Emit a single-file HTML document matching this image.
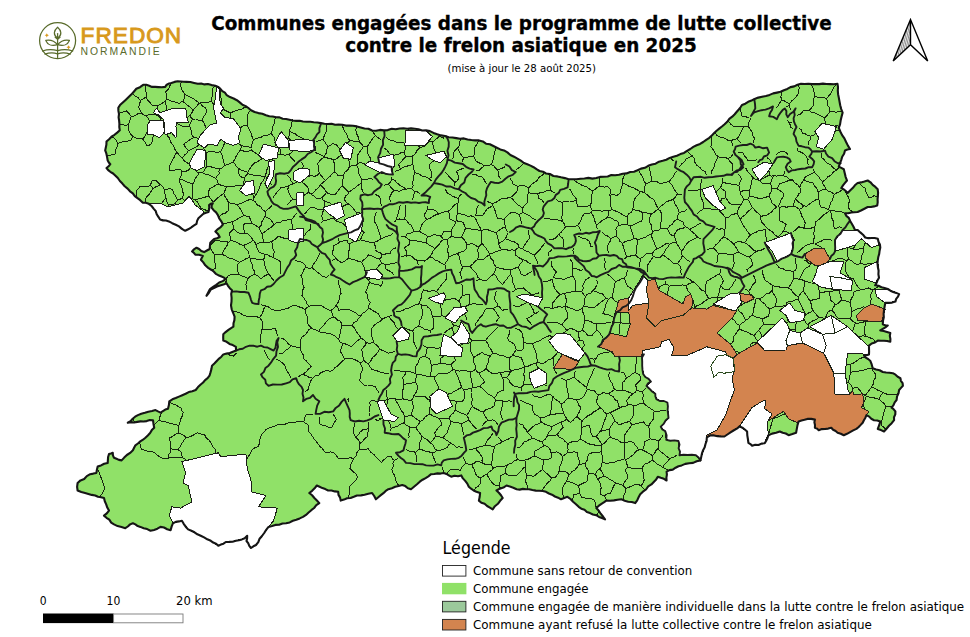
<!DOCTYPE html>
<html lang="fr"><head><meta charset="utf-8"><title>Communes engagées dans le programme de lutte collective contre le frelon asiatique en 2025</title>
<style>html,body{margin:0;padding:0;background:#fff}body{width:970px;height:637px;position:relative;overflow:hidden}</style>
</head><body>
<svg width="970" height="637" viewBox="0 0 970 637" style="position:absolute;left:0;top:0">
<rect width="970" height="637" fill="#fff"/>
<g stroke-linejoin="round" stroke-linecap="round">
<path d="M118.3 107.7 L120.0 105.1 L136.3 88.8 L143.2 84.8 L155.1 86.9 L165.2 86.9 L168.3 83.8 L177.7 81.3 L186.5 81.9 L197.8 83.8 L207.9 84.0 L215.4 85.7 L220.4 88.8 L226.7 95.1 L240.0 102.6 L251.0 110.2 L266.0 115.2 L286.1 119.0 L303.0 121.5 L328.0 124.0 L353.0 125.8 L376.0 130.8 L403.5 128.3 L426.0 130.3 L448.7 137.3 L479.0 140.4 L504.0 150.4 L524.0 163.0 L546.0 173.5 L568.6 179.3 L596.3 178.0 L634.0 171.8 L659.0 161.7 L684.0 152.9 L709.3 137.8 L721.9 126.5 L737.0 111.5 L742.0 105.0 L754.6 98.9 L777.0 92.6 L801.0 83.8 L837.5 83.8 L838.8 97.6 L842.6 112.7 L838.8 127.8 L850.0 149.0 L845.0 150.4 L838.8 166.7 L843.8 169.2 L847.0 180.5 L841.3 188.0 L847.6 193.0 L857.6 183.0 L867.7 180.5 L877.7 189.3 L877.2 205.6 L867.7 207.0 L857.6 212.0 L845.0 213.2 L850.0 220.7 L855.0 230.0 L857.7 230.0 L865.2 237.5 L877.8 238.8 L880.3 247.6 L877.8 260.2 L879.0 277.7 L875.2 285.3 L887.8 289.0 L899.1 294.1 L895.4 301.6 L885.3 302.9 L884.0 310.4 L882.8 324.2 L887.8 325.5 L880.3 330.5 L890.3 333.0 L890.3 341.8 L877.8 340.6 L869.0 345.6 L869.0 354.4 L864.0 355.6 L870.2 360.7 L872.7 368.2 L882.8 372.0 L892.8 373.2 L900.4 378.2 L902.9 385.8 L899.1 390.0 L896.6 400.0 L891.6 407.6 L895.4 411.4 L894.1 420.2 L884.0 431.5 L877.8 428.9 L880.3 421.4 L874.0 420.2 L866.5 415.1 L862.7 422.7 L856.4 428.9 L843.8 435.2 L837.6 432.7 L831.3 427.7 L818.7 430.2 L814.9 427.7 L814.9 419.6 L807.4 418.9 L798.6 421.4 L796.1 432.7 L788.6 435.2 L779.8 431.5 L768.5 435.2 L764.7 443.3 L752.1 445.8 L748.4 442.8 L747.1 431.5 L739.6 426.4 L724.4 436.5 L710.6 435.2 L706.8 437.7 L705.5 444.0 L701.3 456.6 L700.5 460.4 L681.7 465.4 L666.6 471.7 L666.6 480.5 L657.8 476.7 L654.0 481.7 L640.2 494.3 L635.2 503.1 L621.4 499.3 L606.3 500.6 L596.3 508.1 L605.0 519.4 L590.0 513.1 L578.7 506.8 L567.4 496.8 L561.0 499.3 L546.0 491.8 L529.1 489.2 L516.6 489.2 L506.5 485.5 L496.5 490.5 L502.7 498.0 L492.7 509.3 L478.9 500.6 L480.1 493.0 L476.4 491.8 L468.8 486.7 L461.3 475.4 L451.2 476.7 L443.7 472.9 L431.1 474.2 L419.8 481.7 L411.0 489.2 L402.2 485.0 L388.4 489.2 L375.9 499.3 L372.1 493.0 L357.0 495.5 L340.7 500.6 L338.2 491.8 L328.1 490.5 L316.8 485.5 L309.3 493.0 L319.3 503.1 L303.0 516.9 L286.1 523.2 L268.5 526.9 L262.0 536.0 L256.0 545.0 L251.0 548.0 L246.5 541.0 L247.2 535.7 L244.7 538.2 L235.9 540.8 L225.8 542.0 L218.3 545.8 L210.8 540.8 L200.7 535.7 L188.1 529.4 L181.9 520.7 L173.0 523.2 L170.6 530.2 L160.5 526.9 L150.5 530.7 L140.4 526.9 L132.9 523.2 L125.3 528.2 L114.0 524.4 L104.0 515.6 L109.0 510.6 L104.0 498.0 L95.2 495.5 L85.1 493.0 L77.6 490.5 L77.6 483.0 L90.2 474.2 L96.4 472.9 L97.7 466.6 L107.7 462.9 L109.0 454.1 L112.8 452.8 L114.0 457.8 L121.6 460.4 L132.9 450.3 L135.4 445.3 L145.4 437.7 L154.2 427.7 L153.0 420.2 L140.4 421.4 L127.8 422.7 L137.9 415.1 L155.5 410.1 L160.5 412.6 L168.0 408.8 L169.3 401.3 L185.6 393.8 L195.7 390.0 L200.7 384.5 L209.5 375.7 L212.0 365.7 L217.0 360.7 L223.3 354.4 L236.0 350.6 L235.9 346.8 L223.3 340.6 L223.3 334.3 L233.4 326.7 L234.6 316.7 L231.0 305.4 L232.0 290.3 L226.5 283.2 L210.8 289.5 L206.5 295.8 L210.0 289.0 L225.8 279.0 L218.3 275.2 L211.6 270.0 L205.3 265.3 L200.9 259.7 L202.8 255.9 L195.3 254.6 L192.1 251.5 L196.5 247.7 L204.1 252.1 L209.7 249.0 L210.3 242.7 L214.1 239.0 L219.7 237.0 L215.4 231.4 L222.9 224.5 L217.9 215.1 L211.6 207.6 L212.8 203.2 L209.1 205.1 L208.5 212.0 L203.4 213.8 L198.4 218.2 L196.5 223.9 L185.2 230.8 L179.0 226.4 L168.9 221.4 L160.1 219.5 L153.8 208.8 L148.8 203.8 L142.6 202.6 L130.0 191.3 L117.8 178.0 L110.3 171.8 L106.5 168.0 L110.3 164.2 L107.7 160.5 L105.2 150.4 L106.5 141.6 L119.8 130.3 L119.0 114.0Z" fill="#90e168" stroke="none"/>
<path d="M836.8 83.8 L834.4 86.6 L832.5 89.6 L831.1 93.1 L828.8 95.8 L826.6 98.7 M132.0 93.1 L134.6 95.9 L138.1 97.6 L140.5 100.6 M145.5 85.2 L145.7 89.2 L146.1 93.1 L146.3 97.1 M118.9 113.3 L122.6 112.1 L126.4 110.9 L129.0 113.5 L131.3 116.3 M119.5 124.6 L122.4 124.6 L125.2 125.4 L128.1 124.8 M892.0 407.0 L888.9 406.5 L885.8 406.0 M898.2 393.6 L896.0 394.5 L893.6 395.0 L890.1 394.6 L886.7 394.1 L883.5 392.7 M99.6 496.8 L100.3 496.0 L102.2 493.7 L103.6 491.1 L104.7 488.3 L103.4 484.5 L102.4 480.6 L100.8 477.0 L99.5 473.2 L97.7 469.6 L97.2 469.2 M166.7 98.7 L166.3 95.2 L165.8 91.7 L168.5 89.1 L169.9 85.6 L172.2 82.8 M166.7 98.7 L165.3 101.4 M166.7 98.7 L169.7 100.2 L172.8 101.7 L176.2 102.1 L179.2 103.7 L180.7 102.1 L182.9 101.4 M165.3 101.4 L162.8 102.9 L160.5 104.6 L157.6 105.3 M165.3 101.4 L165.9 104.7 L166.6 107.9 L167.0 111.2 L167.0 114.6 M181.5 81.6 L180.6 84.2 L180.9 87.0 L181.9 89.5 L183.3 91.9 L184.8 94.1 M184.8 94.1 L187.7 95.9 L190.8 97.3 L193.8 98.9 L196.5 101.1 L199.3 103.0 M184.8 94.1 L184.4 97.9 L182.9 101.4 M182.9 101.4 L185.6 103.5 L188.1 105.7 L190.8 107.8 L193.2 110.2 M199.3 103.0 L197.3 105.4 L195.1 107.7 L193.2 110.2 M193.2 110.2 L191.9 112.8 L190.4 115.3 M810.1 83.8 L811.4 84.9 L813.1 88.4 L814.0 92.2 L814.7 96.0 M798.4 84.7 L799.1 87.5 L798.9 90.3 L799.0 93.1 L796.8 95.8 L794.7 98.6 L791.7 100.7 L789.7 103.6 M886.0 429.3 L883.6 427.2 L881.2 425.2 L881.7 421.3 L882.7 417.4 L883.6 413.6 L884.8 409.8 L885.8 406.0 M288.6 138.1 L291.6 140.7 L293.3 144.3 L296.3 146.8 M288.6 138.1 L286.2 140.3 L283.8 142.5 L280.9 144.0 L278.9 146.7 M288.6 138.1 L289.4 134.3 L289.4 130.4 M296.3 146.8 L294.0 149.7 L291.6 152.6 L288.6 154.8 M296.3 146.8 L298.1 143.7 L300.9 141.5 L303.2 138.9 M288.6 154.8 L284.7 155.1 L280.9 154.1 M288.6 154.8 L290.7 157.0 L292.9 159.2 L294.9 161.5 M136.3 196.9 L136.7 193.5 L136.9 190.1 L138.5 188.7 L139.7 186.9 L143.3 186.6 L146.9 186.5 L150.4 185.8 M146.3 97.1 L147.8 100.3 L150.4 102.8 L152.3 105.7 L155.0 105.6 L157.6 105.3 M146.3 97.1 L143.3 98.6 L140.5 100.6 M140.5 100.6 L139.7 103.8 L138.6 106.9 L140.1 110.1 L141.8 113.3 M200.2 102.6 L202.0 105.6 L205.0 107.5 L207.0 110.4 L205.8 113.9 L203.4 116.9 L202.4 120.5 M200.2 102.6 L204.0 102.8 L207.8 102.2 L211.6 101.7 M211.6 101.7 L213.5 104.1 L215.6 106.3 L218.2 108.0 L220.3 110.2 M211.6 101.7 L211.7 98.4 L212.3 95.1 L212.6 91.8 L212.3 88.4 L215.2 85.7 M192.5 119.1 L195.9 119.0 L199.1 120.3 L202.4 120.5 M192.5 119.1 L191.0 117.5 L190.4 115.3 M192.5 119.1 L190.7 122.3 L189.4 125.8 M190.4 115.3 L187.6 117.1 L184.5 118.4 L181.7 120.4 L178.6 121.6 M106.5 155.7 L107.0 156.1 L109.6 155.3 L112.3 154.6 L115.0 154.0 L115.3 150.3 L117.2 147.0 L117.8 143.3 M110.6 138.1 L112.8 137.1 M842.5 112.1 L839.4 111.4 L836.2 112.1 L833.1 111.9 L830.0 111.8 M289.4 130.4 L291.9 132.5 L295.0 133.6 L297.5 135.8 L300.5 137.1 L303.2 138.9 M289.4 130.4 L291.0 127.1 L291.6 123.5 L292.4 119.9 M301.8 162.7 L302.9 164.6 L303.9 166.5 L301.3 168.7 L299.4 171.4 L300.8 173.7 L301.1 176.3 M303.2 138.9 L307.1 139.5 L310.5 141.2 M280.9 154.1 L277.7 154.9 L274.4 155.1 L272.1 157.5 L269.2 159.1 M280.9 154.1 L280.6 150.2 L278.9 146.7 M278.9 146.7 L276.9 146.1 L275.2 145.0 L275.1 141.3 L274.6 137.7 L272.8 135.5 L271.2 133.3 M269.2 159.1 L269.1 162.7 L268.2 166.2 L267.0 169.5 L266.1 173.0 L265.5 176.5 M269.2 159.1 L266.1 158.1 L262.8 158.3 M275.7 117.0 L274.5 120.2 L274.1 123.6 L272.8 126.7 L272.3 130.1 L271.2 133.3 M271.2 133.3 L267.8 135.0 L263.9 135.3 L260.7 137.7 L256.9 138.1 L253.4 139.5 M220.7 473.7 L221.9 477.5 L222.2 481.6 L222.6 485.5 L223.7 489.4 L224.1 493.4 L224.3 497.4 L225.3 501.3 L224.2 504.7 L223.5 508.1 L223.2 511.7 L222.4 515.1 L222.3 518.5 L222.3 521.9 L222.3 525.4 L222.6 528.8 L222.6 532.2 L222.8 535.6 L223.4 539.1 L225.1 542.3 M220.7 473.7 L223.9 472.8 L227.3 473.6 L230.5 473.1 L233.7 472.4 L236.7 471.5 L239.0 469.3 L241.8 468.0 L244.0 465.3 L245.6 462.3 L246.9 459.1 L248.5 456.0 L250.6 453.3 L251.8 450.0 L254.8 447.8 L258.3 446.7 L259.3 443.7 L259.3 440.4 L260.8 437.5 L261.3 434.3 L263.8 432.7 L265.3 430.3 L267.5 428.4 L270.9 427.4 L274.2 426.5 L277.4 425.0 L280.8 424.1 L284.5 424.4 L287.8 423.0 L291.1 422.0 L294.3 422.6 L297.4 421.6 L300.6 421.8 L303.8 421.9 M220.7 473.7 L218.2 470.6 L215.2 468.0 L212.0 465.6 L209.5 462.5 M233.0 311.7 L235.1 311.3 L237.8 312.3 L240.5 313.3 L242.8 315.0 L246.1 316.0 L249.6 316.2 L253.0 316.6 L256.5 316.7 L259.8 317.7 M157.6 105.3 L157.6 108.4 L156.1 111.3 L155.6 114.3 M230.4 113.0 L233.6 111.5 L236.7 110.1 L240.3 109.8 L243.4 108.0 L246.8 107.3 M230.4 113.0 L227.8 111.6 L225.0 110.4 L222.5 108.8 M230.4 113.0 L230.7 116.5 L229.9 120.0 L232.1 122.8 L233.8 126.0 L236.1 128.8 M222.5 108.8 L221.5 104.9 L222.0 100.8 L220.8 97.0 L220.1 93.1 L221.3 89.7 M222.5 108.8 L220.3 110.2 M220.3 110.2 L220.0 114.0 L221.4 117.6 L220.7 121.5 L221.6 125.1 L221.7 128.9 M250.9 110.1 L248.9 112.1 L247.9 114.7 L247.6 118.1 L247.4 121.6 L247.0 125.0 M112.8 137.1 L115.8 139.8 L117.8 143.3 M117.8 143.3 L121.0 142.4 L124.2 141.4 L127.5 141.1 L130.7 140.3 L131.7 138.4 L133.0 136.6 M178.6 121.6 L176.0 119.3 L173.0 117.8 L170.2 115.9 L167.0 114.6 M178.6 121.6 L177.8 123.7 M142.5 139.1 L145.2 142.0 L147.0 145.6 L149.3 145.1 L151.3 143.8 L152.7 141.0 L152.6 137.7 L154.2 134.9 M142.5 139.1 L144.9 136.5 L146.5 133.4 L148.5 130.5 M142.5 139.1 L139.3 138.5 L136.0 138.1 L133.0 136.6 M826.6 98.7 L823.7 97.6 L820.6 97.5 L817.6 97.1 L814.7 96.0 M826.6 98.7 L827.5 102.0 L827.6 105.4 L829.8 108.4 L830.0 111.8 M411.8 400.0 L412.4 402.9 L413.3 405.7 L413.1 408.7 L412.0 411.8 L411.2 415.1 M411.8 400.0 L413.0 398.1 L413.7 395.9 M411.8 400.0 L408.7 400.2 L405.7 399.3 L402.7 398.9 M413.7 395.9 L417.5 396.2 L421.3 396.3 L425.1 396.6 L427.1 398.8 L429.8 400.1 M413.7 395.9 L415.4 393.7 L416.7 391.2 L417.6 388.6 L417.3 385.6 L415.9 382.9 M648.8 165.8 L649.6 169.6 L650.7 173.3 L651.2 177.1 L652.0 180.9 M145.0 203.1 L145.2 200.0 L146.2 197.1 L148.9 194.7 L150.8 191.7 L153.1 189.0 M178.4 226.1 L181.6 226.2 L180.8 223.5 L180.8 220.7 L180.4 217.9 L182.0 214.8 L182.5 211.4 L183.7 208.2 L185.3 205.1 L186.6 201.9 M173.9 223.9 L174.2 221.5 L174.1 219.0 L172.8 216.2 L170.9 213.9 L169.7 211.0 L167.8 208.6 L168.4 204.8 M348.6 498.1 L349.2 494.2 L349.7 490.3 L349.8 486.4 L352.0 484.2 L354.0 481.8 L356.3 479.7 L357.8 476.9 L355.7 473.6 L352.6 471.2 L349.9 468.4 L350.7 464.8 L352.1 461.4 L353.9 458.2 M254.2 197.0 L256.5 193.9 L258.2 190.5 L259.7 187.1 L261.0 183.5 L263.3 180.4 L264.8 176.9 M254.2 197.0 L252.6 194.4 L252.3 191.3 L250.7 188.8 L247.2 186.8 L243.4 185.6 M254.2 197.0 L252.9 200.1 M271.6 205.9 L269.7 208.0 L267.4 209.7 L265.2 211.5 M273.4 197.2 L275.2 194.6 L277.1 192.0 L279.4 189.8 L281.1 187.1 L284.8 187.1 L288.4 185.9 M316.3 141.9 L319.5 140.5 L322.8 139.4 M264.8 176.9 L261.4 176.1 L258.0 175.5 L254.5 175.2 L251.1 174.7 L247.8 173.5 M244.1 177.8 L244.0 181.7 L243.4 185.6 M244.1 177.8 L246.0 175.7 L247.8 173.5 M244.1 177.8 L241.7 177.2 L239.6 175.9 L238.5 172.2 L238.2 168.3 M243.4 185.6 L240.1 185.5 L236.7 185.2 L233.4 186.5 L230.0 186.1 L226.7 186.2 M262.8 158.3 L260.0 159.8 L257.6 161.9 L254.5 162.8 L251.8 165.7 L249.8 169.0 L247.7 172.3 M262.8 158.3 L259.7 156.6 L257.1 154.1 L254.1 152.2 L251.4 149.9 M288.4 185.9 L290.8 184.8 L293.3 184.0 M288.4 185.9 L287.9 189.3 L288.7 192.6 L290.5 196.0 L292.8 199.1 M293.3 184.0 L291.3 181.4 L290.1 178.1 L287.7 175.8 M293.3 184.0 L295.8 182.7 L297.8 180.5 L300.4 179.4 M265.5 176.5 L267.6 179.1 L269.6 181.9 L271.5 184.7 M252.9 200.1 L255.6 202.1 L257.4 205.1 L260.7 206.5 L262.4 209.6 L265.2 211.5 M252.9 200.1 L249.8 199.8 L246.7 200.3 L243.8 202.4 L240.3 203.4 L237.2 205.0 M315.1 152.4 L318.2 153.8 L321.3 155.1 L324.2 156.8 M342.0 125.0 L343.3 128.2 L344.7 131.4 L346.7 134.3 L347.9 137.6 L349.7 140.6 M326.0 123.8 L326.6 127.5 L326.5 131.2 L325.1 133.9 L324.0 136.6 L322.8 139.4 M253.4 139.5 L251.7 135.9 L250.8 132.0 L248.8 128.6 L247.0 125.0 M253.4 139.5 L252.7 142.3 L251.8 145.1 L251.3 148.0 M202.4 120.5 L204.1 123.2 L205.3 126.2 L206.4 129.2 M206.0 152.6 L204.5 149.8 L203.3 146.9 L202.4 143.8 M206.0 152.6 L209.6 151.7 L213.2 151.7 L216.9 152.4 L220.5 151.7 M206.0 152.6 L206.1 156.1 L206.4 159.6 L206.2 163.1 L206.6 166.6 M305.1 309.7 L306.9 307.7 L309.2 306.2 M305.1 309.7 L302.1 307.8 L298.8 306.8 L295.7 305.3 L291.8 306.1 L288.3 308.2 L284.4 309.1 L280.6 310.2 L276.6 310.8 L273.6 310.0 L270.8 308.8 L268.3 306.9 L265.4 305.9 M305.1 309.7 L305.8 313.2 L307.1 316.6 L307.4 320.1 L307.8 323.7 L309.3 326.0 L311.3 328.0 M309.2 306.2 L307.1 303.9 L305.8 300.9 L304.1 298.3 L301.9 296.0 L302.7 293.1 L302.7 290.0 L304.1 287.3 L302.9 284.5 L302.7 281.4 L302.3 278.4 L300.9 275.6 L302.7 272.8 L303.8 269.7 L305.8 267.1 M309.2 306.2 L313.1 305.3 L317.1 305.8 L321.1 305.4 L324.1 307.5 L327.3 309.2 L330.7 310.5 M209.5 462.5 L205.6 462.9 L201.9 464.1 L198.0 464.8 L194.1 464.7 L190.9 463.3 L188.1 461.4 L185.4 459.3 L182.4 457.7 M209.5 462.5 L211.7 460.9 L213.5 458.7 L215.8 457.2 L215.8 453.2 L215.5 449.3 L212.8 446.7 L211.3 443.3 L209.1 440.3 L206.2 437.9 L204.5 434.6 L201.1 434.1 L197.8 432.8 L194.9 434.1 L192.1 435.8 L189.2 436.9 L186.0 437.6 M133.4 418.5 L134.4 422.0 M154.2 134.9 L151.2 132.9 L148.5 130.5 M154.2 134.9 L157.1 132.7 L159.1 129.7 M148.5 130.5 L149.7 127.4 L151.7 124.8 L149.6 121.9 L148.3 118.5 L145.9 115.8 M133.0 136.6 L130.8 134.4 L129.2 131.7 L128.3 128.3 L128.1 124.8 M226.7 186.2 L225.3 189.8 L223.8 193.3 M226.7 186.2 L223.8 186.0 L221.0 185.2 L218.4 183.9 M223.8 193.3 L224.9 196.5 L226.9 199.3 L228.5 202.3 M223.8 193.3 L221.1 195.4 L218.3 197.4 L215.9 199.8 L213.3 201.9 M177.8 123.7 L174.9 124.9 L172.3 126.7 L170.0 128.9 L169.1 132.4 L167.1 135.3 M177.8 123.7 L180.4 125.2 L183.0 126.7 L186.3 126.8 L189.4 125.8 M189.4 125.8 L190.6 128.7 L191.8 131.5 L192.0 134.8 L193.6 137.5 M814.7 96.0 L813.5 99.0 L813.6 102.3 L813.2 105.4 L811.4 108.2 L809.0 110.6 M830.0 111.8 L828.1 113.8 L826.6 116.3 L824.3 118.0 M781.7 100.1 L780.9 97.1 L781.2 94.0 L781.4 91.0 M781.7 100.1 L779.9 102.8 L778.2 105.7 L776.0 108.1 M781.7 100.1 L784.5 101.0 L787.0 102.5 L789.7 103.6 M749.2 118.1 L745.8 116.7 L742.1 116.3 L741.4 113.3 L740.4 110.4 L740.1 107.4 M750.6 118.8 L748.9 122.3 L748.3 126.2 M878.8 399.1 L881.2 401.3 L883.8 403.3 L885.8 406.0 M878.8 399.1 L880.7 395.5 L883.5 392.7 M878.8 399.1 L875.6 398.3 L872.4 397.4 L869.2 397.0 L865.9 396.9 M883.5 392.7 L880.5 391.3 L877.4 390.0 L874.6 388.1 L871.4 387.2 M707.1 399.0 L710.4 398.1 L713.8 397.8 L717.2 397.4 L720.6 397.1 M707.1 399.0 L705.7 396.9 L703.8 395.3 L700.8 395.9 L697.9 396.8 L695.0 397.5 L692.2 398.8 M707.1 399.0 L706.2 401.7 L706.3 404.5 M883.6 315.0 L882.1 317.3 L880.2 319.2 L878.8 321.6 L875.5 322.0 L872.3 321.4 L869.0 321.9 L865.7 321.3 M883.8 313.3 L880.7 312.4 L877.7 311.4 L874.4 311.2 L871.4 310.2 M861.2 424.2 L859.5 422.0 L858.6 419.2 L857.3 416.8 M474.1 490.2 L475.7 487.7 L478.3 486.1 L480.1 483.7 L480.3 480.7 L481.1 477.9 M596.3 515.7 L597.6 513.8 L598.8 511.9 L598.1 510.5 M596.9 507.6 L595.2 505.2 L595.0 502.2 L593.6 499.6 L590.6 498.7 L587.5 498.3 L584.4 497.9 L581.3 498.0 L580.9 495.5 L579.6 493.4 M168.4 204.8 L171.6 205.0 L174.6 203.8 L176.2 202.0 L177.7 200.2 M168.4 204.8 L166.8 201.5 L166.1 198.0 M178.7 425.5 L175.5 424.5 L172.2 423.9 L168.9 423.0 L165.7 422.0 L162.3 421.6 L159.2 420.2 M178.7 425.5 L179.9 422.2 L180.8 418.9 L182.4 415.7 L183.1 412.3 L181.8 410.5 L181.5 408.3 L178.6 406.7 L175.8 405.0 L172.6 404.0 L170.0 402.0 L169.2 402.0 M178.7 425.5 L178.4 429.3 L178.9 433.0 M159.2 420.2 L159.5 417.4 L160.8 414.9 L161.3 412.2 M159.2 420.2 L156.5 422.6 L153.7 424.9 M226.9 353.3 L229.9 355.3 L233.4 356.2 L236.1 353.4 M168.3 458.2 L165.8 458.4 L163.2 458.5 L160.2 457.2 L157.6 455.5 L155.3 453.1 L151.9 451.6 L148.1 451.4 L144.6 450.2 L141.1 448.9 L140.7 445.5 L139.3 442.4 M168.3 458.2 L171.8 457.5 L175.3 457.9 L178.9 457.7 L182.4 457.7 M168.3 458.2 L168.6 455.0 L170.4 452.1 L170.7 448.8 M170.7 448.8 L174.2 449.5 L177.8 449.4 M170.7 448.8 L170.4 445.2 L170.3 441.6 L169.2 438.2 L172.5 436.5 L175.4 434.2 L178.9 433.0 M301.1 176.3 L300.4 179.4 M301.1 176.3 L304.6 176.5 L308.1 176.5 L311.5 175.7 L315.0 176.3 L317.5 175.0 L319.6 173.1 M300.4 179.4 L302.4 182.3 L305.2 184.5 L307.6 187.0 L308.7 189.6 L308.7 192.4 M207.3 211.0 L208.8 208.8 M207.3 211.0 L204.6 209.5 L201.7 208.6 L199.4 205.8 L197.9 202.5 L195.2 200.0 M244.6 233.2 L243.9 229.5 L243.1 225.9 L245.1 223.1 L248.3 223.4 L251.5 223.3 M244.6 233.2 L241.7 233.3 L238.8 233.1 L236.0 231.2 L233.9 228.7 M244.6 233.2 L246.6 233.3 L248.5 234.2 L251.0 237.1 L253.1 240.3 M233.9 228.7 L233.0 225.2 L232.3 221.7 M233.9 228.7 L231.2 231.1 L229.0 234.0 L230.4 237.1 L231.0 240.5 M322.8 139.4 L324.7 141.7 L326.3 144.2 L328.1 146.5 M328.1 146.5 L330.5 145.2 L332.7 143.7 L336.5 144.7 L338.2 147.0 L339.8 149.5 L341.0 152.1 M328.1 146.5 L326.7 149.9 L326.0 153.6 L324.2 156.8 M236.2 142.3 L234.7 139.4 L233.3 136.5 L232.0 133.5 M236.2 142.3 L239.0 143.8 L241.6 145.7 M236.2 142.3 L232.6 141.6 L228.9 141.8 L225.3 141.0 M241.6 145.7 L244.9 146.3 L248.2 146.6 L251.3 148.0 M241.6 145.7 L241.0 147.9 L240.4 150.1 M247.7 172.3 L244.4 171.3 L241.2 170.1 L238.2 168.3 M251.4 149.9 L248.4 151.2 L245.2 151.8 L242.9 150.7 L240.4 150.1 M240.4 150.1 L238.2 152.9 L236.2 155.9 L235.0 159.3 L232.7 162.1 M228.4 134.1 L232.0 133.5 M228.4 134.1 L226.2 132.3 L224.0 130.6 L221.7 128.9 M228.4 134.1 L226.9 137.6 L225.3 141.0 M232.0 133.5 L234.0 131.1 L236.1 128.8 M236.1 128.8 L239.8 127.9 L243.3 126.0 L247.0 125.0 M221.7 128.9 L217.9 129.2 L214.0 128.9 L210.2 129.3 L206.4 129.2 M206.4 129.2 L205.0 132.2 L203.9 135.2 L202.7 138.3 M202.7 138.3 L199.6 138.3 L196.6 138.0 L193.6 137.5 M202.7 138.3 L203.0 141.1 L202.4 143.8 M202.4 143.8 L198.6 145.0 L195.6 147.5 L191.9 149.0 L188.4 150.6 M225.3 141.0 L223.9 144.7 L222.3 148.2 L220.5 151.7 M305.8 267.1 L308.7 268.1 L311.8 268.0 M305.8 267.1 L304.9 264.7 L302.9 263.0 L300.4 261.8 L297.6 261.5 L295.3 260.0 M311.8 268.0 L314.8 269.8 L317.4 272.1 L320.1 274.3 L322.8 276.5 L326.6 277.4 L328.4 275.8 M311.8 268.0 L313.1 265.0 L314.9 262.2 L316.9 259.5 L318.4 256.6 L319.5 253.5 M243.8 215.4 L246.3 216.2 L248.9 216.1 L250.6 219.6 L251.5 223.3 M243.8 215.4 L241.0 217.1 L238.1 218.7 L235.3 220.4 L232.3 221.7 M243.8 215.4 L242.3 212.7 L240.8 210.0 L239.3 207.3 L237.2 205.0 M251.5 223.3 L254.2 224.5 L256.6 226.1 L259.2 227.5 M300.5 347.8 L301.0 344.5 L300.3 341.2 L301.2 337.9 L304.0 335.7 L306.6 333.3 L308.4 330.1 L311.3 328.0 M300.5 347.8 L297.2 347.8 L294.2 346.3 L291.0 345.9 M300.5 347.8 L301.1 351.5 L303.2 354.7 L303.6 358.4 L306.3 361.0 L308.8 363.7 L311.2 366.6 L308.5 369.2 L305.9 371.9 L303.0 374.3 M291.0 345.9 L288.8 348.4 L286.0 349.9 L283.8 352.4 L280.9 353.9 L279.2 354.0 M291.0 345.9 L288.2 343.7 L286.0 341.0 L283.3 338.7 L281.4 338.5 M311.3 328.0 L313.6 329.5 L316.3 330.1 L318.6 331.5 M186.0 437.6 L183.9 440.5 L181.9 443.5 L180.2 446.7 L177.8 449.4 M186.0 437.6 L184.0 435.5 L181.4 434.4 L178.9 433.0 M177.8 449.4 L179.9 451.0 L181.8 452.7 L181.7 455.3 L182.4 457.7 M225.5 283.6 L226.2 280.7 L226.9 277.7 L228.1 275.8 L230.1 274.9 L232.9 274.2 L235.7 274.7 L238.5 274.5 M131.3 116.3 L135.0 115.9 L138.1 113.7 L141.8 113.3 M131.3 116.3 L130.2 119.1 L129.7 122.2 L128.1 124.8 M141.8 113.3 L143.6 115.0 L145.9 115.8 M188.4 150.6 L186.7 153.2 L184.3 155.3 L182.4 157.9 M188.4 150.6 L185.6 147.7 L183.8 144.1 L187.0 141.8 L190.2 139.4 L193.6 137.5 M159.1 129.7 L161.7 131.6 L164.5 133.3 L167.1 135.3 M159.1 129.7 L160.4 126.0 L160.6 122.1 L161.0 118.3 M167.1 135.3 L169.6 138.4 L170.8 142.2 L173.2 145.3 L174.7 149.0 L177.0 152.1 M202.6 172.9 L199.1 173.0 M202.6 172.9 L205.9 174.2 L209.3 175.2 L212.5 176.7 L215.7 178.3 M202.6 172.9 L204.7 169.8 L206.6 166.6 M206.6 166.6 L209.9 166.7 L213.1 167.3 L216.3 168.3 L219.5 169.0 M199.1 173.0 L196.1 171.3 L193.7 168.8 L190.9 166.8 M199.1 173.0 L197.4 175.8 L195.3 178.4 L194.2 181.6 L192.5 184.4 M182.0 171.7 L180.1 169.1 L176.5 169.7 L172.9 170.4 L169.3 170.5 L169.0 166.7 L170.5 163.7 L172.1 160.8 L173.8 158.0 L175.0 154.8 L177.0 152.1 M182.0 171.7 L184.8 171.4 L187.5 170.8 L189.4 169.0 L190.9 166.8 M182.0 171.7 L181.1 175.4 L179.7 178.9 M190.9 166.8 L189.2 164.1 L186.6 162.4 L184.0 160.6 L182.4 157.9 M789.3 123.0 L787.3 120.0 M789.3 123.0 L792.0 122.2 M789.3 123.0 L790.2 124.8 L790.2 126.9 L792.9 128.3 M790.9 109.4 L789.6 107.1 L789.6 104.5 M797.0 115.4 L800.1 114.5 M800.1 114.5 L802.0 112.6 L803.6 110.5 L806.3 110.3 L809.0 110.6 M789.6 104.5 L787.0 106.6 M599.3 177.5 L599.9 180.4 L599.6 183.3 L599.4 186.2 M524.5 163.3 L521.7 165.0 L519.4 167.4 L516.6 169.2 M624.3 173.4 L624.0 176.6 L622.5 179.6 L622.5 182.9 M638.5 170.0 L640.2 173.4 L642.5 176.5 L643.7 180.2 L645.6 183.5 M609.9 195.1 L613.5 194.8 L617.1 195.5 L619.9 193.1 L620.8 189.7 L621.9 186.4 L622.5 182.9 M609.9 195.1 L610.4 192.1 L610.1 189.0 L607.6 186.6 L604.8 187.1 L602.1 186.6 L599.4 186.2 M609.9 195.1 L610.3 198.7 L610.2 202.4 L610.6 206.0 L611.7 209.5 M622.5 182.9 L626.0 184.6 L629.5 186.5 L633.3 187.7 L636.7 189.6 L640.2 191.5 M727.4 121.0 L729.4 122.2 L730.8 124.2 L733.8 126.8 L737.3 126.9 L740.7 126.3 L744.2 126.5 M687.0 151.1 L689.5 153.7 L692.4 155.9 M671.2 157.4 L672.0 159.4 L673.5 160.9 M692.2 398.8 L691.3 395.3 L689.8 392.1 M691.9 399.2 L692.7 402.7 L693.6 406.1 L694.0 409.7 L694.7 413.2 M691.9 399.2 L688.6 400.7 L685.4 402.4 L681.6 402.8 L678.3 404.2 L675.1 405.9 M632.8 209.1 L636.1 210.4 L639.6 211.0 L642.7 212.7 M632.8 209.1 L633.4 205.9 L633.5 202.6 L634.5 199.4 L636.1 196.6 L638.7 194.4 L640.2 191.5 M632.8 209.1 L631.3 212.1 L628.5 214.1 L627.1 217.2 M640.2 191.5 L643.9 192.3 M642.7 212.7 L645.6 212.6 L648.4 213.3 L651.2 214.0 M642.7 212.7 L643.0 215.6 L642.6 218.4 L641.7 221.2 L638.7 222.2 L635.7 223.5 L633.0 225.2 L629.9 226.0 M833.5 398.1 L830.2 397.5 L827.1 396.0 L824.4 397.5 L821.6 398.3 L818.7 399.3 M833.5 398.1 L835.3 395.1 L836.4 391.9 L837.2 388.5 L840.1 386.1 L843.4 384.2 M833.5 398.1 L835.9 401.2 L837.3 404.8 M873.8 238.4 L874.1 239.2 L871.3 241.3 L867.8 242.0 L864.8 243.6 L863.8 246.2 L863.3 249.0 M862.6 234.9 L861.3 235.4 L859.1 237.8 L858.3 241.1 L856.0 243.5 L854.8 246.5 L852.9 249.1 M877.5 196.5 L873.6 195.8 L871.6 197.4 L869.1 197.9 M865.9 396.9 L864.9 400.3 L862.8 403.2 M862.8 403.2 L863.2 405.7 L864.3 407.9 L863.0 410.1 L862.5 412.6 L860.1 415.0 L857.3 416.8 M862.8 403.2 L859.8 401.6 L856.6 400.5 L853.8 398.6 M857.3 416.8 L854.5 417.6 L851.7 417.9 L849.7 415.2 L848.0 412.3 L845.0 410.4 L843.9 407.0 L841.4 404.7 M398.8 486.0 L397.1 482.9 L395.4 479.7 L394.8 476.1 L393.1 472.9 L391.9 469.6 L393.3 466.8 L392.9 463.4 L394.4 460.6 M415.9 382.9 L412.8 382.7 L409.7 383.6 L406.7 383.9 L403.6 384.3 M415.9 382.9 L415.6 380.0 L416.2 377.1 L416.7 374.2 M415.5 373.3 L412.4 372.5 L409.3 371.6 L406.0 371.6 M415.5 373.3 L415.2 369.9 L415.6 366.5 L417.7 363.6 L418.8 360.2 L420.7 357.2 M416.7 374.2 L420.2 374.3 L423.4 375.6 L426.8 376.2 L430.3 376.3 M430.3 442.9 L433.0 445.0 L434.4 448.3 L437.1 450.4 M430.3 442.9 L432.2 441.0 L433.8 438.7 L435.3 436.5 M430.3 442.9 L427.7 440.1 L424.4 438.3 L421.6 435.8 M435.3 436.5 L439.2 436.8 L443.0 437.8 M435.3 436.5 L434.9 432.8 L436.6 429.8 L438.9 427.3 L441.4 425.0 L441.0 421.7 L439.5 418.8 M443.0 437.8 L445.3 434.7 L447.9 432.0 L448.1 428.3 L450.0 425.0 L450.5 421.4 M443.0 437.8 L445.7 439.7 L448.5 441.5 L451.2 443.4 M419.0 449.3 L422.3 449.9 L425.5 451.1 L428.9 451.7 L432.0 453.1 M419.0 449.3 L419.4 445.9 L419.6 442.4 L421.5 439.3 L421.6 435.8 M419.0 449.3 L417.3 450.9 L415.5 452.4 M432.0 453.1 L434.8 452.2 L437.1 450.4 M432.0 453.1 L433.1 456.2 L434.3 459.3 L435.7 462.3 M437.1 450.4 L440.6 450.2 L444.0 449.0 L446.8 447.7 L448.6 445.0 L451.2 443.4 M542.5 491.3 L543.3 488.1 L545.5 485.7 L547.3 483.0 L549.9 481.0 L551.6 478.2 M572.9 501.7 L573.0 498.2 L573.4 494.8 L576.5 494.2 L579.6 493.4 M564.2 498.0 L562.6 494.4 L562.7 491.4 L562.6 488.4 L563.6 485.5 L565.2 483.4 L566.6 481.3 M606.8 500.6 L605.7 498.0 L603.7 496.0 M623.4 499.9 L623.6 495.9 L625.3 492.2 L625.7 488.3 M691.4 379.9 L690.1 382.9 L688.8 385.9 L689.5 389.0 L689.8 392.1 M691.4 379.9 L692.9 377.7 L694.9 375.8 L696.0 373.3 M691.4 379.9 L689.0 377.6 L685.8 376.7 L683.3 374.6 M696.0 373.3 L699.1 373.5 L702.1 374.4 L705.3 374.1 L708.3 374.9 M696.0 373.3 L696.6 370.4 L697.5 367.5 L698.5 364.7 L698.1 361.5 L697.3 358.4 M839.8 129.7 L836.6 130.8 L833.9 132.7 L831.1 134.3 L828.0 135.6 L825.8 136.1 L823.6 135.5 M839.1 126.7 L838.5 126.0 L835.2 125.9 L832.0 127.2 L828.7 127.0 L825.4 127.3 M160.3 184.5 L157.9 182.4 L155.7 180.1 L153.6 180.1 L151.8 181.2 L151.0 183.5 L150.4 185.8 M160.3 184.5 L158.0 186.1 L155.2 187.1 L153.1 189.0 M160.3 184.5 L162.8 186.9 L164.5 189.8 M153.1 189.0 L152.1 187.1 L150.4 185.8 M177.7 200.2 L179.8 199.4 L181.9 198.4 M177.7 200.2 L176.1 196.8 L174.0 193.7 L172.8 190.1 L169.9 188.0 L167.4 189.4 L164.5 189.8 M181.9 198.4 L184.3 200.1 L186.6 201.9 M181.9 198.4 L183.1 196.1 L183.2 193.4 L182.4 189.7 L181.5 186.1 L179.9 182.7 L179.7 178.9 M186.6 201.9 L189.1 199.8 L192.2 198.6 M218.4 183.9 L215.3 185.6 L212.3 187.4 L209.3 189.2 L208.6 192.5 L208.5 195.9 M218.4 183.9 L217.5 180.9 L215.7 178.3 M213.3 201.9 L210.8 199.0 L208.5 195.9 M208.5 195.9 L205.2 197.1 L201.9 198.1 L198.5 198.8 L195.2 200.0 M215.7 178.3 L217.1 175.9 L219.2 174.1 L219.0 171.5 L219.5 169.0 M228.5 202.3 L228.3 205.0 L228.7 207.8 L228.4 210.5 L225.5 213.0 L221.7 214.3 L218.9 216.9 M228.5 202.3 L231.3 203.7 L234.4 203.8 L237.2 205.0 M238.2 168.3 L236.3 166.3 L234.9 163.8 L232.7 162.1 M232.7 162.1 L230.3 163.7 L227.5 164.2 L225.0 165.4 M291.3 220.0 L293.2 217.7 L295.1 215.2 L297.0 212.9 M291.3 220.0 L291.8 222.8 L292.3 225.6 L292.4 228.5 L291.8 232.0 L290.9 235.4 L289.8 238.7 M291.3 220.0 L288.4 219.6 L285.6 220.5 L282.8 220.6 L280.1 222.5 L276.6 222.7 L273.9 224.6 M263.5 259.8 L260.2 259.5 L257.0 259.3 L253.8 258.2 L250.5 258.4 M263.5 259.8 L264.5 257.1 L264.3 254.2 M263.5 259.8 L264.7 263.3 L265.2 267.0 L266.8 270.4 L268.2 273.8 M264.3 254.2 L261.4 253.4 L258.8 252.0 L257.9 249.5 L256.7 247.0 L256.0 244.4 M264.3 254.2 L267.3 254.8 L270.0 256.3 L272.9 257.3 M272.9 257.3 L273.5 254.6 L274.3 252.0 L273.0 248.6 L272.4 245.0 L271.7 241.5 M272.9 257.3 L275.6 258.7 L278.3 260.1 L280.6 262.1 L280.5 265.7 L280.0 269.2 L280.3 272.8 L280.9 273.8 M273.9 224.6 L272.1 221.7 L270.1 218.9 L267.6 217.7 L265.1 216.5 M273.9 224.6 L271.3 227.4 L268.1 229.3 L265.2 231.6 L262.1 233.7 M265.1 216.5 L265.1 214.0 L265.2 211.5 M265.1 216.5 L263.4 219.1 L261.8 221.8 L261.3 225.1 L259.2 227.5 M259.2 227.5 L260.4 230.7 L262.1 233.7 M238.5 274.5 L237.8 271.1 L237.1 267.8 L237.7 264.8 L239.3 262.3 M238.5 274.5 L241.7 275.9 L244.9 277.1 L248.2 278.3 M239.3 262.3 L236.0 260.3 L232.5 258.9 L228.7 257.9 L225.5 255.8 L221.9 254.4 M239.3 262.3 L242.6 260.9 L245.7 258.8 L249.1 257.5 M333.2 316.8 L335.6 318.1 L337.5 320.1 L340.0 321.1 L341.3 322.9 L341.7 325.1 M333.2 316.8 L330.8 318.1 L328.4 319.3 L325.9 322.3 L323.7 325.6 L320.7 328.1 L318.6 331.5 M333.2 316.8 L332.4 313.5 L330.7 310.5 M341.7 325.1 L341.1 328.7 L340.5 332.3 L339.7 335.8 L338.5 339.3 M341.7 325.1 L345.2 325.1 L348.7 325.1 L352.2 325.4 M352.2 325.4 L353.8 322.7 L356.8 321.3 L358.3 318.5 L360.4 316.3 M352.2 325.4 L354.8 328.5 L356.7 332.0 L359.0 335.3 L361.5 338.4 M338.5 339.3 L335.9 336.7 L332.7 334.9 L329.6 333.1 L325.9 333.0 L322.2 332.7 L318.6 331.5 M338.5 339.3 L339.7 341.7 L342.0 343.2 M591.3 212.6 L587.8 213.9 L584.0 213.8 L582.3 216.7 L581.0 219.8 L579.4 222.8 L577.6 225.6 M591.3 212.6 L592.2 210.8 M591.3 212.6 L593.1 215.7 L594.5 218.9 L595.2 222.4 L596.6 225.6 M592.2 210.8 L591.1 208.4 L590.6 205.8 M592.2 210.8 L595.6 210.4 L599.0 210.9 L602.3 211.1 L605.7 210.8 L609.1 210.8 M590.6 205.8 L587.4 206.1 L584.4 207.0 L581.1 206.1 L578.0 207.1 L577.0 203.8 L576.9 200.3 M590.6 205.8 L591.3 202.1 L591.0 198.2 L592.0 194.6 L592.3 190.8 M372.7 130.1 L373.0 132.3 L375.4 135.2 M356.6 126.6 L355.9 129.4 L356.1 132.7 L357.7 135.7 L358.9 138.7 L359.2 142.0 M387.5 399.9 L387.0 403.7 L385.7 407.2 L384.0 410.6 L385.3 414.1 L387.3 417.2 M387.5 399.9 L384.0 400.1 L380.8 401.5 M210.8 269.4 L213.1 269.3 L215.1 268.3 L215.4 264.9 L214.7 261.6 L214.2 258.3 L214.4 254.9 M182.4 157.9 L179.3 155.4 L177.0 152.1 M824.3 118.0 L821.4 116.1 L818.3 114.8 L815.3 113.1 L811.9 112.4 L809.0 110.6 M824.3 118.0 L825.1 121.1 L825.6 124.1 L825.4 127.3 M599.4 186.2 L596.8 187.4 L594.9 189.7 L592.3 190.8 M645.6 183.5 L649.0 182.8 L652.0 180.9 M645.6 183.5 L645.0 186.4 L644.4 189.4 L643.9 192.3 M652.0 180.9 L654.7 181.6 L657.5 182.0 L660.0 183.4 L663.0 183.1 L665.9 182.1 L668.9 181.7 M689.8 392.1 L686.1 391.7 L682.7 390.4 L679.1 389.7 M744.2 126.5 L746.3 126.5 L748.3 126.2 M744.2 126.5 L742.2 129.5 L740.8 132.9 L739.1 136.1 L736.8 138.9 M651.2 214.0 L653.7 212.7 L655.8 210.7 L658.3 209.4 M651.2 214.0 L649.9 217.6 L649.2 221.3 L651.1 224.6 L651.3 228.5 L653.2 231.8 M658.3 209.4 L660.3 210.9 L661.3 213.2 L661.6 217.1 L661.1 220.9 L660.6 224.7 L660.6 228.6 M660.6 228.6 L658.4 230.3 L655.4 230.2 L653.2 231.8 M660.6 228.6 L664.1 228.0 L667.6 228.7 M653.2 231.8 L651.3 234.4 M869.1 197.9 L867.2 194.7 L865.7 191.4 L864.9 187.8 L862.3 186.6 L860.6 184.3 L858.2 182.9 M837.3 404.8 L837.3 407.8 L836.0 410.4 L833.6 412.8 L830.8 414.7 L828.0 416.6 M837.3 404.8 L839.4 405.1 L841.4 404.7 M803.5 290.8 L804.0 287.6 L804.3 284.3 L804.5 281.0 M803.5 290.8 L801.2 292.5 L799.8 294.8 L798.3 297.1 M803.5 290.8 L805.1 293.6 L807.1 296.0 L808.6 298.8 L810.5 301.3 M798.3 297.1 L795.5 295.2 L793.2 292.8 L791.4 289.8 L788.5 288.0 M798.3 297.1 L798.7 299.8 M841.4 404.7 L844.3 402.7 L847.4 401.3 L850.7 400.2 L853.8 398.6 M353.9 458.2 L356.1 455.6 L357.1 452.2 L359.3 449.6 M353.9 458.2 L350.1 457.9 L346.3 458.4 L342.5 458.1 L338.7 458.9 L336.4 455.7 L333.8 452.8 L330.7 451.8 L327.5 452.7 L324.4 451.7 L322.4 448.6 L319.6 446.2 L317.7 443.2 L315.3 440.4 L313.1 437.5 L311.2 434.4 L308.6 431.9 L308.8 428.1 L307.8 424.5 L305.6 423.4 L303.8 421.9 M368.6 428.4 L368.1 431.2 L367.6 434.0 L367.4 436.9 L364.6 438.5 L362.9 441.3 L360.2 443.0 M368.6 428.4 L365.7 429.8 L362.5 429.9 L360.1 432.2 L358.2 434.9 L355.5 436.9 M368.6 428.4 L368.2 425.2 L369.0 422.1 M355.5 436.9 L353.9 433.5 L353.2 429.8 L354.2 426.7 L354.3 423.4 M355.5 436.9 L358.1 439.7 L360.2 443.0 M446.4 474.3 L448.4 471.6 L450.7 469.1 L453.9 469.3 L457.1 469.6 L460.2 470.3 L461.6 467.7 L463.5 465.5 L465.7 463.5 M443.9 473.0 L443.1 470.5 L442.5 467.9 M420.7 357.2 L422.9 356.9 L425.0 356.2 M406.0 371.6 L402.0 371.7 L398.2 370.2 L394.2 370.1 M406.0 371.6 L404.9 374.9 L402.7 377.6 L403.6 380.9 L403.6 384.3 M409.5 426.9 L409.6 430.3 L408.9 433.7 L409.1 437.1 L407.7 438.0 M409.5 426.9 L412.7 427.3 L416.0 427.7 M409.5 426.9 L406.5 425.2 L404.1 422.8 M416.0 427.7 L417.6 430.6 L419.8 433.1 L421.6 435.8 M416.0 427.7 L418.2 424.7 L420.2 421.6 M451.2 443.4 L453.8 445.0 L456.0 447.1 L459.5 446.9 L462.9 447.7 M415.5 452.4 L412.6 451.2 L409.4 451.1 L406.5 449.8 M415.5 452.4 L416.0 455.3 L416.6 458.2 L416.6 461.1 M397.6 458.4 L394.4 460.6 M394.4 460.6 L392.4 458.8 L391.3 456.3 L387.9 456.3 L385.8 458.4 L383.3 460.1 L381.4 462.5 L378.9 459.7 L376.0 457.1 L373.6 454.2 L370.5 451.9 L368.3 448.8 L365.3 449.3 L362.3 449.7 L359.3 449.6 M544.6 243.6 L542.0 246.5 L539.9 249.7 L537.1 252.3 L534.4 255.0 M577.6 225.6 L579.6 227.8 L580.5 230.7 M577.6 225.6 L574.6 226.3 L571.6 226.6 L568.5 226.3 L565.5 227.1 M558.9 234.1 L561.4 232.0 L563.4 229.6 L565.5 227.1 M558.9 234.1 L560.1 236.5 L562.6 238.0 L563.6 240.6 L563.3 243.4 L563.3 246.2 M558.9 234.1 L557.3 236.0 L555.7 237.9 L552.5 239.5 L548.9 240.0 M565.5 227.1 L564.4 224.0 L562.4 221.3 M562.4 221.3 L558.9 220.2 L555.4 219.6 L551.8 219.3 L548.3 218.7 L544.7 218.3 M562.4 221.3 L561.7 217.5 L562.5 213.7 L562.0 209.9 L562.6 206.1 L561.9 202.3 M576.9 200.3 L573.2 201.1 L569.4 201.0 L565.6 201.5 L561.9 202.3 M576.9 200.3 L575.4 197.3 L572.8 195.1 L571.7 191.8 L569.8 189.1 M592.3 190.8 L589.1 188.8 L586.1 186.5 L582.3 185.5 L579.1 183.4 L575.8 181.6 L572.9 179.1 M503.9 219.7 L500.9 218.6 L497.7 218.6 L496.3 215.4 L495.5 212.0 L494.4 208.7 L492.7 205.7 M503.9 219.7 L506.1 216.7 L508.9 214.2 L511.9 212.0 L515.5 212.9 L518.8 214.5 M503.9 219.7 L504.9 223.2 L505.1 226.8 M505.2 238.8 L506.8 236.2 L507.5 233.3 M505.2 238.8 L503.3 241.0 L500.7 242.2 L498.4 243.9 M505.2 238.8 L508.3 239.7 L511.3 241.0 L514.4 241.9 L517.2 243.5 L518.7 245.3 L518.9 247.6 M498.4 243.9 L498.3 240.2 L497.5 236.6 L496.1 233.1 M498.4 243.9 L499.7 247.1 L501.7 249.9 M495.9 147.1 L495.0 150.6 L494.1 154.1 L493.7 157.7 L492.6 161.1 L491.4 164.5 M500.6 488.4 L499.0 486.0 M527.6 489.2 L527.3 486.2 L526.3 483.3 L525.3 480.5 L526.4 478.0 L526.7 475.2 M644.7 490.2 L643.0 487.9 L641.2 485.7 M708.3 374.9 L710.4 378.0 L712.4 381.1 L714.9 381.8 L717.4 381.2 M708.3 374.9 L711.4 374.4 L714.4 373.8 L717.2 372.4 M707.5 356.1 L709.8 353.2 L712.7 351.1 L715.8 349.2 L718.7 347.0 L721.0 344.2 L724.1 342.2 M707.5 356.1 L710.1 358.3 L713.2 359.5 L716.5 360.4 L719.0 362.8 L722.0 364.2 M707.5 356.1 L705.3 354.8 L702.8 354.3 M825.4 127.3 L825.2 130.1 L823.8 132.7 L823.6 135.5 M166.1 198.0 L163.7 200.3 L162.0 203.1 L159.9 205.6 L158.4 208.6 L155.8 208.2 L153.1 208.1 M166.1 198.0 L165.6 195.3 L164.6 192.6 L164.5 189.8 M243.5 245.4 L240.2 244.5 L237.4 242.6 L234.3 241.2 L231.0 240.5 M243.5 245.4 L245.5 248.5 L248.2 251.0 L249.0 254.2 L249.1 257.5 M243.5 245.4 L246.8 244.0 L250.2 242.5 L253.1 240.3 M179.7 178.9 L183.0 179.9 L186.0 181.9 L189.5 182.6 L192.5 184.4 M325.8 180.5 L323.0 182.4 L320.6 184.7 M325.8 180.5 L323.5 178.3 L321.3 175.9 L319.6 173.1 M325.8 180.5 L327.8 178.2 L330.2 176.2 L332.0 173.7 L334.5 171.9 M320.6 184.7 L318.7 187.5 L316.0 189.6 L314.0 192.3 L311.2 194.3 M320.6 184.7 L322.6 187.2 L324.9 189.6 L326.5 192.4 M319.6 173.1 L318.4 170.1 L318.7 166.8 L317.7 163.7 L319.5 161.1 L321.7 158.8 L324.3 157.0 M308.7 192.4 L305.5 194.2 L302.6 196.5 L299.1 197.8 L296.0 199.7 M308.7 192.4 L311.2 194.3 M296.7 203.7 L296.0 201.8 L296.0 199.7 M296.0 199.7 L292.8 199.1 M292.8 199.1 L290.6 201.0 L288.8 203.1 L287.0 205.3 M232.3 221.7 L229.0 222.3 L225.8 223.6 L222.4 223.6 M324.3 157.0 L327.5 158.0 L330.9 158.7 L333.9 160.2 M334.5 171.9 L334.1 168.0 L334.1 164.1 L333.9 160.2 M334.5 171.9 L336.6 173.5 L337.9 175.7 L340.4 176.0 L343.0 175.9 M289.8 238.7 L286.8 238.2 L283.7 238.1 L280.9 237.1 L277.9 236.4 L276.2 238.6 L274.0 240.1 L271.7 241.5 M289.8 238.7 L293.0 239.8 L296.3 240.5 M271.7 241.5 L269.0 242.3 L266.2 242.5 L263.4 242.1 M310.2 224.3 L310.6 226.9 L310.3 229.4 L307.6 231.5 L305.4 234.0 L303.7 236.9 M321.0 222.9 L323.1 220.7 M253.1 240.3 L254.8 242.2 L256.0 244.4 M256.0 244.4 L259.6 242.9 L263.4 242.1 M262.1 233.7 L262.4 236.5 L263.1 239.3 L263.4 242.1 M250.5 258.4 L251.0 261.6 L252.3 264.7 L252.6 268.0 L254.3 270.9 L254.4 274.2 M330.7 310.5 L333.7 308.4 L336.0 305.6 M336.0 305.6 L337.9 307.6 L338.8 310.2 L342.5 309.6 L346.3 310.0 L350.0 309.9 L352.8 311.2 L355.5 312.6 L357.7 314.8 L360.4 316.3 M336.0 305.6 L337.9 302.8 L339.2 299.8 L339.3 296.3 L341.1 293.5 L340.5 289.8 L339.3 286.2 L338.1 282.6 L338.6 281.0 M342.0 343.2 L345.2 343.9 L348.3 345.1 L351.1 346.7 L353.5 344.3 L356.0 342.1 L358.5 340.0 L361.5 338.4 M342.0 343.2 L342.0 346.2 L341.0 349.1 L340.7 352.1 L342.1 354.4 L343.3 356.9 L344.9 359.1 M361.5 338.4 L364.3 340.2 L366.3 342.9 M360.4 316.3 L362.6 313.2 L365.9 311.3 L368.3 308.4 M269.7 359.5 L267.3 357.0 L266.1 353.8 L264.1 351.1 L264.2 349.9 M290.9 377.8 L289.4 374.5 L287.3 371.5 L285.7 368.3 L284.6 364.8 L282.1 362.8 L279.7 360.7 L276.6 359.5 M259.8 317.7 L261.4 314.9 L262.9 311.9 L263.9 308.8 L265.4 305.9 M259.8 317.7 L261.3 320.0 L262.9 322.2 L262.9 326.1 L261.9 329.9 M265.4 305.9 L263.1 305.7 L261.3 304.2 M312.6 378.1 L310.8 380.7 L309.8 383.6 L308.9 386.6 L308.0 389.6 L305.8 391.4 M312.6 378.1 L315.1 375.9 L318.5 375.3 L320.7 372.7 L323.8 371.5 L326.8 370.5 L330.1 371.2 L333.1 370.2 L335.0 367.5 L337.8 365.8 L340.2 363.5 L342.3 361.1 L344.9 359.1 M312.6 378.1 L309.2 377.4 L306.1 375.7 L303.0 374.3 M333.3 414.2 L334.8 416.9 L336.5 419.5 L334.6 422.1 L333.0 424.9 L331.8 427.9 L328.7 427.4 L325.8 426.0 L322.8 425.2 L319.9 423.9 L319.5 420.7 L319.1 417.4 M347.7 399.1 L348.7 398.9 L349.0 402.0 M261.9 329.9 L265.3 329.3 L268.8 329.8 L272.1 328.9 L275.5 328.5 L276.4 332.0 L277.7 335.4 M261.9 329.9 L261.1 333.1 L260.6 336.3 L260.8 339.6 L260.3 342.8 M611.7 209.5 L609.1 210.8 M611.7 209.5 L614.9 210.8 L618.1 212.1 L621.1 213.8 L624.0 215.6 L627.1 217.2 M609.1 210.8 L608.6 214.0 L607.8 217.1 M607.8 217.1 L605.0 219.2 L601.8 220.8 L599.1 223.1 L596.6 225.6 M607.8 217.1 L611.3 218.2 L614.5 220.1 L617.8 221.5 L619.0 225.3 M597.1 228.8 L596.6 225.6 M602.8 232.6 L605.3 235.0 L608.6 236.5 L611.1 238.9 M611.1 238.9 L613.4 237.2 L616.1 236.3 M611.1 238.9 L609.9 241.7 L608.3 244.4 L607.3 247.3 L607.5 250.0 L608.7 252.5 M616.1 236.3 L616.4 232.8 L615.9 229.4 L617.0 227.0 L619.0 225.3 M616.1 236.3 L618.6 238.2 L619.8 241.3 L622.4 243.2 M627.1 217.2 L627.6 220.8 L627.1 224.5 M619.0 225.3 L621.7 224.8 L624.4 224.3 L627.1 224.5 M604.6 258.3 L605.1 262.0 L604.6 265.7 L605.2 269.4 M501.7 249.9 L498.6 250.6 L495.7 251.8 L492.8 253.2 L489.6 253.5 M501.7 249.9 L505.1 249.5 L508.5 250.2 L511.9 249.9 L515.3 250.3 M522.4 248.6 L524.3 245.9 L525.8 243.0 L527.8 240.5 L530.1 238.1 L528.8 234.6 L528.7 230.9 M522.4 248.6 L525.1 250.7 L528.5 251.7 L531.2 253.7 L534.4 255.0 M522.4 248.6 L518.9 247.6 M523.1 259.5 L525.9 260.6 L528.1 262.6 L530.8 264.0 M523.1 259.5 L520.1 258.6 L517.7 256.6 L515.1 255.0 L515.3 252.7 L515.3 250.3 M523.1 259.5 L521.7 262.3 L519.7 264.7 L518.1 267.4 M375.8 419.2 L377.0 420.5 L379.2 420.1 L381.0 418.8 M378.7 418.0 L381.1 418.5 M369.3 415.9 L369.0 412.4 L369.3 409.0 L370.2 405.6 L369.7 402.1 L372.5 400.2 L374.7 400.5 L376.4 401.9 M161.0 118.3 L164.0 116.4 L167.0 114.6 M161.0 118.3 L158.3 116.2 L155.6 114.3 M145.9 115.8 L149.0 114.6 L152.4 114.9 L155.6 114.3 M799.0 128.2 L801.8 130.2 L802.2 133.6 M838.9 166.7 L837.9 168.7 L836.2 170.3 M748.3 126.2 L750.0 129.2 L752.0 132.0 L752.6 135.6 L754.6 138.4 L753.9 140.4 L753.3 142.4 M642.0 468.8 L643.1 472.5 L643.1 476.3 L644.2 480.0 L643.0 483.0 L641.2 485.7 M642.0 468.8 L643.2 466.2 L645.0 464.0 L647.6 463.1 L650.0 461.7 L652.3 460.2 M642.0 468.8 L638.4 468.5 L634.9 468.3 L631.3 468.1 L627.8 467.0 M607.6 274.5 L610.6 276.3 L612.9 278.9 L615.2 281.4 M802.7 318.2 L799.5 319.9 L796.5 321.8 M802.7 318.2 L804.8 320.1 L805.9 322.8 L807.9 324.8 M802.7 318.2 L803.8 316.0 L805.9 314.7 M796.5 321.8 L795.9 324.4 L795.6 327.1 L796.0 329.8 M796.5 321.8 L793.8 321.6 L791.0 322.2 L788.3 321.8 M810.2 331.5 L807.2 332.9 L804.2 334.7 L801.3 336.3 L798.1 336.6 L794.8 336.7 M810.2 331.5 L808.9 328.2 L807.9 324.8 M810.2 331.5 L812.1 332.2 L813.8 333.4 L814.9 336.5 L816.3 339.5 L817.3 342.7 M807.9 324.8 L810.2 322.3 L813.1 320.7 L816.4 319.5 L818.7 317.1 M817.3 342.7 L820.5 343.0 L823.8 342.2 L827.0 343.2 L830.3 342.8 L833.5 342.6 M817.3 342.7 L815.5 344.1 L814.4 346.1 M714.8 132.9 L716.7 135.1 L719.2 136.7 L722.1 137.8 L725.2 138.2 L727.8 140.1 L730.9 140.5 M713.2 134.3 L711.3 137.2 L711.4 140.4 L711.5 143.6 L710.8 146.7 L712.8 149.1 L714.4 151.7 L715.7 154.5 L718.1 156.6 M679.6 166.7 L681.6 164.0 L684.4 161.9 L686.1 159.0 L689.3 157.5 L692.4 155.9 M676.8 171.5 L674.4 173.7 L673.3 177.0 L671.0 179.3 L668.9 181.7 M658.3 208.8 L656.5 205.7 L655.1 202.4 L653.6 199.2 L650.0 197.4 L647.1 194.6 L643.9 192.3 M658.3 208.8 L660.6 206.3 L663.5 204.3 L665.9 201.9 L668.5 201.0 L671.1 200.2 L673.6 199.1 M668.9 181.7 L671.6 184.4 L673.3 187.7 L675.3 190.9 L677.4 193.9 M674.0 235.5 L671.5 235.0 L669.6 233.4 L668.6 231.0 L667.6 228.7 M674.0 235.5 L675.3 232.8 L677.0 230.3 L679.7 228.9 L682.8 228.5 L685.3 226.7 M674.0 235.5 L675.3 238.7 L676.2 242.0 M667.6 228.7 L669.5 226.0 L672.4 224.2 L674.1 221.3 L676.9 219.4 M685.3 226.7 L683.9 224.7 L683.2 222.3 L680.3 220.3 L676.9 219.4 M685.3 226.7 L687.7 227.9 L689.7 229.7 M676.9 219.4 L677.5 215.9 L679.1 212.7 M799.2 279.3 L796.5 278.3 L793.6 278.3 M799.2 279.3 L802.0 279.7 L804.5 281.0 M799.2 279.3 L800.6 276.5 L802.1 273.6 L803.5 270.8 L805.6 268.2 L808.8 266.7 L810.9 264.1 M804.5 281.0 L807.8 282.0 L811.1 283.0 L814.6 283.1 L817.8 284.6 M846.2 215.0 L843.7 212.8 L840.7 211.2 L837.3 211.6 L833.8 210.7 L830.4 211.0 M853.4 212.4 L850.5 210.3 L848.3 207.5 L848.4 204.0 L849.8 200.8 L848.5 197.5 L846.8 194.3 L845.2 191.1 M747.5 434.9 L750.0 433.9 L752.8 431.3 L755.4 428.5 L758.0 425.8 M739.5 426.5 L739.6 426.0 L738.7 422.9 L738.5 419.6 L737.3 416.6 M724.9 436.1 L724.9 435.3 L722.5 433.8 L719.9 432.6 L718.0 430.4 L719.6 427.4 L720.3 424.1 L722.2 421.2 L721.3 418.2 L721.4 415.1 M865.3 395.7 L867.2 392.7 L869.4 390.1 L871.4 387.2 M865.3 395.7 L862.2 393.4 L859.8 390.3 L857.2 387.4 L854.8 387.6 L852.6 388.4 M871.4 387.2 L873.0 384.6 L873.0 381.3 L874.9 378.8 L875.9 375.9 M850.5 319.2 L852.7 321.4 L855.4 323.0 M850.5 319.2 L846.6 318.3 L842.6 318.7 L838.6 318.3 M850.5 319.2 L851.4 315.5 L851.6 311.7 M855.4 323.0 L854.4 326.1 L853.2 329.2 L851.9 332.2 M855.4 323.0 L858.9 323.0 L862.4 322.4 L865.7 321.3 M865.7 321.3 L865.8 324.4 L864.1 327.2 L864.3 330.3 L864.6 333.7 L866.2 336.7 M832.5 428.6 L832.0 425.4 L830.4 422.5 L829.4 419.5 L828.0 416.6 M737.3 416.6 L737.5 413.2 L739.3 410.1 L739.8 406.7 M737.3 416.6 L733.3 416.1 L729.3 416.3 L725.3 416.0 L721.4 415.1 M796.0 329.8 L793.2 329.2 L790.4 329.7 L788.3 332.0 L786.1 334.3 M796.0 329.8 L795.1 333.2 L794.8 336.7 M788.3 321.8 L786.1 323.6 L783.3 324.3 L780.8 325.6 M788.3 321.8 L787.4 318.6 L786.9 315.4 L787.2 312.0 L785.9 308.9 L785.9 305.6 M837.9 377.9 L835.7 377.7 L833.5 377.8 L832.4 375.1 L830.4 373.0 L829.2 370.3 L825.2 370.1 L821.3 371.0 M837.9 377.9 L840.2 374.9 L842.1 371.6 L842.9 368.0 L842.7 364.3 M837.9 377.9 L839.8 380.0 L841.9 381.8 L843.4 384.2 M843.4 384.2 L846.1 383.6 L848.2 381.8 M827.0 359.8 L830.1 359.7 L833.2 359.5 L836.2 358.8 L839.2 358.4 M827.0 359.8 L823.6 360.5 L820.5 361.8 L817.3 362.9 M827.0 359.8 L824.4 358.0 L822.1 355.6 L819.2 354.1 L817.8 351.3 L815.9 348.8 L814.4 346.1 M806.9 418.9 L803.7 418.5 L800.6 419.0 L797.5 419.6 L795.5 418.6 L793.5 417.5 L792.7 414.8 L791.8 412.1 M806.9 418.9 L805.9 416.3 L803.5 414.5 L802.7 411.8 L800.0 410.8 L797.0 411.1 L794.2 410.4 M810.7 419.2 L813.0 417.1 L815.0 414.6 M815.0 414.6 L815.5 410.7 L816.5 406.9 L817.7 403.1 L818.7 399.3 M815.0 414.6 L817.7 415.6 L820.1 417.3 L822.9 418.0 L825.4 417.3 L828.0 416.6 M818.5 399.1 L815.0 399.0 L811.7 400.0 L808.2 400.1 L805.9 398.3 L803.0 397.6 L800.9 395.6 M818.5 399.1 L819.0 395.4 L819.6 391.7 L820.1 388.1 L819.8 384.3 L817.3 382.9 L814.8 381.4 M878.6 286.3 L876.1 288.1 L873.5 289.5 M878.0 263.7 L877.8 263.6 L874.3 264.2 L870.8 263.4 L867.3 264.0 L863.8 264.1 L860.3 263.5 M839.1 329.8 L836.4 332.2 L833.8 334.9 L834.3 338.8 L833.5 342.6 M839.1 329.8 L836.9 327.0 L835.9 323.6 M839.1 329.8 L842.4 329.8 L845.4 331.3 L848.6 332.0 L851.9 332.2 M835.9 323.6 L833.1 322.3 L830.1 321.5 L827.4 319.9 L824.6 318.6 M835.9 323.6 L837.1 320.9 L838.6 318.3 M833.5 342.6 L835.2 345.9 L836.7 349.2 L839.5 351.2 L842.6 352.9 M824.6 318.6 L821.8 317.3 L818.7 317.1 M824.6 318.6 L826.6 315.7 L827.5 312.2 L829.7 310.9 L832.3 310.8 M838.6 318.3 L836.1 316.2 L834.5 313.2 L832.3 310.8 M798.7 299.8 L799.8 303.0 L801.6 305.8 L802.6 309.0 L804.6 311.7 L805.9 314.7 M798.7 299.8 L795.5 299.8 L792.6 301.3 L789.5 301.5 L786.5 302.5 L785.9 305.6 M810.5 301.3 L811.2 304.3 L811.5 307.5 L812.9 310.4 M810.5 301.3 L813.3 299.6 L816.5 299.2 L819.5 298.1 L819.7 295.5 L819.3 293.0 M805.9 314.7 L808.2 313.1 L810.8 312.2 L812.9 310.4 M852.9 249.1 L856.4 249.5 L859.8 248.8 L863.3 249.0 M852.9 249.1 L849.8 247.8 L846.6 246.5 M863.3 249.0 L863.2 252.8 L861.4 256.2 L861.1 259.9 L860.3 263.5 M853.8 398.6 L852.9 395.3 L852.9 391.8 L852.6 388.4 M420.2 421.6 L417.2 419.4 L414.2 417.3 L411.2 415.1 M420.2 421.6 L423.0 420.1 L424.8 417.3 L427.3 415.5 L430.0 413.8 M411.2 415.1 L407.9 416.0 L404.5 416.0 M360.2 443.0 L359.1 446.2 L359.3 449.6 M398.3 329.4 L400.5 328.0 M398.3 329.4 L396.6 331.5 L396.1 334.1 L396.2 336.4 L396.5 338.7 M398.3 329.4 L395.6 326.4 L394.1 322.6 L391.1 319.8 L389.2 316.3 M388.3 373.8 L385.0 373.2 L381.7 372.7 L378.6 371.4 L375.5 370.3 L372.2 369.6 L370.0 367.0 L368.6 363.8 M427.5 347.5 L430.8 347.4 L434.0 347.8 L437.2 348.5 L440.6 347.7 L443.8 346.4 M427.5 347.5 L425.4 346.8 L423.5 345.7 M427.5 347.5 L426.6 350.4 L426.3 353.4 L425.0 356.2 M550.9 452.2 L550.1 449.5 L548.5 447.2 L546.6 446.1 L544.5 445.5 M550.9 452.2 L553.9 452.3 L556.8 451.9 L560.1 453.7 L562.7 456.5 M550.9 452.2 L551.6 455.3 L551.0 458.4 L548.4 459.2 L545.7 459.4 L543.1 460.1 M557.1 434.6 L559.5 437.3 L562.9 438.8 L565.2 441.6 L568.2 443.6 M557.1 434.6 L553.9 435.6 L550.5 435.5 L547.2 436.2 M557.1 434.6 L559.0 432.1 L560.9 429.6 L563.1 427.3 L561.9 424.7 L561.7 421.8 M550.6 414.6 L553.9 414.8 L557.0 413.3 L560.4 413.8 L563.6 413.1 M550.6 414.6 L547.2 416.0 L543.9 417.5 L540.2 417.9 M550.6 414.6 L550.8 410.9 L551.9 407.3 L551.7 403.6 L552.1 399.9 L552.8 396.3 M552.1 426.6 L548.4 425.4 L544.7 424.1 L541.3 422.2 M552.1 426.6 L555.2 424.8 L558.4 423.3 L561.7 421.8 M552.1 426.6 L551.0 430.1 L548.4 432.8 L547.2 436.2 M430.3 376.3 L430.9 372.8 L431.4 369.2 L431.7 365.6 M430.3 376.3 L434.1 377.1 M430.0 413.8 L432.9 416.0 L436.4 417.0 L439.5 418.8 M430.0 413.8 L429.5 410.4 L430.1 406.9 L430.3 403.5 L429.8 400.1 M439.5 418.8 L442.7 418.7 L445.8 418.7 L449.0 418.3 M465.7 463.5 L468.9 464.2 L472.1 464.1 M465.7 463.5 L464.9 460.3 L463.2 457.3 M472.1 464.1 L472.8 467.3 L474.5 470.0 L475.2 473.2 L476.9 475.9 L478.8 477.3 L481.1 477.9 M472.1 464.1 L474.6 463.1 L476.4 461.2 L479.4 461.9 L482.3 463.1 M548.3 174.1 L549.1 175.1 L549.1 178.8 L549.4 182.5 L550.0 186.2 L550.6 189.9 M544.3 172.7 L542.1 175.6 L538.8 177.4 L537.0 180.7 L533.8 182.6 L531.1 185.0 L528.8 187.8 M550.6 189.9 L547.2 190.4 L544.1 192.0 L540.8 192.6 L537.5 193.6 M550.6 189.9 L552.4 191.7 L554.7 192.8 M556.6 199.7 L559.0 201.6 L561.9 202.3 M505.1 226.8 L501.8 228.4 L498.8 230.5 L496.1 233.1 M505.1 226.8 L506.2 229.3 L507.2 231.8 M496.1 233.1 L493.4 231.7 L490.5 230.8 L487.7 229.7 L484.4 229.7 L481.2 230.5 M482.1 243.4 L484.1 245.9 L486.1 248.3 L487.8 251.0 L489.6 253.5 M482.1 243.4 L480.4 245.3 L478.5 247.0 M482.1 243.4 L481.2 240.3 L481.6 237.0 L481.4 233.8 L481.1 230.6 M478.5 247.0 L477.7 250.0 L478.2 253.1 L478.4 256.2 L477.8 259.2 M478.5 247.0 L475.0 245.2 L471.5 243.3 L469.3 244.2 L467.0 244.7 M510.3 178.8 L512.0 181.1 L512.5 183.9 L515.3 185.1 L517.9 186.8 M504.5 167.0 L501.1 168.7 L497.6 169.9 M510.4 197.7 L513.2 195.5 L515.7 193.0 L517.8 190.1 L517.9 186.8 M510.4 197.7 L513.1 199.5 L515.0 202.3 L517.4 204.5 L520.1 206.3 L522.8 208.1 M510.4 197.7 L507.5 198.0 L504.6 198.8 L501.7 198.7 L498.8 200.4 L496.1 202.4 L492.8 203.3 M528.8 187.8 L525.5 186.1 L521.8 185.6 L519.7 185.8 L517.9 186.8 M528.8 187.8 L528.3 190.3 L528.3 192.9 M528.3 192.9 L527.6 196.2 L527.8 199.6 L527.4 202.9 L524.7 205.2 L522.8 208.1 M528.3 192.9 L531.4 193.1 L534.4 193.8 L537.5 193.6 M431.9 181.1 L429.2 178.8 M429.2 178.8 L431.0 177.5 L431.9 175.5 L431.4 171.7 L429.6 168.3 L429.3 164.5 L431.6 162.5 L433.9 160.5 L436.2 158.5 M429.2 178.8 L425.8 177.0 L422.0 176.0 L418.8 173.7 L415.1 172.7 M481.1 230.6 L477.2 229.8 L473.2 229.9 L469.5 228.2 L465.5 228.1 M516.2 349.7 L515.6 346.9 L514.3 344.3 L511.4 342.1 L508.2 340.5 L507.8 337.1 L509.3 333.8 L509.1 330.4 M516.2 349.7 L518.7 350.4 L521.2 350.9 L523.4 348.9 L523.0 345.8 L523.9 342.7 M516.2 349.7 L514.1 352.8 L512.2 355.9 M523.9 342.7 L523.7 339.2 L522.3 335.9 L521.9 332.4 L519.2 329.9 L515.9 328.4 M523.9 342.7 L526.8 343.1 L529.7 343.3 L532.6 343.5 M518.9 247.6 L516.8 248.5 L515.3 250.3 M518.1 267.4 L514.2 268.3 L510.6 270.0 M518.1 267.4 L519.4 269.8 L520.5 272.2 L521.2 274.8 L523.2 275.1 L525.2 275.5 L528.1 273.5 L531.2 271.8 M502.4 268.8 L505.1 269.3 L507.9 269.2 L510.6 270.0 M502.4 268.8 L499.3 268.2 L496.3 267.1 M510.6 270.0 L510.2 272.1 L510.7 274.2 M505.2 473.1 L505.7 469.3 L506.8 465.6 M505.2 473.1 L503.4 474.8 L501.0 475.3 L500.9 479.0 L500.0 482.5 L499.0 486.0 M505.2 473.1 L507.6 474.7 L510.2 475.8 L513.3 475.3 L516.4 475.3 L518.8 473.1 L521.1 470.9 L523.1 468.4 L525.6 466.4 M506.8 465.6 L503.5 466.5 L500.1 466.7 L496.7 466.8 L493.5 468.0 M506.8 465.6 L509.2 463.6 L512.3 463.0 L514.5 460.8 L517.4 459.7 M677.2 438.1 L677.7 434.4 L680.8 432.0 L684.3 430.0 M710.6 315.4 L706.9 315.2 L703.3 313.9 L699.4 314.5 L695.8 313.4 M710.6 315.4 L711.2 319.2 L711.4 323.0 M710.6 315.4 L712.4 312.6 L712.5 309.1 L714.4 306.4 M711.4 323.0 L709.3 324.8 L707.1 326.5 L705.0 328.3 M711.4 323.0 L714.4 324.3 M705.0 328.3 L701.1 328.7 L697.2 329.0 L693.3 328.3 M705.0 328.3 L705.0 331.8 L706.1 335.3 L705.8 338.9 M679.1 389.7 L676.2 392.0 L674.0 395.1 L670.7 397.0 L668.3 399.9 M679.1 389.7 L679.9 386.8 M722.0 364.2 L720.9 367.2 L718.9 369.7 L717.2 372.4 M722.0 364.2 L724.9 362.9 L728.0 362.3 L731.0 361.3 M717.2 372.4 L717.9 374.9 L719.3 377.0 M717.4 381.2 L718.9 379.3 L719.3 377.0 M717.4 381.2 L717.9 384.4 L719.2 387.5 L719.0 390.8 L719.5 394.0 L720.6 397.1 M719.3 377.0 L722.5 377.6 L725.3 379.3 L728.3 380.3 M719.2 410.9 L721.5 407.6 L724.5 404.9 L727.6 402.4 M719.2 410.9 L720.0 413.1 L721.4 415.1 M719.2 410.9 L715.9 410.8 L712.6 410.4 L710.8 408.2 L708.7 406.1 L706.3 404.5 M221.9 254.4 L218.1 254.2 L214.4 254.9 M221.9 254.4 L223.5 251.3 L225.2 248.3 L227.1 245.4 L228.5 242.3 M214.4 254.9 L212.9 252.3 L211.4 249.7 L209.9 247.0 M192.2 198.6 L195.2 200.0 M192.2 198.6 L192.3 195.1 L192.8 191.5 L192.9 188.0 L192.5 184.4 M304.6 213.7 L306.6 211.8 L308.3 209.5 L310.5 207.8 L314.0 207.6 L317.3 209.2 L320.8 209.0 L324.2 209.2 M349.7 140.6 L347.3 143.3 L344.9 146.0 L342.8 148.9 L341.0 152.1 M349.7 140.6 L352.9 141.0 L356.0 141.5 L359.2 142.0 M359.2 142.0 L361.6 143.8 L363.3 146.3 M220.5 151.7 L221.9 155.0 L222.8 158.5 L223.7 162.0 L225.0 165.4 M219.5 169.0 L222.5 167.6 L225.0 165.4 M381.5 263.3 L378.8 265.7 L376.8 268.6 L375.0 271.7 L372.7 274.3 L370.5 277.1 L368.8 280.2 M381.5 263.3 L385.1 264.2 M381.5 263.3 L380.8 261.1 L379.6 259.1 M385.1 264.2 L385.3 266.8 L386.0 269.3 L389.5 271.0 L392.9 273.0 L393.2 274.7 M385.1 264.2 L388.9 264.2 L392.6 263.6 L396.3 262.5 M382.0 254.5 L384.7 254.1 L387.4 253.8 L390.1 253.4 L391.2 250.9 L393.0 248.7 L395.9 247.9 M382.0 254.5 L381.4 257.1 L379.6 259.1 M382.0 254.5 L379.9 252.6 L377.1 251.7 L375.0 249.8 L375.2 246.1 L374.1 242.6 M379.6 259.1 L375.8 257.8 L372.2 256.2 L368.4 254.8 L366.7 257.7 L363.8 259.6 L361.8 262.2 M268.2 273.8 L265.8 275.4 L263.1 276.7 L261.0 278.7 L258.0 276.0 L254.4 274.2 M268.2 273.8 L270.2 275.8 L271.7 278.2 L273.6 280.3 M246.7 289.9 L246.7 287.2 L245.9 284.7 L246.9 281.5 L248.2 278.3 M254.4 274.2 L251.0 275.8 L248.2 278.3 M344.9 359.1 L348.3 358.5 L351.7 358.6 L354.6 359.6 L357.4 360.9 L359.8 362.8 M368.3 308.4 L371.2 309.2 L373.6 311.1 L376.2 312.4 L378.7 314.2 L379.9 317.2 L382.2 319.2 M368.3 308.4 L369.0 305.4 L370.2 302.6 L368.1 299.2 L367.5 295.1 L365.5 291.7 L367.2 288.6 L368.4 285.3 L369.5 282.0 M366.3 342.9 L365.2 345.4 L363.3 347.4 L361.7 349.6 L362.7 353.1 L362.8 356.7 L363.8 360.2 M366.3 342.9 L370.0 343.1 L373.6 342.8 M379.5 349.2 L382.5 350.4 L385.5 351.8 L388.4 353.2 L391.6 352.2 L394.8 351.6 M379.5 349.2 L378.0 346.6 L376.0 344.6 L373.6 342.8 M379.5 349.2 L377.7 352.4 L375.3 355.2 L372.4 357.6 L370.8 360.9 L368.6 363.8 M373.6 342.8 L372.8 339.2 L371.5 335.6 L371.2 331.9 L371.3 329.4 L372.6 327.2 L374.7 324.8 L377.1 322.9 L380.0 321.4 L382.2 319.2 M298.6 376.8 L300.6 375.3 L303.0 374.3 M303.8 421.9 L304.6 418.1 L306.3 414.7 L309.6 414.4 L312.8 414.1 M363.8 360.2 L362.1 361.9 L359.8 362.8 M363.8 360.2 L365.9 362.4 L368.6 363.8 M359.8 362.8 L361.8 366.1 L362.5 369.8 L360.9 373.2 L360.8 377.1 L359.5 380.6 L361.6 382.9 L363.9 385.1 L367.9 385.0 L371.7 385.6 L375.5 386.7 L377.0 389.8 L378.9 392.7 M627.1 224.5 L629.9 226.0 M629.9 226.0 L630.9 229.1 L632.0 232.1 L633.2 235.1 L633.8 238.3 M622.4 243.2 L625.1 241.6 L628.1 240.7 L631.2 240.0 L633.8 238.3 M622.4 243.2 L623.3 246.7 L624.5 250.1 L625.3 253.7 L627.0 256.9 M534.4 255.0 L535.1 257.8 L536.8 260.3 L537.4 263.2 M372.8 164.1 L370.7 161.4 L370.2 157.9 L368.2 155.2 L367.7 152.2 L367.1 149.2 L367.4 146.2 M372.8 164.1 L369.0 163.7 L365.2 164.1 L361.5 162.7 L357.7 163.2 M372.8 164.1 L374.3 165.5 L375.4 167.3 L378.4 165.9 M386.5 137.8 L389.7 140.0 L393.5 140.7 L396.8 142.5 L399.8 142.5 L402.8 142.7 L405.7 143.3 M380.8 139.4 L377.8 137.6 L375.4 135.2 M394.7 398.5 L396.4 401.4 L398.0 404.3 L399.8 407.1 L401.1 410.3 L403.2 412.9 L404.5 416.0 M394.7 398.5 L397.3 399.3 L400.0 399.3 L402.7 398.9 M394.7 398.5 L391.3 398.5 L387.9 399.2 M402.7 398.9 L402.7 395.2 L402.5 391.6 L403.4 388.0 L403.6 384.3 M387.9 399.2 L386.8 396.5 L386.8 393.7 L386.5 390.9 M645.5 388.8 L642.6 391.3 M636.5 390.2 L636.6 387.6 L635.4 385.3 L637.9 382.7 L640.4 380.0 L640.1 377.4 L639.9 374.8 M636.5 390.2 L635.0 392.4 L632.9 394.0 M636.5 390.2 L639.5 391.1 L642.6 391.3 M632.9 394.0 L629.5 392.4 L625.9 391.0 L622.2 390.1 M632.9 394.0 L630.3 395.9 L628.3 398.3 L626.6 400.9 L628.2 404.5 M626.4 377.7 L625.0 380.4 L622.8 382.4 L622.0 386.2 L622.2 390.1 M626.4 377.7 L629.4 376.4 L631.8 374.0 L634.9 372.7 M626.4 377.7 L625.3 375.3 L624.1 373.0 L621.8 372.3 M622.2 390.1 L618.3 390.4 L614.5 389.6 M642.6 391.3 L643.2 395.1 L642.8 399.1 L643.5 402.9 M624.2 442.9 L627.3 442.3 L630.3 441.2 L633.9 442.9 L635.4 445.3 L637.3 447.4 L638.6 449.9 M624.2 442.9 L624.7 439.7 L624.1 436.6 L625.5 433.3 L627.8 430.6 L629.8 427.7 L631.8 424.8 M601.8 445.7 L598.7 445.7 L595.7 445.3 L592.6 444.5 L589.6 444.1 L586.5 442.6 L583.6 440.6 L580.5 439.2 M601.8 445.7 L602.0 448.7 L601.4 451.6 M602.1 444.9 L600.4 442.0 L598.6 439.1 L596.1 436.7 M602.1 444.9 L605.1 442.6 L607.4 439.5 L610.3 437.0 M596.1 436.7 L592.7 436.5 L590.9 433.1 L590.3 429.2 L589.1 425.6 L586.3 425.8 L583.8 426.8 L581.2 427.8 M596.1 436.7 L598.1 433.8 L600.5 431.1 M624.1 443.1 L620.5 442.0 L617.5 439.5 L613.6 438.8 L610.3 437.0 M624.1 443.1 L624.6 447.1 L624.4 451.0 L624.7 455.0 L624.4 459.0 M614.5 389.6 L613.1 386.7 L612.2 383.6 L610.3 380.9 L609.2 377.8 L608.7 375.0 L609.4 372.2 M614.5 389.6 L611.6 391.8 L608.4 393.7 M677.3 306.1 L678.4 309.4 L679.7 312.5 L680.1 316.0 L683.2 317.3 L686.1 319.2 L689.3 320.3 M677.3 306.1 L675.0 305.3 L672.6 304.9 M677.3 306.1 L680.2 304.3 L683.1 302.7 L685.9 300.8 L688.8 299.1 L691.3 296.8 M672.6 304.9 L670.9 308.0 L670.6 311.6 L669.4 314.9 L667.7 318.0 L663.7 318.1 L659.8 319.2 M672.6 304.9 L669.2 303.5 L665.7 302.1 M665.7 302.1 L666.4 298.9 L666.9 295.6 L667.8 292.5 L668.4 289.3 L669.3 286.1 M665.7 302.1 L662.5 302.9 L659.2 302.0 L656.0 303.0 L652.8 303.0 M689.3 320.3 L690.4 323.6 L691.5 327.0 M689.3 320.3 L691.5 318.0 L694.1 316.1 L695.8 313.4 M691.5 327.0 L687.7 326.8 L684.3 324.8 L680.5 324.5 L677.9 325.8 L677.1 328.8 L676.3 331.9 M691.5 327.0 L693.3 328.3 M697.3 358.4 L700.1 356.4 L702.8 354.3 M697.3 358.4 L694.1 359.2 L690.9 359.0 M702.8 354.3 L702.3 350.6 L700.9 347.2 M693.3 328.3 L691.7 331.9 L690.4 335.6 L689.4 339.4 M689.4 339.4 L686.8 340.9 L683.6 341.0 L681.0 342.6 M689.4 339.4 L692.0 341.7 L695.3 343.1 L698.0 345.3 L700.9 347.2 M681.0 342.6 L679.7 338.9 L677.7 335.5 L676.3 331.9 M681.0 342.6 L681.8 346.1 L681.7 349.6 L681.3 353.1 M664.4 337.6 L663.5 340.4 L662.5 343.2 L661.0 345.8 M664.4 337.6 L667.5 337.7 L670.4 336.7 L673.0 333.9 L676.3 331.9 M664.4 337.6 L665.6 334.3 L666.1 330.9 L666.1 327.4 L663.7 326.5 L661.3 325.5 M596.8 280.1 L597.2 282.4 L597.0 284.7 L595.3 288.0 L592.7 290.7 M589.3 277.5 L587.3 278.7 L585.3 279.9 L584.2 282.8 L582.9 285.5 L583.2 288.8 L581.6 291.5 M553.3 277.8 L554.6 274.6 L556.5 271.7 L554.3 269.8 L552.7 267.4 L551.0 265.1 L551.0 262.8 L552.0 260.7 M553.3 277.8 L556.8 278.2 L560.3 278.4 L563.7 279.7 L566.5 278.1 L569.6 277.1 L572.5 275.6 M552.1 279.2 L549.5 280.6 L546.8 281.2 L543.9 281.8 M552.1 279.2 L552.8 282.4 L553.7 285.6 L554.8 288.7 L556.5 290.8 L558.3 292.8 L560.3 294.6 M581.6 291.5 L583.4 294.1 L585.3 296.7 M581.6 291.5 L578.2 291.4 L574.8 291.7 M585.3 296.7 L584.4 299.7 L584.3 302.9 L583.9 306.0 M585.3 296.7 L587.4 294.2 L590.7 293.2 L592.7 290.7 M551.8 249.9 L550.0 251.3 L548.3 252.7 L548.7 255.5 M652.8 303.0 L651.2 300.5 L651.0 297.6 L654.1 295.3 L656.8 292.5 M652.8 303.0 L651.5 304.8 L650.9 307.0 M637.6 303.4 L641.1 303.7 L644.2 305.4 L647.7 305.6 L650.9 307.0 M637.6 303.4 L637.5 306.4 L637.1 309.5 L637.6 312.5 M637.6 303.4 L636.0 300.8 L634.3 298.3 M637.6 312.5 L638.0 314.6 L638.4 316.8 M637.6 312.5 L634.3 311.6 L630.8 311.4 L627.4 311.5 L625.6 309.1 M650.9 307.0 L652.1 310.1 L652.0 313.5 M592.7 290.7 L596.1 291.4 L599.1 293.2 L602.5 293.7 L604.0 296.3 L606.4 298.2 M583.9 306.0 L587.2 306.7 L590.3 307.8 L593.7 307.9 L596.9 305.4 L599.9 302.9 L603.2 300.6 L606.4 298.2 M583.9 306.0 L582.1 308.2 M582.1 308.2 L582.3 311.3 L583.9 314.1 L584.5 317.0 L584.9 320.1 M582.1 308.2 L579.2 309.9 L575.9 310.7 L572.6 308.9 L568.9 307.7 L565.5 306.1 M615.2 281.4 L614.8 284.7 L614.0 288.0 L613.2 291.3 L612.7 294.6 L612.3 297.9 M615.2 281.4 L618.5 280.6 L621.4 278.8 L624.6 277.8 M621.6 305.1 L618.3 302.9 L615.0 300.8 L612.3 297.9 M552.2 308.6 L555.4 307.6 L558.7 306.7 L562.2 307.2 L565.4 306.1 M552.2 308.6 L552.8 305.9 L552.3 303.1 L555.0 300.3 L557.3 297.1 L560.3 294.6 M552.2 308.6 L548.8 307.7 L545.3 307.5 L544.1 308.2 M560.3 294.6 L562.5 293.8 L564.8 293.6 M812.9 310.4 L814.7 312.8 L816.7 315.0 L818.7 317.1 M785.9 305.6 L782.6 306.1 L779.3 306.6 L775.9 306.4 M780.8 325.6 L777.4 325.2 L774.1 324.4 L770.6 325.0 L767.2 324.4 L763.8 324.3 M780.8 325.6 L782.6 328.5 L783.9 331.7 L786.1 334.3 M714.4 324.3 L714.4 327.4 L713.7 330.5 L714.0 333.7 L714.3 336.8 M714.4 324.3 L717.6 323.3 L720.1 321.1 L723.4 320.2 L726.0 318.0 L729.1 317.0 M695.8 313.4 L695.1 310.5 L694.8 307.5 M694.8 307.5 L694.0 303.8 L693.0 300.2 L691.3 296.8 M694.8 307.5 L697.3 305.4 L700.6 304.5 L703.1 302.4 L705.7 300.4 L708.6 298.8 M803.6 205.8 L800.9 203.4 L797.8 201.6 L795.6 198.7 M803.6 205.8 L806.8 206.2 L809.5 203.9 L812.3 202.0 L815.3 200.1 L818.5 198.7 M803.6 205.8 L801.8 208.0 L799.3 209.3 M795.6 198.7 L794.1 202.2 L793.4 206.0 M795.6 198.7 L797.5 196.7 L798.6 194.1 L800.7 192.2 L800.7 189.7 L799.7 187.4 M793.4 206.0 L796.6 207.2 L799.3 209.3 M793.4 206.0 L789.9 206.5 L786.5 207.2 L782.9 206.5 L779.5 207.6 M799.3 209.3 L800.7 212.7 L801.9 216.2 L803.8 219.4 L805.1 222.8 L804.9 225.6 L804.4 228.4 M802.2 133.6 L805.3 133.9 L808.0 135.4 L810.9 136.2 M810.9 136.2 L813.8 135.1 L816.3 133.3 L820.0 134.4 L823.6 135.5 M810.9 136.2 L810.5 139.2 L808.3 141.6 L808.0 144.7 M679.1 212.7 L678.2 209.1 L676.3 205.9 L674.4 202.7 L673.6 199.1 M679.1 212.7 L681.1 211.9 L683.2 211.6 M673.6 199.1 L675.7 196.7 L677.4 193.9 M725.7 197.8 L727.9 200.7 L729.8 203.7 L733.4 204.6 L737.1 204.0 L740.7 205.0 M725.7 197.8 L723.9 198.9 L721.7 198.9 L720.3 202.3 L719.3 205.7 L718.2 209.2 M725.7 197.8 L725.2 194.5 L725.5 191.1 L722.9 189.6 L720.5 187.8 M689.7 229.7 L692.5 232.1 L695.3 234.5 L697.6 237.4 M689.7 229.7 L692.2 227.8 L695.0 226.5 L697.6 224.8 L700.2 223.3 M656.8 292.5 L658.8 289.8 L659.8 286.6 L662.7 285.2 L665.7 283.9 M656.8 292.5 L654.4 290.2 L651.4 288.8 L648.3 287.6 L645.7 285.5 L643.1 286.2 L640.4 286.2 M697.6 237.4 L694.4 238.9 L691.1 240.4 L688.1 242.3 L685.7 245.1 L683.9 248.3 L681.7 251.2 M697.6 237.4 L700.8 238.5 M804.4 228.4 L807.8 228.5 L811.1 228.1 L814.4 227.3 M804.4 228.4 L801.7 227.3 L798.7 226.9 L796.1 229.3 L793.5 231.7 M814.4 227.3 L815.7 224.7 L815.8 221.8 L818.6 219.7 L821.3 217.4 L823.7 214.9 L826.6 213.0 L829.3 210.7 M814.4 227.3 L814.4 230.5 L813.6 233.7 L814.5 237.0 L813.5 240.2 L813.8 243.4 M841.1 227.4 L839.5 226.8 L837.2 228.1 L834.5 228.3 L833.4 224.9 L833.4 221.2 L831.8 218.0 L831.6 214.4 L830.4 211.0 M838.9 239.5 L841.1 242.3 L844.3 243.8 L846.6 246.5 M875.9 375.9 L874.9 373.3 L873.0 371.0 L872.5 368.1 M867.4 358.4 L866.2 357.5 L864.0 357.6 L861.8 357.9 L858.7 359.3 L855.9 361.4 L853.1 363.2 L849.9 364.6 M874.2 342.7 L874.8 342.0 L873.9 339.4 L871.4 338.4 L868.9 337.3 L866.2 336.7 M869.0 346.7 L865.7 348.1 L863.0 346.4 L860.1 345.2 L857.3 343.7 L854.4 342.5 M794.2 410.4 L791.8 412.1 M794.2 410.4 L793.0 407.6 L792.4 404.5 L790.8 401.9 L790.6 399.2 L791.6 396.7 M791.8 412.1 L788.7 413.6 L785.5 414.7 L782.1 415.0 L779.1 416.7 L775.7 417.4 L772.7 419.0 M768.0 435.1 L769.3 432.0 L770.2 428.7 L771.0 425.5 L772.0 422.3 L772.7 419.0 M768.0 435.1 L765.6 432.7 L763.3 430.1 L760.4 428.3 L758.0 425.8 M739.8 406.7 L743.3 408.0 L746.6 409.7 L749.9 411.5 L753.4 411.5 L756.9 411.1 M739.7 406.1 L742.9 404.8 L745.7 402.7 L749.1 403.0 L752.6 403.1 L755.9 404.5 L759.4 404.7 M739.7 406.1 L738.4 403.6 L738.4 400.7 L737.2 398.2 M814.4 346.1 L811.0 347.9 L807.9 350.4 L804.4 352.0 L800.9 353.7 M794.8 336.7 L793.3 339.6 L792.7 342.8 L792.3 346.0 L790.8 348.9 L790.1 352.1 M842.6 352.9 L840.6 355.4 L839.2 358.4 M842.6 352.9 L844.3 349.4 L846.4 346.1 L849.4 345.5 L851.7 343.5 L854.4 342.5 M839.2 358.4 L841.0 361.3 L842.7 364.3 M842.7 364.3 L846.3 364.7 L849.9 364.6 M871.4 310.2 L871.6 306.4 L870.7 302.8 L871.2 299.0 L870.3 295.3 L871.6 292.3 L873.5 289.5 M871.4 310.2 L868.9 308.8 L866.0 308.4 L863.7 306.7 L860.8 308.1 L857.5 308.8 L854.6 310.4 L851.6 311.7 M832.3 310.8 L833.1 307.6 L835.1 304.9 M846.6 246.5 L847.4 249.6 L847.8 252.8 L847.8 256.1 L848.9 259.2 M851.6 311.7 L851.3 308.5 L850.7 305.4 L850.3 302.2 M850.3 302.2 L847.3 301.8 L844.5 300.4 L841.4 300.1 M850.3 302.2 L851.2 298.8 L853.1 295.7 L853.5 292.2 L857.0 290.6 L860.7 289.8 M843.8 285.2 L841.9 282.4 L840.0 279.6 L837.0 277.7 L835.8 274.3 L833.3 272.0 M843.8 285.2 L841.3 287.3 L839.9 290.3 M843.8 285.2 L845.8 282.6 L847.7 279.9 L848.8 276.8 M839.9 290.3 L836.3 290.0 L832.9 291.0 L829.4 291.4 M839.9 290.3 L839.9 293.6 L840.9 296.8 L841.4 300.1 M404.1 422.8 L400.7 424.0 L397.8 426.0 L394.5 427.3 L391.1 428.4 M404.1 422.8 L404.9 419.4 L404.5 416.0 M412.8 330.6 L413.3 334.3 L413.1 338.0 L413.6 341.7 L415.1 345.0 L416.5 348.3 M412.8 330.6 L409.5 330.0 L406.5 328.9 L403.5 327.5 M412.8 330.6 L415.2 327.9 L418.3 326.2 M562.7 456.5 L565.2 454.5 L567.7 452.4 M562.7 456.5 L562.4 460.3 L560.9 463.9 L559.6 467.4 L559.1 471.2 M567.7 452.4 L568.1 449.5 L567.6 446.5 L568.2 443.6 M567.7 452.4 L570.8 452.4 L574.0 451.9 L577.1 452.4 L577.7 456.3 L579.1 460.1 L579.4 464.1 M510.6 371.4 L508.9 374.8 L506.2 377.6 M510.6 371.4 L513.9 370.0 L517.6 369.9 L520.8 368.2 L524.3 367.4 M510.3 370.8 L507.1 371.8 L503.7 372.0 L500.4 372.7 M510.3 370.8 L509.6 367.6 L510.0 364.3 L509.6 361.1 L509.3 357.9 M506.2 377.6 L502.7 378.1 M506.2 377.6 L508.7 379.4 L509.8 382.4 L512.0 384.5 L514.3 386.5 L517.8 387.0 L521.3 387.1 M502.7 378.1 L501.4 375.5 L500.4 372.7 M502.7 378.1 L503.7 381.9 L503.4 385.9 L503.9 389.8 L500.7 391.2 L497.6 392.9 L496.4 395.8 L494.2 398.0 M500.4 372.7 L497.6 373.0 L494.9 373.7 L492.1 373.5 L488.9 371.3 L486.0 368.6 M544.5 445.5 L542.8 443.8 L542.3 441.5 M544.5 445.5 L541.2 447.3 L538.1 449.4 L534.7 451.0 L534.9 453.4 L534.8 455.9 M547.2 436.2 L545.2 439.3 L542.3 441.5 M542.3 441.5 L538.9 440.9 L535.8 439.1 L532.4 438.6 M512.2 355.9 L515.3 356.0 L518.3 356.8 L521.2 357.9 L522.6 360.8 L523.7 363.8 L524.6 366.9 M512.2 355.9 L509.3 357.9 M532.6 343.5 L536.1 341.9 L539.8 340.8 L542.9 338.4 L546.4 336.8 L550.0 335.5 M532.6 343.5 L533.5 347.2 L535.4 350.7 L536.3 354.5 L536.7 358.4 L538.0 362.0 M539.0 311.1 L536.9 312.9 L534.3 313.6 M539.3 304.1 L538.0 301.0 L539.5 297.8 M534.3 313.6 L533.5 310.4 L531.9 307.5 L530.1 304.8 L529.0 301.7 M534.3 313.6 L532.0 315.7 L529.5 317.4 L526.6 318.5 L528.1 320.8 L530.2 322.7 L531.8 325.0 M553.8 356.8 L556.3 354.3 L558.4 351.4 L560.2 348.3 L562.6 345.7 L564.9 343.0 M553.8 356.8 L553.8 360.7 L553.8 364.6 L554.5 368.5 L555.2 371.5 L557.0 374.0 M553.8 356.8 L551.6 358.9 L548.4 359.6 L546.1 361.5 L543.7 363.3 L540.7 363.2 L538.0 362.0 M470.8 371.8 L467.0 371.0 L463.1 370.7 L459.1 371.1 L455.3 370.0 M470.8 371.8 L470.8 375.7 L471.1 379.5 L472.2 383.3 L472.5 387.1 M470.8 371.8 L473.3 370.9 L475.5 369.3 M440.2 363.1 L437.4 364.2 L434.5 364.6 L431.7 365.6 M440.2 363.1 L440.4 360.6 L441.0 358.1 L443.2 356.5 L445.6 355.2 M440.2 363.1 L443.7 363.3 L447.1 364.5 L450.7 364.6 M431.7 365.6 L430.3 362.5 L429.9 359.2 L427.5 357.7 L425.0 356.2 M445.6 355.2 L448.2 354.5 L450.9 354.1 L453.6 353.5 M445.6 355.2 L445.1 352.2 L445.0 349.2 L443.8 346.4 M443.8 346.4 L443.6 343.0 L444.0 339.5 L443.2 336.1 M434.1 377.1 L436.4 375.5 L438.6 373.8 L441.5 374.0 L444.4 373.3 L447.3 373.6 L450.3 371.6 L453.3 369.4 M434.1 377.1 L435.0 380.3 L436.7 383.2 L438.2 386.3 L438.8 389.6 L438.2 392.6 L438.0 395.7 L436.6 398.5 M452.8 327.4 L453.9 325.4 M452.8 327.4 L449.6 329.0 L446.6 330.9 L444.0 333.2 M452.8 327.4 L452.9 330.6 L454.1 333.7 L453.9 337.0 L457.0 339.2 L460.1 341.4 L462.8 344.0 M453.9 325.4 L452.0 323.2 L450.9 320.6 L449.8 318.0 L447.3 316.8 L444.5 316.7 L441.9 315.7 M453.9 325.4 L457.5 326.1 L461.1 327.1 L463.5 324.8 M496.3 400.1 L494.8 402.7 L494.4 405.6 L491.8 407.7 L488.7 408.8 L485.6 410.0 L483.1 412.1 M496.3 400.1 L494.2 398.0 M496.3 400.1 L499.6 400.4 L502.8 401.0 M494.2 398.0 L491.3 395.6 L487.9 393.8 L485.1 391.2 L482.5 388.5 L479.4 386.3 M449.0 418.3 L450.8 415.3 L453.5 412.9 L455.2 409.8 M449.0 418.3 L450.5 421.4 M450.5 421.4 L454.2 422.4 L458.1 422.7 L461.8 423.6 M461.8 423.6 L462.0 427.4 L462.8 431.1 L463.4 434.8 M461.8 423.6 L465.4 422.0 L468.8 420.0 M468.8 420.0 L468.1 417.5 L466.8 415.3 M468.8 420.0 L471.1 423.1 L473.4 426.1 L476.3 428.6 M466.8 415.3 L463.9 413.9 L460.8 412.9 L458.0 411.4 L455.2 409.8 M466.8 415.3 L468.8 412.5 L470.2 409.3 L472.3 406.6 M483.1 412.1 L484.5 414.9 L486.1 417.6 L487.8 420.3 M483.1 412.1 L480.3 411.0 L477.6 409.5 L474.9 408.2 L472.3 406.6 M487.8 420.3 L490.4 420.7 L492.8 419.8 L495.7 421.6 L497.8 424.4 M487.8 420.3 L485.1 422.3 L482.9 424.9 L483.0 426.3 M436.6 398.5 L433.2 399.3 L429.8 400.1 M436.6 398.5 L439.5 398.8 L442.3 399.1 L445.2 398.9 M445.2 398.9 L448.1 399.8 L451.1 400.1 L454.0 400.8 L456.9 401.7 M445.2 398.9 L447.0 396.8 L447.8 394.2 L451.5 393.1 L454.8 391.1 L458.2 389.2 L461.6 387.4 M522.8 208.1 L522.8 210.2 L523.1 212.3 M523.1 212.3 L526.1 214.3 L529.6 215.5 L532.2 218.1 L535.4 219.7 M523.1 212.3 L521.0 213.5 L518.8 214.5 M518.8 214.5 L520.1 217.3 L520.9 220.3 L521.4 223.4 M537.5 193.6 L538.5 195.8 L538.7 198.2 L541.5 199.7 L543.5 202.2 M579.0 236.5 L582.2 238.1 L585.7 238.9 L588.8 240.7 L590.0 243.4 L590.7 246.3 L592.6 246.6 M410.0 137.2 L408.2 140.5 L405.7 143.3 M410.0 137.2 L410.2 134.3 L409.3 131.6 L408.7 128.8 M410.0 137.2 L412.4 140.0 L415.5 142.1 L417.9 144.8 L420.0 147.8 M420.0 147.8 L417.0 150.3 L415.3 153.9 L412.2 156.3 M420.0 147.8 L422.3 147.0 L424.7 146.4 L427.0 143.8 L429.2 141.2 L432.5 142.0 M405.7 143.3 L405.9 146.3 L405.2 149.1 L404.5 151.9 M349.5 244.1 L347.9 242.7 L347.2 240.6 L343.3 240.8 L339.7 242.3 M349.5 244.1 L352.9 242.0 L356.8 241.1 L360.5 239.8 M349.5 244.1 L349.7 247.7 L348.8 251.3 L348.0 254.9 L348.3 258.5 M392.3 233.7 L390.9 235.3 L387.4 236.2 L384.0 237.3 L380.8 239.1 M380.8 239.1 L380.3 235.4 L378.9 232.0 L377.8 228.5 L376.6 225.0 L374.6 221.8 L374.1 218.1 L375.5 215.2 L376.2 212.0 M380.8 239.1 L377.5 241.0 L374.1 242.6 M334.0 219.0 L334.7 216.0 L335.6 213.0 L336.6 210.1 M334.0 219.0 L336.7 221.1 L339.8 222.4 L343.1 223.4 L345.5 226.0 L348.7 227.2 L349.8 228.9 M334.0 219.0 L330.3 218.9 L326.7 220.2 L323.1 220.7 M413.7 231.6 L412.9 228.3 L411.3 225.3 L408.8 223.7 L407.1 221.1 L404.9 219.2 M413.7 231.6 L416.7 231.5 L419.7 231.3 M413.7 231.6 L410.7 233.2 L407.4 233.4 L406.6 235.4 L404.9 236.7 M419.7 231.3 L420.6 228.3 L421.3 225.3 L423.8 222.2 L426.6 219.4 M419.7 231.3 L422.3 233.3 L425.4 234.6 L428.0 236.5 M404.9 236.7 L402.9 236.9 L400.8 237.0 M404.9 236.7 L407.6 238.6 L410.2 240.5 M481.2 230.5 L479.8 227.0 L477.7 223.9 L476.5 220.3 L474.4 217.2 M469.3 333.2 L467.9 336.1 L469.9 338.4 L472.1 340.5 M466.2 319.9 L466.4 317.9 L465.2 315.0 L463.1 312.6 L461.9 309.7 M498.1 305.9 L496.9 303.1 L495.1 300.6 L494.3 297.6 L495.5 294.7 L496.1 291.5 M498.1 305.9 L500.5 307.8 L502.1 310.5 L504.8 309.5 L507.7 309.5 M498.1 305.9 L495.7 307.2 L493.2 308.3 M430.6 332.8 L430.3 330.7 M510.7 274.2 L508.4 276.6 L506.7 279.4 L504.4 281.8 L502.7 284.6 M510.7 274.2 L512.5 277.8 L512.6 282.0 L514.2 285.6 L515.7 289.3 M491.1 464.9 L491.9 461.1 L492.9 457.4 L492.9 453.5 L493.8 449.7 L494.7 446.0 M491.1 464.9 L493.5 468.0 M491.1 464.9 L488.2 464.2 L485.1 464.3 L482.3 463.1 M493.5 468.0 L491.5 470.4 L488.9 472.0 L486.8 474.2 M524.7 460.1 L528.3 459.2 L531.5 457.4 L534.8 455.9 M524.7 460.1 L525.5 463.2 L525.6 466.4 M524.7 460.1 L521.0 460.4 L517.4 459.7 M525.6 466.4 L525.9 469.3 L525.8 472.3 L526.7 475.2 M526.7 475.2 L530.3 475.3 L533.6 476.5 L536.5 474.1 L539.4 471.7 L542.5 469.6 M517.4 459.7 L516.7 457.1 L516.2 454.5 M481.1 477.9 L483.8 475.8 L486.8 474.2 M486.8 474.2 L488.5 477.4 L490.5 480.4 L492.6 483.3 L495.5 485.3 L499.0 486.0 M603.7 496.0 L602.0 494.8 L600.0 494.1 L600.2 491.1 L601.1 488.2 L600.8 485.2 L599.5 481.7 L597.3 478.7 M603.7 496.0 L607.0 494.1 L610.7 493.0 L612.1 489.6 L613.6 486.2 L615.4 483.0 M625.7 459.9 L626.7 463.5 L627.8 467.0 M625.7 459.9 L628.6 458.3 L631.1 456.2 L633.8 454.4 L635.7 451.5 L638.6 449.9 M627.8 467.0 L625.4 469.9 L626.1 472.7 L627.6 475.2 L628.0 478.1 L626.0 480.3 L624.1 482.6 L622.9 485.4 M579.6 493.4 L579.4 489.5 L578.2 485.7 M542.5 469.6 L544.7 471.8 L547.1 473.8 L549.5 475.9 L551.6 478.2 M542.5 469.6 L542.5 466.4 L543.6 463.3 L543.1 460.1 M652.3 460.2 L654.9 462.0 L657.3 464.2 L660.3 465.6 L662.7 467.7 M652.3 460.2 L652.3 457.8 L652.2 455.5 M662.7 467.7 L664.6 464.3 L667.4 461.6 L669.7 458.6 M662.7 467.7 L666.0 468.8 L668.8 470.8 M669.7 458.6 L666.6 456.2 L663.5 453.8 L660.4 451.5 L657.9 448.4 M669.7 458.6 L673.3 457.3 L676.7 455.4 M724.1 342.2 L722.6 340.3 L721.7 338.1 L718.0 337.6 L714.3 336.8 M724.1 342.2 L725.5 344.9 L727.3 347.3 M727.3 347.3 L728.6 349.8 L731.5 350.8 L734.6 351.0 L737.6 351.4 L739.3 354.4 L738.0 356.7 L737.4 359.3 M727.3 347.3 L729.6 345.2 L732.1 343.2 L733.4 340.8 L733.4 338.0 L734.3 335.5 L736.1 333.5 L737.4 331.1 L739.5 329.3 M714.3 336.8 L711.6 338.1 L708.7 338.4 L705.8 338.9 M679.9 386.8 L681.2 383.9 L682.0 380.8 L683.0 377.8 L683.3 374.6 M679.9 386.8 L677.1 384.8 L673.5 384.4 L670.7 382.2 L667.8 380.3 L664.5 379.3 M683.3 374.6 L682.5 371.3 L682.4 368.0 L681.9 364.7 M706.3 404.5 L705.0 407.6 L702.7 410.1 L701.4 413.1 L699.1 415.6 M333.9 160.2 L336.8 158.8 L339.2 156.5 L341.6 154.4 M343.0 175.9 L343.0 179.3 L342.5 182.6 L342.4 186.0 M343.0 175.9 L344.6 172.5 L347.7 170.1 L349.3 166.8 M342.4 186.0 L340.1 188.0 L338.2 190.4 L336.5 193.0 L334.2 195.0 L331.5 194.6 L328.9 193.8 L326.5 192.4 M342.4 186.0 L344.6 188.0 L346.7 190.2 L349.0 192.1 M231.0 240.5 L228.5 242.3 M228.5 242.3 L225.2 241.3 L221.8 241.5 L218.5 240.4 L215.1 240.5 L212.4 243.0 L210.0 245.8 M375.4 135.2 L373.3 137.9 L371.2 140.6 L369.5 143.5 L367.4 146.2 M367.4 146.2 L365.3 146.1 L363.3 146.3 M363.3 146.3 L361.7 149.3 L359.7 152.0 L357.9 154.8 L357.5 157.6 L357.5 160.4 L357.7 163.2 M323.1 220.7 L322.5 218.3 L321.8 216.0 L322.5 212.4 L324.2 209.2 M324.2 209.2 L324.4 206.5 L324.8 203.7 L324.5 201.0 M336.6 210.1 L334.1 208.0 L332.3 205.3 L330.1 203.0 L327.2 202.2 L324.5 201.0 M336.6 210.1 L339.8 209.0 L342.2 206.7 L345.2 205.2 L348.1 203.7 M382.8 281.0 L382.1 283.7 L380.8 286.1 L378.1 284.7 L375.0 284.4 L372.2 283.5 L369.5 282.0 M382.2 319.2 L385.5 317.4 L389.2 316.3 M389.2 316.3 L391.2 315.4 M396.4 311.4 L398.3 311.6 L402.0 310.8 L405.3 309.0 L409.0 308.2 L412.3 306.5 L415.7 304.8 L419.3 303.8 M612.3 297.9 L610.2 298.0 L608.5 299.2 M652.5 253.1 L654.4 250.6 L656.9 248.9 M652.5 253.1 L649.8 253.3 L647.0 253.2 L644.8 255.1 L642.7 257.1 L640.2 258.7 M652.5 253.1 L653.2 256.9 M656.9 248.9 L655.3 245.3 L653.8 241.8 L652.2 238.2 L651.3 234.4 M656.9 248.9 L660.4 247.5 L663.4 245.4 L666.5 243.4 L669.7 244.2 M635.5 255.3 L636.6 251.6 L636.2 247.6 L637.3 243.9 L637.9 240.1 M635.5 255.3 L632.6 255.5 L629.8 256.2 L627.0 256.9 M635.5 255.3 L637.7 257.1 L640.2 258.7 M627.0 256.9 L625.0 258.5 M564.8 293.6 L568.0 292.4 L571.4 291.9 L574.8 291.7 M564.8 293.6 L565.5 297.2 L566.9 300.6 L565.9 303.3 L565.5 306.1 M384.7 148.3 L387.4 150.6 L389.5 153.6 L392.4 155.7 L395.4 154.8 L398.6 154.4 L401.4 152.5 L404.5 151.9 M412.2 156.3 L412.6 159.0 L412.1 161.8 L412.8 164.5 M412.2 156.3 L409.2 157.0 L406.2 156.4 M822.5 181.7 L820.3 179.5 L818.7 176.8 L816.5 174.7 L814.4 172.4 M822.5 181.7 L823.2 184.4 L824.8 186.8 L826.1 189.2 M822.5 181.7 L825.4 179.6 L827.8 176.9 L831.0 175.2 L833.2 172.3 L836.2 170.3 M818.1 191.9 L816.9 188.6 L814.4 186.0 L812.8 182.8 L809.7 182.1 L806.6 181.2 L803.5 180.6 M818.1 191.9 L820.6 190.6 L823.2 189.5 L826.1 189.2 M818.1 191.9 L818.5 195.3 L818.5 198.7 M826.1 189.2 L828.4 191.5 L831.7 192.2 L834.2 194.3 M818.5 198.7 L819.5 201.6 L819.8 204.7 L821.3 207.4 L824.9 208.0 L828.3 209.5 M842.7 189.1 L840.2 191.4 L837.1 192.7 L834.2 194.3 M836.2 170.3 L833.2 167.7 L830.5 164.7 L826.8 162.8 L824.2 159.8 L821.3 157.1 L821.4 153.7 M643.5 402.9 L640.2 403.4 L637.2 405.1 L633.9 405.3 M643.5 402.9 L645.8 405.5 L648.7 407.2 L651.4 409.1 L654.2 411.0 M628.2 404.5 L631.1 404.8 L633.9 405.3 M628.2 404.5 L625.6 406.2 L622.5 406.5 L619.8 408.0 M633.9 405.3 L633.7 408.4 L633.5 411.4 L633.7 414.5 L632.6 417.0 L630.9 419.2 L629.6 421.6 M684.3 430.0 L687.0 431.5 L689.3 433.5 L691.3 435.8 M684.3 430.0 L683.4 426.4 L682.5 422.8 L681.2 419.3 M653.7 382.0 L656.5 383.7 L659.7 384.2 L662.0 381.6 L664.5 379.3 M674.3 353.1 L671.1 352.9 L668.1 351.8 L664.9 351.4 L661.8 350.8 M674.3 353.1 L674.1 355.9 L673.9 358.7 L672.8 361.3 M674.3 353.1 L677.8 353.5 L681.3 353.1 M672.8 361.3 L668.9 361.8 L665.0 362.1 M672.8 361.3 L676.1 361.8 L679.1 362.9 L681.9 364.7 M619.8 408.0 L616.4 409.5 L613.1 411.2 L609.8 412.8 M619.8 408.0 L618.2 404.8 L617.9 401.2 L615.2 399.8 L613.6 396.9 L610.9 395.4 L608.4 393.7 M579.9 339.9 L578.5 336.1 L578.3 332.1 M579.9 339.9 L581.9 340.4 L583.6 341.6 L584.2 345.4 L582.1 348.5 L580.6 352.0 M579.9 339.9 L577.3 341.7 L575.2 343.9 L573.4 346.5 L570.9 348.3 M578.3 332.1 L580.5 331.3 L582.4 329.9 M578.3 332.1 L575.4 330.2 L572.3 328.9 L569.3 329.0 L566.7 330.5 M582.4 329.9 L585.4 332.6 L587.9 335.6 L591.5 335.9 L593.3 333.9 L595.1 331.8 L596.9 329.8 M582.4 329.9 L583.6 326.7 L584.1 323.4 L584.9 320.1 M584.9 320.1 L588.1 320.7 L591.1 321.7 L593.9 323.4 L597.1 324.0 M610.1 351.5 L607.3 352.8 L604.0 352.6 L601.0 353.6 L598.2 354.9 L596.4 358.4 M610.1 351.5 L607.1 350.2 L604.3 348.5 L601.4 347.1 M614.4 347.5 L614.1 344.3 L613.1 341.2 L611.7 339.3 L609.9 337.6 M614.4 347.5 L617.1 348.9 L620.1 349.6 M614.4 347.5 L612.6 349.6 L610.5 351.5 M620.1 349.6 L621.4 346.9 L623.6 344.7 L625.3 342.3 L628.9 341.2 L632.4 339.5 L636.1 338.7 M620.1 349.6 L621.2 352.3 L624.3 351.8 L627.4 351.5 L630.5 351.3 L633.8 352.5 L637.0 353.9 M610.3 437.0 L609.4 433.1 L609.6 429.1 M609.8 412.8 L612.0 415.1 L613.4 418.0 L614.7 420.8 M609.8 412.8 L606.8 413.7 M614.7 420.8 L617.0 422.7 L619.1 424.9 L622.5 423.6 L626.0 422.3 L629.6 421.6 M614.7 420.8 L612.9 423.5 L611.1 426.2 L609.6 429.1 M568.2 443.6 L571.1 442.1 L574.3 441.3 L577.7 441.0 L580.5 439.2 M601.4 451.6 L598.3 452.3 L595.2 452.6 L592.0 452.8 L589.0 454.0 L587.4 457.0 L587.1 460.5 L585.2 463.3 M601.4 451.6 L602.1 455.2 L602.2 458.8 L602.2 462.4 M599.9 468.6 L597.1 471.1 L595.3 474.4 M599.9 468.6 L601.6 465.7 L602.2 462.4 M599.9 468.6 L601.4 471.0 L602.8 473.5 L604.1 476.0 M602.2 462.4 L605.1 463.1 L608.1 463.3 L611.3 462.3 L614.7 462.1 L617.9 460.6 L621.2 460.0 L624.4 459.0 M616.5 355.7 L613.1 354.2 L610.5 351.5 M599.9 407.5 L597.8 404.5 L596.1 401.3 L597.5 398.4 L598.1 395.2 M599.9 407.5 L602.4 409.3 L604.1 412.1 L606.8 413.7 M599.9 407.5 L597.2 410.1 L593.9 411.8 L591.1 414.3 L587.7 415.9 L584.9 418.3 L582.1 420.7 M606.8 413.7 L606.0 417.4 L604.4 420.7 L603.4 424.3 L602.0 427.7 L600.5 431.1 M608.4 393.7 L605.9 393.4 L603.7 392.2 L601.0 394.0 L598.1 395.2 M598.1 395.2 L595.8 392.9 L594.2 390.1 L590.8 390.1 L587.5 389.6 M690.9 359.0 L689.2 361.5 L687.9 364.2 L684.9 364.2 L681.9 364.7 M690.9 359.0 L687.7 357.1 L684.2 355.5 L681.3 353.1 M705.8 338.9 L704.7 342.0 L702.7 344.5 L700.9 347.2 M659.8 319.2 L660.6 322.3 L661.3 325.5 M659.8 319.2 L657.3 317.2 L654.8 315.1 L652.0 313.5 M661.3 325.5 L658.7 327.5 L656.0 329.2 L652.9 330.2 M582.2 269.9 L581.0 270.5 L578.3 269.6 L575.8 268.4 L572.9 268.2 M529.0 301.7 L525.5 303.4 L521.8 304.7 L518.6 306.9 L515.7 306.2 L513.1 304.9 M529.0 301.7 L530.1 298.0 L530.7 294.3 M530.7 294.3 L528.4 292.1 L525.8 290.2 L523.5 288.0 L519.5 288.2 L515.7 289.3 M530.7 294.3 L533.6 294.4 L536.3 293.4 L539.1 292.9 M574.8 291.7 L575.7 288.7 L575.7 285.7 L575.8 282.6 L574.6 278.9 L572.5 275.6 M565.4 306.1 L566.1 310.0 L567.6 313.7 L567.6 317.7 L565.4 319.9 L563.6 322.4 L561.7 324.9 M632.3 289.5 L630.2 287.6 L627.5 286.5 L626.4 283.6 L625.2 280.8 L624.6 277.8 M597.1 324.0 L600.3 323.4 L603.7 323.5 L606.9 322.9 L610.2 322.5 M597.1 324.0 L596.5 326.9 L596.9 329.8 M596.9 329.8 L599.2 332.0 L600.9 334.6 L602.8 337.2 M606.4 298.2 L608.5 299.2 M608.5 299.2 L606.7 302.6 L605.3 306.1 L604.6 309.9 L602.9 313.3 L605.9 314.7 L609.2 315.0 L612.2 316.5 M775.9 306.4 L775.9 303.7 L776.3 301.1 L776.4 298.4 L774.9 295.8 L773.1 293.3 L772.4 290.3 M775.9 306.4 L772.8 307.5 L769.8 308.9 M691.3 296.8 L690.6 293.7 L688.3 291.3 L686.9 288.4 L686.0 285.4 M727.9 304.9 L724.9 305.3 L722.5 307.6 L719.5 308.0 L716.8 307.6 L714.4 306.4 M727.9 304.9 L728.5 302.5 L728.0 300.0 L726.5 298.3 L724.7 297.0 L721.4 297.5 L718.1 297.9 M728.5 305.7 L729.4 309.4 L728.6 313.3 L729.1 317.0 M728.5 305.7 L731.4 306.5 L734.3 306.7 L737.2 307.4 M813.8 243.4 L810.6 243.8 L807.5 244.9 L804.5 246.4 L801.9 248.4 L799.6 250.8 L797.1 252.9 M814.9 244.1 L818.2 242.5 L821.5 241.1 L824.6 239.1 L828.4 239.8 L832.2 240.1 M814.9 244.1 L818.5 245.6 L821.8 247.6 L822.5 250.6 L824.3 253.3 L824.9 256.4 L825.5 259.4 M810.9 264.1 L808.4 263.0 L806.5 260.8 L803.8 260.0 M810.9 264.1 L814.7 263.4 L818.3 262.0 L821.7 260.0 L825.5 259.4 M736.8 138.9 L733.8 139.6 L730.9 140.5 M736.8 138.9 L738.8 140.8 L740.9 142.7 M730.9 140.5 L732.2 143.1 L733.0 145.8 M683.2 211.6 L685.2 210.9 L686.6 209.2 M718.2 209.2 L714.6 209.4 L711.0 209.1 L707.5 208.1 L703.9 208.0 M718.2 209.2 L720.6 212.2 L723.4 215.0 L725.8 218.0 M703.9 208.0 L703.6 204.2 L702.5 200.6 L701.0 197.1 L700.2 193.4 L700.0 189.6 M703.9 208.0 L701.8 210.1 L699.3 211.6 L697.3 213.7 M677.4 193.9 L679.8 194.4 L682.1 193.9 M700.0 189.6 L696.9 190.4 L693.6 190.1 L690.5 190.9 L688.1 189.9 M700.2 189.3 L703.4 190.4 L706.7 190.8 L710.2 190.0 L713.4 190.6 L716.7 191.3 L718.5 189.4 L720.5 187.8 M700.2 189.3 L700.9 186.2 L701.0 183.1 L701.5 180.0 M692.4 155.9 L694.5 158.8 L695.0 162.5 L697.0 165.5 L699.8 167.5 L702.3 170.1 L705.5 171.6 L706.1 174.4 M669.7 244.2 L668.1 246.9 L665.8 249.1 L664.6 252.1 L662.8 254.6 M669.7 244.2 L672.8 242.7 L676.2 242.0 M676.2 242.0 L677.8 245.2 L679.7 248.3 L681.7 251.2 M651.3 234.4 L647.8 235.5 L644.8 237.8 L641.1 238.3 L637.9 240.1 M665.7 283.9 L665.6 281.4 M665.7 283.9 L667.7 284.6 L669.3 286.1 M669.3 286.1 L672.6 285.5 L676.0 285.8 L679.3 285.8 L682.6 284.9 L686.0 285.4 M689.4 261.2 L686.8 259.7 L684.7 257.4 L682.1 255.9 M681.7 251.2 L681.9 253.6 L682.1 255.9 M682.1 255.9 L681.0 258.8 L679.3 261.3 L677.3 263.6 M677.3 263.6 L673.5 263.8 L671.2 261.0 L668.4 258.9 L665.6 256.8 L662.8 254.6 M677.3 263.6 L680.1 266.1 L681.1 268.9 L680.7 272.0 L681.6 274.9 M662.8 254.6 L661.2 256.6 L658.9 257.8 L656.1 257.1 L653.2 256.9 M793.2 271.7 L794.9 270.6 L796.1 268.9 L796.1 265.4 L795.8 261.9 L796.0 258.5 M793.2 271.7 L794.0 275.0 L793.6 278.3 M793.2 271.7 L789.7 270.6 L786.0 270.4 L782.7 268.5 L779.1 267.8 L776.8 264.7 M793.6 278.3 L792.3 281.8 L790.4 284.9 L788.5 288.0 M872.5 368.1 L868.8 368.3 L865.4 369.7 L861.9 370.8 L858.2 371.1 L854.5 371.3 L851.0 372.2 M851.9 332.2 L854.0 334.5 L856.8 335.7 M854.4 342.5 L855.4 339.0 L856.8 335.7 M856.8 335.7 L859.9 336.3 L863.1 335.8 L866.2 336.7 M758.0 425.8 L758.4 423.0 L759.6 420.5 L760.7 418.0 L758.9 414.5 L756.9 411.1 M731.0 361.3 L734.3 360.5 L737.4 359.3 M731.0 361.3 L731.5 364.5 L733.3 367.4 L734.0 370.6 L733.8 374.0 L735.2 377.0 M786.1 334.3 L784.9 337.5 L784.3 340.9 L784.5 344.3 M784.5 344.3 L782.4 346.3 L780.0 347.9 L776.2 347.7 L772.4 348.4 L768.6 348.4 L764.8 348.6 M784.5 344.3 L786.1 347.1 L788.3 349.4 L790.1 352.1 M817.3 362.9 L813.9 363.4 L810.6 362.0 L807.1 363.1 L803.8 361.7 L800.4 362.2 M817.3 362.9 L818.6 365.6 L819.9 368.3 L821.3 371.0 M764.8 348.6 L763.8 345.7 L762.4 343.1 L760.3 340.9 M764.8 348.6 L763.2 351.8 L762.3 355.2 L760.3 358.2 M760.3 340.9 L757.8 341.2 M760.3 340.9 L761.1 338.0 L761.3 335.0 L760.5 332.4 L758.6 330.3 M757.8 341.2 L755.6 342.8 L752.7 342.9 L750.5 344.6 L750.5 348.5 L749.2 352.2 L748.5 356.0 M757.8 341.2 L755.6 338.7 L754.4 335.5 M791.6 396.7 L794.7 396.6 L797.7 395.4 L800.9 395.6 M791.6 396.7 L790.4 394.9 L789.1 393.2 M800.9 395.6 L802.7 393.1 L804.1 390.3 L806.2 388.0 M814.8 381.4 L813.6 384.8 L811.9 388.0 L809.5 389.7 L806.2 388.0 M814.8 381.4 L816.9 379.1 L818.3 376.4 L820.1 373.8 L821.3 371.0 M849.9 364.6 L850.8 368.3 L851.0 372.2 M851.0 372.2 L849.9 375.4 L849.4 378.7 L848.2 381.8 M873.5 289.5 L870.7 289.1 L868.2 287.8 L864.6 289.3 L860.7 289.8 M860.3 263.5 L857.8 264.3 L855.2 263.9 L852.2 261.3 L848.9 259.2 M848.9 259.2 L846.2 260.9 M819.3 293.0 L822.7 292.6 L826.0 291.5 L829.4 291.4 M819.3 293.0 L819.1 290.1 L818.3 287.4 L817.8 284.6 M817.8 284.6 L818.8 282.1 L820.5 279.9 L823.5 277.7 L826.6 275.4 L830.5 274.5 L833.3 272.0 M829.4 291.4 L829.5 294.4 L830.5 297.4 L830.6 300.4 L833.3 302.2 L835.1 304.9 M825.5 259.4 L827.8 260.6 M860.7 289.8 L858.5 287.3 L856.4 284.7 L854.8 281.7 L853.2 278.8 L850.9 277.9 L848.8 276.8 M841.4 300.1 L838.6 303.0 L835.1 304.9 M852.6 388.4 L850.8 384.9 L848.2 381.8 M486.0 368.6 L483.9 370.4 L481.6 371.8 L479.1 373.1 M486.0 368.6 L487.0 365.4 L488.4 362.4 L488.6 359.0 L490.3 356.1 M479.1 373.1 L477.0 371.5 L475.5 369.3 M479.1 373.1 L480.6 376.4 L483.2 379.0 L484.8 382.3 L481.9 384.0 L479.4 386.3 M475.5 369.3 L475.2 365.4 L473.5 361.7 L473.5 357.8 M540.2 417.9 L538.0 416.1 L535.4 414.8 L533.5 412.6 L532.6 409.1 L532.5 405.5 L529.5 404.2 L526.3 403.2 L523.4 401.6 L520.5 400.1 L520.2 400.4 M540.2 417.9 L540.4 420.1 L541.3 422.2 M541.3 422.2 L538.2 423.9 L534.9 425.0 L532.2 427.3 L529.7 429.7 L527.6 432.6 M561.4 378.1 L563.6 379.3 L566.0 380.4 M532.9 394.5 L533.5 395.9 L536.9 396.4 L539.9 398.1 L542.4 396.7 L545.1 395.5 L547.8 394.5 M524.6 366.9 L528.5 366.0 L532.0 364.2 L535.9 363.5 M524.3 367.4 L524.6 370.9 L523.7 374.4 L524.7 377.9 L523.9 381.4 L523.9 384.9 M455.3 370.0 L456.2 373.6 L458.0 376.9 L459.3 380.4 L460.5 383.9 L461.6 387.4 M455.3 370.0 L453.3 369.4 M450.7 364.6 L452.0 367.0 L453.3 369.4 M450.7 364.6 L453.0 362.5 L455.5 360.6 L454.4 357.1 L453.6 353.5 M463.5 390.0 L461.6 387.4 M463.5 390.0 L464.5 392.6 L464.5 395.3 L464.9 398.0 L462.5 401.2 L459.7 401.2 L456.9 401.7 M463.5 390.0 L466.2 389.8 L468.7 388.5 L471.5 388.7 M461.9 309.7 L464.7 308.1 L466.9 305.6 L470.0 304.4 M461.9 309.7 L460.7 307.0 L460.6 304.0 L459.1 301.4 M459.1 301.4 L460.5 298.3 L462.3 295.5 M459.1 301.4 L456.7 299.8 L454.3 298.2 L450.7 299.2 L447.0 299.5 L443.4 300.7 M470.0 304.4 L469.2 301.2 L469.4 297.9 L469.5 294.6 L465.9 294.8 L462.3 295.5 M470.0 304.4 L473.1 303.9 L476.2 304.0 L479.4 304.6 L482.5 304.4 M462.3 295.5 L462.1 291.9 L462.7 288.2 L461.8 284.6 M472.3 406.6 L471.7 403.0 L472.4 399.4 L471.2 395.9 L471.0 392.3 L471.5 388.7 M456.9 401.7 L455.8 404.3 L455.6 407.1 L455.2 409.8 M472.5 387.1 L476.0 387.4 L479.4 386.3 M482.3 463.1 L482.0 460.5 L483.0 458.1 L481.2 455.7 L479.5 453.1 L477.4 450.8 L475.5 448.5 M491.4 164.5 L493.9 165.8 L495.4 168.3 L497.6 169.9 M491.4 164.5 L487.9 165.7 L484.2 165.9 M497.6 169.9 L498.8 172.7 L498.7 175.9 L500.2 178.6 M478.9 140.4 L477.2 143.7 L475.0 146.8 L474.5 150.1 L474.5 153.4 L473.6 156.6 M461.4 138.6 L459.6 141.6 L459.3 145.2 L457.6 148.2 M374.1 242.6 L370.6 242.5 L367.3 241.3 L363.8 240.8 L360.5 239.8 M361.5 228.9 L362.3 231.0 L364.2 232.2 L362.7 234.6 L361.6 237.2 L360.5 239.8 M410.2 240.5 L414.2 240.3 L418.1 241.2 L422.0 242.0 L425.9 242.4 M410.2 240.5 L409.3 242.4 L409.6 244.5 L406.9 245.9 L404.6 248.0 L406.0 250.5 L406.6 253.3 L406.8 256.1 M394.8 221.9 L396.6 219.3 M401.9 256.7 L404.3 255.9 L406.8 256.1 M406.8 256.1 L410.1 255.0 L412.3 256.8 L414.4 258.9 L417.0 260.2 M445.0 188.8 L446.0 190.5 L446.5 192.5 L449.4 194.1 L452.1 196.0 L455.1 197.3 L458.3 198.3 M486.8 183.9 L484.9 181.5 L483.6 178.7 L481.3 176.6 L478.3 176.4 L475.8 174.6 L472.8 174.3 M438.4 214.1 L441.6 212.8 L444.9 211.7 L448.4 211.1 M438.4 214.1 L436.7 211.5 L434.0 210.0 L430.7 209.3 L427.4 209.2 M438.4 214.1 L435.3 215.1 L432.4 216.6 L429.8 218.7 L426.6 219.4 M467.0 244.7 L465.7 241.9 L464.0 239.4 L461.7 237.3 M467.0 244.7 L466.5 247.2 L465.7 249.7 L463.2 251.4 L460.2 252.1 L457.5 253.6 M461.7 237.3 L462.8 234.2 L464.4 231.2 L465.5 228.1 M461.7 237.3 L458.3 237.4 L454.9 237.2 L451.6 236.2 M492.6 352.9 L490.3 356.1 M492.6 352.9 L491.2 349.6 L488.8 346.9 L487.7 343.4 L485.7 340.4 M492.6 352.9 L496.0 353.7 L499.2 355.2 L502.8 355.4 L505.9 357.0 L509.3 357.9 M490.3 356.1 L487.3 355.2 L484.4 354.1 L481.9 352.2 L479.2 354.2 L476.1 355.7 L473.5 357.8 M496.3 267.1 L494.1 264.3 L493.3 260.6 L490.6 258.0 L489.4 254.6 M496.3 267.1 L495.1 270.7 L493.6 274.1 M489.4 254.6 L486.3 256.9 L483.4 259.5 L480.6 259.9 L477.8 259.2 M502.7 284.6 L500.3 282.1 L497.8 279.7 L496.4 276.3 L493.6 274.1 M493.6 274.1 L490.9 276.2 L488.5 278.4 L486.1 280.8 L483.2 280.6 L480.5 279.4 M477.8 259.2 L475.1 261.4 L472.8 264.1 L470.1 266.3 M470.1 266.3 L472.0 269.1 L474.3 271.5 L476.7 273.9 L477.9 277.2 L480.5 279.4 M470.1 266.3 L466.4 266.5 L462.7 267.0 M436.5 291.5 L433.3 290.6 L429.9 291.3 L426.6 290.9 L423.4 289.9 M436.5 291.5 L439.0 294.4 L440.6 298.0 L443.4 300.7 M436.5 291.5 L438.6 288.9 L440.5 286.2 L442.4 283.5 L445.0 281.3 L446.6 278.4 L446.7 276.2 L446.5 274.0 M421.3 304.7 L423.7 305.5 L426.3 305.3 L427.8 307.5 L430.1 308.8 L431.1 311.4 L431.4 314.2 L432.8 316.7 M421.3 304.7 L419.3 303.8 M421.3 304.7 L421.6 308.0 L422.6 311.2 L422.2 314.5 L421.7 317.6 L420.0 320.3 L419.6 323.4 L418.3 326.2 M419.3 303.8 L420.3 300.3 L421.6 296.9 L421.9 293.2 L423.4 289.9 M475.5 448.5 L472.3 449.1 L469.1 450.0 M475.5 448.5 L478.4 447.1 L481.5 446.3 L484.7 445.8 M534.8 455.9 L537.6 457.3 L540.5 458.5 L543.1 460.1 M641.2 485.7 L638.2 484.4 L634.9 484.3 L632.0 486.0 L628.9 487.3 L625.7 488.3 M681.7 447.4 L685.1 446.2 L688.1 444.4 L691.1 442.4 M694.7 413.2 L690.9 414.4 L687.0 414.8 L683.1 415.1 M694.7 413.2 L696.9 414.5 L699.1 415.6 M699.1 415.6 L698.8 419.5 L697.5 423.3 L696.5 427.1 L696.3 431.0 M696.3 431.0 L693.8 433.4 L691.3 435.8 M696.3 431.0 L699.3 432.2 L702.0 434.0 L702.8 436.9 L702.9 440.0 L703.9 442.8 L704.9 445.7 M704.3 447.5 L701.7 447.4 L699.4 448.5 L696.9 446.1 L693.5 444.9 L691.1 442.4 M691.3 435.8 L690.9 439.1 L691.1 442.4 M311.2 194.3 L314.3 196.4 L317.1 198.9 L319.5 198.4 L321.9 197.8 M324.5 201.0 L322.8 199.7 L321.9 197.8 M321.9 197.8 L324.4 195.3 L326.5 192.4 M357.7 163.2 L356.7 165.2 M356.7 165.2 L358.3 168.7 L358.5 172.8 L360.3 176.2 L361.5 179.9 M356.7 165.2 L352.9 165.3 L349.3 166.8 M349.3 166.8 L349.4 162.8 L348.4 159.0 L346.4 157.1 L343.9 155.9 L341.6 154.4 M341.0 152.1 L341.6 154.4 M348.1 203.7 L346.0 202.3 L344.8 200.2 L345.1 196.3 L347.5 194.6 L349.0 192.1 M348.1 203.7 L350.6 205.6 L352.8 207.9 L354.6 210.5 L356.6 212.9 M348.3 258.5 L345.2 260.7 L342.0 262.9 L338.8 260.9 L335.8 258.5 M348.3 258.5 L351.7 259.2 L355.1 260.0 L358.4 261.4 L361.8 262.2 M332.4 260.5 L335.8 258.5 M335.8 258.5 L334.5 256.5 L332.9 254.8 L332.5 251.7 L333.9 248.7 L333.6 245.6 L336.7 244.1 L339.7 242.3 M624.6 277.8 L626.2 275.5 L626.6 272.7 L627.7 270.2 M653.2 256.9 L651.5 259.1 L650.0 261.5 L648.3 263.6 L647.1 267.5 L647.1 271.5 M444.0 138.2 L441.5 137.3 L439.2 136.2 M444.9 156.8 L442.1 157.8 L439.1 158.2 L436.2 158.5 M776.4 154.6 L776.4 154.3 L779.4 152.3 L782.7 151.1 L785.1 152.2 L787.4 153.6 L787.1 154.6 M631.8 424.8 L635.7 423.9 L639.5 422.9 L643.3 421.9 L645.6 424.5 L648.5 426.5 M631.8 424.8 L629.6 421.6 M681.2 419.3 L679.0 421.7 L676.1 423.3 L674.4 426.3 L671.5 427.9 L669.2 425.8 L666.2 424.8 M681.2 419.3 L681.7 417.0 L683.1 415.1 M683.1 415.1 L680.0 413.6 L677.5 411.3 L675.0 409.0 L675.1 405.9 M664.5 379.3 L666.5 376.4 L668.2 373.4 L667.0 369.7 L666.2 365.8 L665.0 362.1 M661.8 350.8 L659.7 353.0 L658.4 355.8 L655.4 357.2 L653.9 359.9 M661.8 350.8 L661.3 348.3 L661.0 345.8 M661.0 345.8 L657.8 344.2 L654.7 342.6 L651.3 341.6 L648.1 340.1 M639.9 374.8 L637.4 373.7 L634.9 372.7 M634.9 372.7 L635.6 369.0 L635.8 365.2 L636.4 361.4 L636.0 357.6 L637.0 353.9 M645.2 362.7 L647.9 361.3 L650.8 360.4 L653.9 359.9 M652.2 455.5 L654.5 453.4 L655.9 450.7 L657.9 448.4 M652.2 455.5 L649.1 453.6 L646.0 451.7 L642.7 450.1 M657.9 448.4 L658.4 444.8 L658.9 441.1 M638.6 449.9 L640.7 449.8 L642.7 450.1 M642.7 450.1 L643.4 447.4 L644.4 444.8 L644.3 442.0 L647.4 440.5 L650.3 438.7 M575.2 371.2 L574.0 374.2 L574.2 377.4 M582.2 353.5 L580.6 352.0 M590.9 358.5 L593.7 359.1 L596.4 358.4 M574.2 377.4 L571.4 378.2 L568.8 379.6 L566.0 380.4 M574.2 377.4 L577.2 380.0 L580.2 382.6 L583.4 385.0 L586.4 387.6 M566.0 380.4 L566.5 384.0 L567.0 387.6 L567.6 391.1 L568.4 394.7 L568.4 398.3 M552.8 396.3 L550.5 394.9 L547.8 394.5 M552.8 396.3 L555.1 399.3 L558.6 401.2 L561.1 404.0 M580.6 352.0 L577.4 353.6 L574.1 355.0 L571.2 353.1 L571.5 350.7 L570.9 348.3 M570.9 348.3 L568.7 346.8 L566.5 345.3 L564.9 343.0 M596.4 358.4 L594.8 360.4 L594.2 363.0 M600.5 431.1 L603.6 430.8 L606.6 429.9 L609.6 429.1 M561.7 421.8 L564.5 420.7 L567.1 419.1 M586.4 387.6 L587.8 384.5 L588.4 381.1 L589.9 378.0 L591.8 375.1 L592.7 371.8 L594.1 368.7 M586.4 387.6 L587.5 389.6 M587.5 389.6 L585.4 392.7 L583.9 396.2 L581.8 398.0 L579.3 399.3 L576.6 400.0 M580.5 439.2 L581.0 435.4 L581.6 431.6 L581.2 427.8 M581.2 427.8 L581.7 424.3 L582.1 420.7 M582.1 420.7 L579.4 418.9 L577.0 416.7 M577.0 416.7 L578.3 413.7 L579.9 410.8 L580.8 407.6 L578.9 405.3 L577.9 402.6 L576.6 400.0 M577.0 416.7 L574.6 418.2 L572.9 420.5 L570.7 422.3 L568.5 421.1 L567.1 419.1 M567.1 419.1 L565.2 416.2 L563.6 413.1 M563.6 413.1 L562.6 410.1 L561.7 407.1 L561.1 404.0 M652.0 313.5 L650.3 315.9 L647.9 317.7 L646.4 320.3 M646.4 320.3 L648.7 323.5 L651.3 326.5 L652.9 330.2 M646.4 320.3 L644.0 318.5 L641.1 318.0 L638.4 316.8 M652.9 330.2 L651.3 333.5 L649.8 336.8 L648.1 340.1 M638.4 316.8 L635.5 319.1 L632.4 321.1 M632.4 321.1 L630.0 322.5 L627.5 323.9 L624.8 324.7 L622.0 323.6 L618.9 323.7 L616.0 322.7 M632.4 321.1 L633.7 323.8 L634.3 326.8 L634.1 330.3 L632.9 333.7 L634.2 336.4 L636.1 338.7 M720.6 285.6 L722.5 283.3 L723.3 280.4 L721.6 277.1 L719.5 274.0 M720.6 285.6 L719.8 288.5 L719.2 291.5 L718.7 294.5 L717.3 297.2 M720.6 285.6 L722.8 288.2 L725.7 290.0 L728.9 289.5 L731.6 286.6 L733.3 283.0 L735.6 280.0 M708.6 298.8 L711.4 297.9 L714.3 297.3 L717.3 297.2 M708.6 298.8 L707.5 296.3 L706.1 294.0 L705.5 291.3 M714.4 306.4 L715.3 303.4 L717.3 300.9 L718.1 297.9 M705.5 291.3 L701.7 290.3 L699.3 287.6 L696.9 284.9 L694.5 282.2 M705.5 291.3 L705.9 287.8 L706.0 284.4 L707.0 281.0 L710.1 279.2 L713.3 277.5 L716.2 275.5 L719.5 274.0 M739.5 329.3 L742.5 330.4 L745.6 331.4 L748.6 332.6 L751.3 334.5 L754.4 335.5 M739.5 329.3 L739.8 327.3 L739.6 325.3 M737.2 307.4 L740.7 305.6 L743.9 303.4 L747.6 302.0 L750.9 299.8 L754.3 297.9 M737.2 307.4 L738.8 310.9 L741.9 313.3 L743.9 316.6 L745.7 319.9 M753.4 275.2 L754.9 278.5 L755.5 282.1 L752.7 284.8 L751.0 288.3 L748.6 291.3 M762.3 270.8 L762.9 274.2 L764.0 277.4 L765.4 280.6 L768.1 282.0 L770.4 283.9 L772.7 285.8 M707.3 249.4 L710.3 248.6 L713.4 247.8 M788.5 288.0 L784.5 287.8 L780.6 287.2 L776.6 286.5 L772.7 285.8 M772.7 285.8 L772.1 288.0 L772.4 290.3 M772.4 290.3 L769.5 293.0 L765.7 294.2 L762.9 297.0 L759.5 298.8 M772.7 419.0 L772.8 415.4 L773.1 411.8 L770.1 410.0 L767.5 407.4 L764.0 406.3 L761.3 404.0 M756.9 411.1 L758.4 408.0 L759.4 404.7 M761.3 404.0 L759.4 404.7 M761.3 404.0 L762.9 401.3 M720.6 397.1 L722.5 399.4 L725.4 400.4 L727.6 402.4 M727.6 402.4 L729.9 399.3 L731.7 395.9 M748.5 356.0 L747.7 358.7 L745.9 360.7 L744.6 363.1 M748.5 356.0 L751.6 355.9 L754.3 357.6 L757.3 358.2 L760.3 358.2 M744.6 363.1 L742.3 361.6 L739.5 361.1 L737.4 359.3 M744.6 363.1 L748.0 364.5 L750.7 366.8 L750.8 369.5 L748.7 371.7 L746.2 373.5 L744.6 376.2 M800.9 353.7 L797.3 353.3 L793.7 352.3 L790.1 352.2 M800.9 353.7 L801.1 356.6 L799.9 359.3 L800.4 362.2 M790.1 352.2 L788.1 353.6 L785.9 354.9 L784.8 358.7 L783.5 362.5 L781.9 366.1 M754.4 335.5 L756.4 332.8 L758.6 330.3 M758.6 330.3 L761.1 327.2 L763.8 324.3 M763.8 324.3 L762.9 321.7 L762.2 319.1 M806.2 388.0 L804.5 385.0 L802.1 382.4 L800.0 379.6 L797.8 377.0 L795.4 374.5 M789.1 393.2 L787.0 390.8 L785.5 388.0 L784.2 385.2 L782.6 382.5 L782.4 378.6 L783.6 374.9 M789.1 393.2 L786.1 395.3 L783.2 397.5 L779.8 398.8 M846.2 260.9 L845.3 264.0 L845.4 267.3 L845.3 270.5 L846.9 273.7 L848.8 276.8 M846.2 260.9 L843.7 259.2 L840.8 258.4 L837.6 258.6 L834.8 260.1 L831.8 261.0 M390.9 430.5 L391.1 428.4 M391.1 428.4 L390.3 424.5 L388.3 421.0 L387.3 417.2 M538.0 362.0 L535.9 363.5 M535.9 363.5 L537.4 366.7 L539.5 369.5 L541.0 372.8 L543.5 375.4 L545.3 378.4 L543.9 381.3 L543.8 384.5 M521.3 387.1 L523.9 384.9 M521.3 387.1 L521.7 390.2 M523.9 384.9 L527.9 384.2 L531.8 384.2 L535.8 384.1 L539.8 384.2 L543.8 384.5 M561.0 335.8 L557.5 336.7 L554.0 337.5 L551.7 337.1 L550.0 335.5 M561.0 335.8 L562.0 338.4 L563.9 340.4 L564.9 343.0 M561.0 335.8 L563.7 332.9 L566.7 330.5 M566.7 330.5 L564.7 327.3 L561.7 324.9 M443.4 300.7 L442.1 302.3 L440.9 304.0 L441.0 307.9 L441.6 311.8 L441.9 315.7 M476.5 280.1 L478.5 280.0 L480.5 279.4 M430.3 330.7 L432.0 329.3 L433.9 328.4 L433.7 324.5 L433.3 320.6 L432.8 316.7 M430.3 330.7 L427.2 329.8 L424.1 329.0 L421.4 327.0 L418.3 326.2 M441.9 315.7 L438.9 316.6 L435.9 316.9 L432.8 316.7 M519.4 423.9 L522.7 424.4 L523.8 427.5 L526.2 429.7 L527.6 432.6 M502.4 419.4 L501.4 416.1 L500.1 412.8 L501.3 410.0 L502.1 407.0 L502.3 404.0 L502.8 401.0 M498.6 437.1 L500.2 439.6 L502.3 441.9 M492.4 433.7 L490.6 436.8 L488.1 439.5 L486.2 442.5 L484.7 445.8 M484.2 165.9 L481.3 168.1 L478.8 170.6 L476.3 170.4 M484.2 165.9 L481.6 163.9 L478.5 162.6 L475.7 160.8 L474.9 158.6 L473.6 156.6 M354.6 227.3 L353.8 224.9 L353.0 222.5 L355.4 219.8 L357.1 216.7 L356.6 212.9 M356.6 212.9 L359.6 212.5 M404.9 219.2 L402.1 219.9 L399.4 219.0 L396.6 219.3 M404.9 219.2 L405.1 215.7 L405.9 212.3 L405.7 208.8 L405.8 205.3 M396.6 219.3 L397.4 215.7 L398.8 212.3 L399.2 208.6 L400.4 205.0 M453.0 158.5 L453.3 155.1 L454.1 151.9 L455.5 149.7 L457.6 148.2 M462.1 161.7 L462.9 159.7 L463.8 157.7 M454.3 185.3 L455.0 182.4 M458.3 198.3 L458.3 200.6 L458.1 202.8 M458.3 198.3 L459.5 196.2 L461.1 194.4 M458.1 202.8 L455.2 204.3 L452.9 206.6 L450.9 209.1 L448.4 211.1 M458.1 202.8 L457.4 206.3 L457.9 209.9 L457.2 213.4 M492.7 205.7 L492.8 203.3 M492.7 205.7 L490.1 207.2 L487.4 208.6 L485.0 211.8 L483.1 215.2 L479.4 215.1 L475.7 215.9 M492.8 203.3 L490.2 202.8 L487.9 201.7 M448.4 211.1 L449.4 214.8 L449.5 218.6 L452.5 220.4 L455.8 221.8 M451.0 231.8 L447.4 231.9 L443.7 231.9 L442.6 234.2 L440.7 236.0 M451.0 231.8 L452.2 228.3 L454.4 225.2 L455.8 221.8 M451.0 231.8 L451.3 234.0 L451.6 236.2 M465.5 228.1 L464.3 225.1 L462.9 222.2 L459.8 221.7 L456.8 220.8 M474.4 217.2 L471.1 215.8 L467.4 216.3 L464.2 214.3 L460.7 214.0 L457.2 213.4 M475.7 215.9 L476.3 212.3 L476.6 208.7 M426.6 219.4 L425.1 217.4 L424.0 215.1 L425.9 212.3 L427.4 209.2 M428.0 236.5 L430.9 236.2 L433.4 234.7 L437.1 235.2 L440.7 236.0 M428.0 236.5 L426.5 239.3 L425.9 242.4 M485.7 340.4 L487.6 337.5 L490.2 335.0 L492.6 332.6 L495.0 330.0 L497.4 327.5 M485.7 340.4 L482.3 341.0 L478.9 340.8 L475.5 341.0 L472.1 340.5 M475.9 325.2 L475.8 323.6 L478.0 320.6 L480.1 317.5 L482.6 314.7 L484.2 311.3 L486.5 308.4 M486.5 308.4 L489.9 308.4 L493.2 308.3 M493.2 308.3 L495.4 311.3 L497.4 314.4 L499.2 317.6 L497.6 319.4 L496.5 321.5 M447.0 240.0 L447.8 243.4 L448.3 246.9 L447.4 250.4 L448.4 253.8 L448.6 257.3 M447.0 240.0 L449.1 237.9 L451.6 236.2 M447.0 240.0 L443.5 239.5 M515.7 289.3 L514.2 290.9 L512.2 291.9 M502.3 441.9 L505.0 440.3 L508.2 439.4 L510.7 437.3 L513.2 437.5 M502.3 441.9 L499.8 443.4 L497.1 444.4 L494.7 446.0 M578.2 485.7 L580.9 484.3 L583.6 482.9 L586.5 481.9 L587.8 479.3 L587.5 476.2 L588.8 473.6 M578.2 485.7 L575.5 484.2 L572.6 483.0 L569.7 481.8 L566.6 481.3 M588.8 473.6 L592.1 473.4 L595.3 474.4 M588.8 473.6 L588.0 470.0 L586.0 466.9 L585.2 463.3 M595.3 474.4 L596.6 476.4 L597.3 478.7 M597.3 478.7 L600.8 477.6 L604.1 476.0 M622.9 485.4 L624.4 486.8 L625.7 488.3 M622.9 485.4 L619.2 484.0 L615.4 483.0 M615.4 483.0 L612.8 480.8 L609.8 479.4 L607.1 477.4 L604.1 476.0 M551.6 478.2 L553.4 477.2 L555.5 477.1 L557.7 474.4 L559.1 471.2 M338.2 238.9 L339.7 242.3 M418.2 264.7 L417.8 262.4 L417.0 260.2 M417.0 260.2 L420.8 260.0 L424.4 261.1 L427.2 259.4 L429.6 257.1 M639.6 266.1 L640.0 262.4 L640.2 258.7 M637.9 240.1 L636.1 238.6 L633.8 238.3 M436.2 158.5 L436.1 155.1 L435.3 151.8 L433.8 148.6 L433.0 145.4 L432.5 142.0 M415.1 172.7 L413.9 170.1 L413.8 167.2 L412.8 164.5 M415.1 172.7 L413.9 175.7 L413.4 178.9 L412.7 182.1 L413.1 185.5 L411.8 188.5 M412.8 164.5 L409.7 165.4 L406.5 166.3 L403.4 167.3 L400.6 169.0 M828.3 209.5 L829.9 206.6 L830.2 203.2 L832.2 200.5 L833.3 197.5 L834.2 194.3 M654.2 411.0 L657.9 411.4 L661.5 410.8 L665.2 410.5 M654.2 411.0 L653.8 414.2 L654.0 417.4 L652.5 420.7 L650.1 423.3 L648.5 426.5 M665.0 362.1 L662.0 363.0 L658.8 362.8 L656.7 360.8 L653.9 359.9 M561.1 404.0 L563.9 402.6 L565.8 400.0 L568.4 398.3 M568.4 398.3 L571.1 398.8 L573.9 399.2 L576.6 400.0 M648.1 340.1 L645.8 341.6 L643.2 342.3 M570.1 258.9 L571.3 261.1 L573.1 262.8 L572.6 265.5 L572.9 268.2 M573.4 248.6 L572.9 250.8 L573.3 253.1 M686.0 285.4 L688.7 283.9 L691.5 282.8 L694.5 282.2 M694.5 282.2 L691.7 281.2 L689.4 279.1 L686.8 277.8 M739.6 325.3 L741.5 323.3 L744.1 322.2 L745.7 319.9 M739.6 325.3 L736.6 323.6 L734.7 320.7 L732.0 318.7 L729.1 317.0 M745.7 319.9 L748.3 318.7 L750.1 316.5 L752.5 315.2 M752.5 315.2 L755.6 316.8 L759.0 317.7 L762.2 319.1 M752.5 315.2 L753.3 312.0 L753.8 308.7 L754.4 305.4 L755.4 302.2 L756.0 298.9 M756.0 298.9 L759.5 298.8 M754.3 297.9 L752.4 295.7 L750.1 293.9 L748.6 291.3 M748.6 291.3 L745.7 289.2 M759.5 298.8 L761.7 301.7 L764.7 303.8 L766.8 306.8 L769.8 308.9 M719.5 274.0 L720.3 272.0 L720.5 269.9 M737.7 152.0 L740.3 152.1 L742.8 152.5 L744.2 155.5 L746.6 157.9 L748.1 160.9 L751.0 160.5 L753.9 160.3 L756.8 159.9 M732.6 154.6 L730.9 157.0 L728.4 158.5 M722.1 178.5 L722.6 182.1 M711.8 174.0 L711.6 171.1 L713.8 167.7 L714.6 163.7 L716.3 160.2 L718.1 156.6 M759.5 180.6 L756.0 179.5 L752.8 177.6 M759.5 180.6 L762.6 178.7 L765.8 176.9 L769.1 175.2 M759.5 180.6 L761.5 182.7 L764.2 184.0 L767.4 183.4 L770.5 184.1 M813.7 169.6 L814.4 172.4 M808.1 165.0 L807.7 162.2 L808.0 159.5 M814.4 172.4 L811.6 173.9 L808.7 175.2 L805.8 176.4 L804.5 178.4 L803.5 180.6 M767.6 158.0 L769.8 159.8 L771.2 162.4 M771.5 163.6 L769.9 166.8 L768.5 170.2 L769.4 172.6 L769.1 175.2 M797.5 148.3 L797.3 150.8 L800.4 151.9 L803.3 153.5 L806.0 156.2 L808.0 159.5 M718.4 253.7 L717.3 256.7 L717.4 259.9 L716.7 263.0 M718.4 253.7 L716.0 250.6 L713.4 247.8 M718.4 253.7 L722.1 253.6 L725.7 253.8 L729.4 254.4 L733.0 254.7 M713.4 247.8 L715.7 244.9 L718.6 242.5 L720.7 239.5 L723.5 237.0 M779.8 398.8 L777.5 396.2 L775.6 393.2 L773.2 390.6 L770.4 388.5 L768.8 385.2 L766.0 383.0 M779.8 398.8 L776.4 399.0 L773.1 400.5 L769.7 400.2 L766.3 400.8 L762.9 401.3 M795.4 374.5 L792.7 374.1 L790.1 373.0 L787.0 374.6 L783.6 374.9 M795.4 374.5 L796.9 371.5 L798.2 368.5 L799.4 365.4 L800.4 362.2 M783.6 374.9 L783.1 372.0 L782.2 369.1 L781.9 366.1 M781.9 366.1 L779.2 365.0 L776.2 365.1 M833.3 272.0 L831.3 269.8 L829.4 267.4 L829.8 264.6 L829.1 261.8 M385.3 418.1 L387.3 417.2 M547.5 322.6 L550.7 322.6 L553.9 322.0 L557.1 322.2 L559.3 323.8 L561.7 324.9 M453.6 353.5 L456.3 351.5 L458.1 348.7 L460.0 345.9 L462.8 344.0 M473.5 357.8 L472.4 354.4 L470.4 351.4 L470.3 348.5 L470.1 345.7 L470.6 342.8 M473.6 156.6 L470.3 156.5 L467.1 157.3 L463.8 157.7 M464.0 168.5 L460.0 169.3 L456.5 171.3 L458.0 174.9 L458.4 178.8 L457.1 181.0 L455.0 182.4 M463.8 157.7 L461.2 154.9 L459.2 151.7 L457.6 148.2 M432.5 142.0 L434.8 140.1 L437.1 138.3 L439.2 136.2 M412.1 199.9 L413.5 197.3 L413.9 194.4 L414.9 191.7 M455.0 182.4 L452.4 180.1 L450.0 177.5 L447.7 174.8 L445.1 172.4 M478.5 205.3 L476.6 208.7 M457.2 213.4 L456.6 217.1 L456.8 220.8 M443.5 239.5 L442.2 237.7 L440.7 236.0 M443.5 239.5 L441.0 241.4 L439.3 244.0 L437.3 246.4 L435.1 248.6 M461.1 279.0 L461.0 275.6 L460.0 272.5 L461.5 269.8 L462.7 267.0 M429.6 257.1 L432.9 258.0 L435.5 260.2 L438.6 261.3 L441.4 263.3 L444.5 264.5 M429.6 257.1 L431.7 254.4 L432.9 251.2 L435.1 248.6 M484.7 445.8 L488.0 445.6 L491.4 446.1 L494.7 446.0 M585.2 463.3 L582.3 464.0 L579.4 464.1 M579.4 464.1 L577.2 467.2 L574.8 470.0 L571.5 472.1 L569.1 475.0 M648.5 426.5 L649.6 429.4 L649.3 432.6 L649.3 435.7 L650.3 438.7 M675.1 405.9 L672.8 405.6 L670.4 405.4 M372.5 179.1 L368.8 178.7 L365.2 179.9 L361.5 179.9 M368.8 280.2 L366.8 278.5 M572.9 268.2 L572.1 271.9 L572.5 275.6 M400.6 169.0 L398.1 170.4 L395.3 171.4 M400.6 169.0 L399.6 166.7 L398.5 164.4 L401.1 161.8 L403.5 159.0 L406.2 156.4 M404.5 151.9 L404.8 154.4 L406.2 156.4 M381.9 205.8 L380.7 202.9 L380.3 199.9 L379.9 196.8 L377.8 195.7 L375.7 194.5 M390.4 201.1 L389.6 199.0 L389.9 196.7 L391.6 193.2 L394.0 190.1 M388.1 184.2 L390.4 181.9 L392.0 179.2 M388.1 184.2 L384.4 185.3 M388.1 184.2 L390.1 186.2 L391.7 188.5 L394.0 190.1 M361.5 179.9 L361.1 183.3 M394.0 190.1 L396.7 190.3 L399.1 191.5 L402.2 189.9 L405.7 189.4 M392.0 179.2 L395.1 180.7 L397.4 183.3 L400.2 185.4 L403.3 187.0 L405.7 189.4 M392.0 179.2 L391.7 177.1 M637.0 353.9 L638.8 352.0 L641.3 351.1 M543.8 384.5 L547.2 385.9 M636.1 338.7 L639.4 341.1 L643.2 342.3 M643.2 342.3 L642.4 345.2 L641.3 348.0 L641.3 351.1 M762.2 319.1 L765.2 317.6 L768.2 316.3 L769.4 312.7 L769.8 308.9 M747.4 271.9 L746.9 269.7 L750.1 267.4 L752.9 264.6 L751.9 261.9 L751.0 259.2 L749.2 256.9 M733.0 254.7 L733.9 257.5 L733.9 260.5 L734.1 263.4 L733.9 265.9 L732.5 268.0 M733.0 254.7 L735.6 253.0 L738.7 252.2 M738.7 252.2 L742.0 254.2 L745.5 255.8 L749.2 256.9 M738.7 252.2 L737.4 249.3 L735.4 246.8 L733.8 244.1 M783.0 255.1 L781.6 252.1 L781.4 248.7 L779.8 245.8 M779.8 245.8 L778.6 243.0 L779.0 239.7 L777.8 236.9 M779.8 245.8 L777.4 247.8 L774.9 249.7 L772.0 251.0 M783.5 230.9 L781.9 233.1 L780.0 235.2 L777.8 236.9 M783.5 230.9 L784.9 227.7 L786.1 224.4 L783.0 222.2 L779.5 220.7 L779.0 217.4 L779.5 214.1 L779.5 210.9 L779.5 207.6 M783.5 230.9 L786.1 231.2 L788.2 232.6 M722.6 182.1 L725.8 183.1 L729.0 183.8 L732.3 184.1 L735.6 184.4 L738.7 185.5 M722.6 182.1 L721.7 185.0 L720.5 187.8 M718.1 156.6 L721.4 157.8 L725.0 157.6 L728.4 158.5 M728.4 158.5 L730.0 161.6 L732.6 163.9 L733.0 167.3 L732.1 170.6 M740.1 191.4 L743.1 190.9 L746.2 190.9 L749.3 190.6 M740.1 191.4 L739.7 188.4 L738.7 185.5 M740.1 191.4 L740.8 194.5 L742.8 197.0 L743.5 200.1 M738.7 185.5 L740.1 182.1 L741.4 178.6 L740.1 176.0 L737.9 174.0 M749.3 190.6 L750.5 187.4 L751.3 184.2 L751.6 180.8 L752.8 177.6 M749.3 190.6 L749.5 193.4 L749.8 196.1 M752.8 177.6 L750.5 174.5 L747.7 171.7 L745.8 168.2 M799.7 187.4 L797.7 184.6 L794.5 182.9 L792.6 179.9 M799.7 187.4 L801.1 183.7 L803.5 180.6 M792.6 179.9 L789.2 180.4 L785.9 181.6 L782.7 182.8 L779.5 184.0 L778.1 186.4 L777.7 189.1 M792.6 179.9 L789.0 179.1 L786.3 176.5 L782.7 175.7 M725.8 218.0 L728.8 217.3 L731.0 214.9 L734.0 214.2 L736.8 213.1 M725.8 218.0 L725.0 221.8 L725.4 225.6 L725.0 229.4 M733.8 244.1 L736.3 242.2 L739.2 241.0 L741.8 242.1 L744.6 242.9 M733.8 244.1 L731.5 241.9 L729.0 240.0 L726.4 238.3 L723.5 237.0 M725.0 229.4 L724.9 233.3 L723.5 237.0 M725.0 229.4 L722.2 228.7 L719.4 229.2 L716.6 228.8 M744.6 242.9 L746.4 240.3 L748.1 237.6 L750.2 235.2 M744.6 242.9 L747.8 244.6 L750.6 247.0 L753.1 249.8 L756.5 251.3 M750.2 235.2 L748.0 232.2 L746.0 229.1 L743.7 226.1 L742.1 222.8 L740.4 219.5 M750.2 235.2 L753.0 233.5 L756.0 232.3 L758.9 230.7 L762.3 230.4 L765.1 228.8 M778.3 206.8 L779.8 203.5 L781.0 200.1 L783.0 197.1 L783.9 193.6 L780.8 191.3 L777.7 189.1 M776.9 207.1 L774.2 204.9 L771.5 202.6 L770.8 199.4 L769.3 196.5 M776.9 207.1 L773.9 209.0 L771.8 211.8 L768.9 213.8 L766.1 215.9 L763.4 215.8 L760.7 216.4 M728.3 380.3 L728.8 384.3 L729.8 388.1 L730.4 392.1 L731.7 395.9 M728.3 380.3 L732.0 379.2 L735.2 377.0 M762.9 401.3 L762.6 398.5 L761.7 395.8 L762.8 392.6 L764.1 389.5 L764.4 386.0 L766.0 383.0 M766.0 383.0 L765.4 380.7 M776.2 365.1 L772.8 364.9 L769.5 364.5 L766.4 362.7 L763.0 362.8 L761.8 360.4 L760.3 358.2 M776.2 365.1 L775.0 368.0 L775.0 371.2 L773.9 374.1 L771.0 376.3 L768.4 378.7 L765.4 380.7 M511.4 401.3 L508.6 400.8 L505.6 401.7 L502.8 401.0 M527.6 432.6 L530.5 435.2 L532.4 438.6 M532.4 438.6 L529.5 439.3 L527.0 441.1 L524.1 441.9 L522.3 444.7 L520.0 447.2 L517.5 447.5 M435.1 248.6 L432.1 246.4 L428.8 244.8 L425.9 242.4 M566.6 481.3 L567.6 478.0 L569.1 475.0 M364.7 270.4 L364.3 267.5 L362.8 264.9 L361.8 262.2 M361.1 183.3 L361.5 186.4 L362.0 189.5 L363.3 192.4 M361.1 183.3 L358.0 185.3 L355.1 187.8 L352.0 189.8 L349.0 192.1 M405.7 189.4 L408.7 188.6 L411.8 188.5 M662.9 435.4 L660.9 438.3 L658.9 441.1 M658.9 441.1 L656.1 439.9 L653.1 439.6 L650.3 438.7 M749.2 256.9 L751.8 255.3 L754.0 253.1 L756.5 251.3 M756.5 251.3 L759.2 250.5 L762.0 249.9 L764.5 248.5 M777.8 236.9 L774.6 234.7 L772.2 231.6 L768.9 229.6 L766.0 227.1 M765.1 228.8 L765.5 232.7 L766.0 236.5 L766.4 240.4 M766.0 227.1 L763.8 224.4 L761.4 221.9 L760.7 219.2 L760.7 216.4 M769.1 175.2 L771.4 176.1 L773.8 175.6 M782.7 175.7 L784.3 173.8 L784.9 171.3 M782.7 175.7 L779.7 175.6 L776.8 176.1 L773.8 175.6 M789.8 166.8 L791.4 168.4 M773.8 175.6 L772.2 178.3 L771.3 181.1 L770.5 184.1 M777.7 189.1 L774.8 188.3 L771.9 188.7 M770.5 184.1 L771.8 186.2 L771.9 188.7 M771.9 188.7 L771.2 191.4 L769.9 193.8 L769.3 196.5 M731.7 395.9 L734.2 397.6 L737.2 398.2 M737.2 398.2 L738.3 394.9 L740.1 391.9 L742.5 389.3 L743.6 385.9 L745.4 383.0 L746.7 379.8 M746.7 379.8 L745.9 377.9 L744.6 376.2 M746.7 379.8 L749.5 381.3 L752.5 382.6 L755.7 382.1 L758.9 381.1 L762.2 381.3 L765.4 380.7 M744.6 376.2 L741.5 377.1 L738.3 376.8 L735.2 377.0 M472.1 340.5 L470.6 342.8 M470.6 342.8 L466.7 343.5 L462.8 344.0 M448.6 257.3 L447.7 260.0 L446.1 262.2 L444.5 264.5 M448.6 257.3 L451.4 255.6 L454.4 254.6 L457.5 253.6 M444.5 264.5 L445.7 266.2 L445.7 268.4 M457.5 253.6 L459.4 256.7 L460.1 260.3 L460.9 263.8 L462.7 267.0 M411.8 188.5 L413.3 190.1 L414.9 191.7 M414.9 191.7 L417.5 192.0 L419.8 193.3 M569.1 475.0 L567.6 472.9 L565.3 471.7 L562.2 471.7 L559.1 471.2 M769.3 196.5 L765.4 197.2 L761.6 198.4 L758.5 198.4 L755.7 197.3 L752.7 196.7 L749.8 196.1 M749.8 196.1 L747.7 199.3 M760.7 216.4 L759.1 213.8 L756.4 212.1 L754.5 209.7 L752.4 207.6 M740.7 205.0 L742.3 202.7 L743.5 200.1 M740.7 205.0 L739.0 207.5 L738.0 210.4 L736.8 213.1 M743.5 200.1 L745.5 199.2 L747.7 199.3 M736.8 213.1 L738.8 216.2 L740.4 219.5 M747.7 199.3 L749.5 201.9 L750.9 204.8 L752.4 207.6 M752.4 207.6 L749.9 209.9 L747.3 212.0 L745.4 214.9 L742.4 216.7 L740.4 219.5 M427.1 205.8 L427.4 209.2" fill="none" stroke="#16230f" stroke-width="1" shape-rendering="crispEdges"/>
<path d="M646.5 280.3 L655.3 279.7 L659.0 290.3 L676.7 300.4 L683.0 304.1 L685.5 296.6 L690.5 294.1 L693.0 300.4 L691.7 307.9 L706.8 309.1 L713.1 305.4 L730.7 309.9 L736.5 310.9 L733.2 316.7 L725.6 324.2 L716.9 333.0 L730.7 344.3 L737.0 354.4 L733.2 358.1 L726.9 355.6 L725.6 351.9 L706.8 346.8 L686.7 355.6 L671.6 355.1 L674.1 348.1 L669.1 339.3 L661.6 341.8 L660.3 346.8 L642.7 350.6 L641.5 356.9 L615.1 356.9 L612.6 351.9 L598.8 346.8 L607.6 335.5 L610.0 333.0 L626.4 336.8 L630.2 324.2 L628.9 312.9 L615.1 312.9 L618.9 300.4 L628.9 297.8 L628.9 310.4 L632.7 305.4 L649.0 302.9 L646.5 290.3Z M562.3 354.4 L578.7 361.9 L573.6 369.5 L553.5 368.2Z M739.5 293.3 L752.0 295.3 L753.3 299.1 L745.7 302.9 L740.7 300.4Z M804.9 253.9 L813.7 248.8 L823.7 248.1 L830.0 258.9 L823.7 265.2 L814.9 265.2 L806.1 258.9Z M856.4 315.4 L864.0 307.9 L871.5 304.1 L885.3 309.1 L881.5 321.7 L857.7 320.5Z M737.0 354.4 L733.2 358.1 L734.4 370.7 L732.0 378.2 L734.4 390.0 L730.7 400.0 L725.6 415.1 L716.9 430.2 L706.8 435.2 L706.8 437.7 L710.6 435.2 L724.4 436.5 L739.5 426.4 L752.0 407.6 L762.1 401.3 L765.9 400.0 L764.6 408.8 L772.1 413.9 L767.2 421.4 L783.5 411.4 L788.6 418.9 L797.4 422.7 L798.6 421.4 L807.4 418.9 L814.9 419.6 L814.9 427.7 L818.7 430.2 L831.3 427.7 L837.6 432.7 L843.8 435.2 L856.4 428.9 L862.7 422.7 L866.5 415.1 L869.0 411.4 L861.4 407.6 L864.0 402.6 L862.7 393.8 L853.9 395.0 L852.6 390.0 L850.0 394.0 L835.0 394.0 L833.8 373.2 L825.0 355.6 L823.7 353.1 L802.4 343.0 L787.3 345.6 L786.0 350.0 L764.7 350.6 L757.2 343.0Z" fill="#d3844f" stroke="#2a2418" stroke-width="1" shape-rendering="crispEdges"/>
<path d="M615.1 312.9 L628.9 312.9 L630.2 324.2 L626.4 336.8 L610.0 333.0 L612.6 322.9Z" fill="#90e168" stroke="#16230f" stroke-width="1" shape-rendering="crispEdges"/>
<path d="M153.3 112.7 L156.4 108.3 L160.2 112.7 L172.7 108.3 L185.9 108.3 L186.5 117.0 L188.4 122.1 L177.1 122.1 L175.9 126.5 L177.1 134.0 L175.9 137.8 L171.5 132.7 L165.2 134.6 L163.9 127.7 L163.9 119.6 L158.9 115.2Z M147.0 125.2 L150.1 120.8 L163.9 120.2 L164.6 130.2 L163.3 134.0 L158.9 137.8 L155.1 135.2 L147.0 134.0Z M216.6 87.0 L219.8 89.4 L219.2 95.1 L220.4 103.9 L223.6 108.3 L220.4 112.7 L225.4 117.7 L233.0 118.3 L236.5 122.8 L240.9 129.0 L238.4 136.6 L239.6 142.9 L233.4 145.4 L225.8 142.9 L220.8 139.1 L217.0 145.4 L208.2 144.1 L204.5 147.9 L196.9 142.9 L200.3 135.2 L210.4 124.6 L216.6 123.3 L213.5 107.6 L215.4 97.6Z M189.4 163.0 L197.0 149.1 L205.7 150.4 L204.5 166.7 L197.0 170.5 L190.7 168.0Z M258.5 155.4 L263.5 144.1 L278.6 147.9 L277.3 157.9 L266.0 160.5Z M274.8 142.9 L281.1 131.6 L288.6 140.4 L288.6 147.9 L278.6 147.9Z M288.6 140.4 L303.0 139.5 L314.3 140.4 L315.6 150.4 L303.0 151.7 L290.0 150.0Z M239.6 190.6 L245.9 181.8 L253.5 180.6 L254.7 193.1 L245.9 195.6Z M268.5 161.7 L274.8 160.5 L273.6 175.5 L267.3 188.1 L264.8 183.1 L269.8 173.0Z M293.7 172.0 L300.0 168.0 L309.0 169.2 L309.0 175.5 L300.0 183.0 L294.0 180.0Z M296.2 193.1 L303.0 192.0 L304.0 205.7 L297.0 205.0Z M148.8 203.8 L153.8 208.8 L160.1 219.5 L168.9 221.4 L179.0 226.4 L185.2 230.8 L196.5 223.9 L198.4 218.2 L203.4 213.8 L204.1 212.0 L200.3 208.8 L195.3 205.1 L192.8 201.3 L189.0 196.3 L182.7 203.2 L167.7 206.9 L161.4 203.8Z M288.6 230.0 L303.0 228.0 L304.0 241.0 L296.0 243.0 L289.0 240.0Z M406.0 130.3 L426.0 130.8 L432.4 136.6 L425.0 145.4 L404.8 145.4Z M426.0 155.4 L443.7 151.0 L446.7 156.7 L440.0 163.0 L431.0 159.2Z M339.4 150.4 L345.7 142.4 L353.3 147.9 L350.7 159.2 L343.2 158.0Z M378.4 158.0 L393.5 154.2 L394.7 165.5 L392.2 169.2 L392.2 175.0 L380.9 173.0 L364.6 165.0 L369.6 161.0 L378.4 163.0Z M323.0 207.7 L340.7 202.0 L344.5 215.7 L337.0 219.5 L328.0 213.2Z M344.5 219.5 L362.0 212.7 L363.3 220.8 L361.0 232.0 L356.0 242.0 L349.0 238.0 L347.0 230.0Z M701.8 189.3 L713.1 185.6 L719.4 200.7 L725.6 208.2 L720.6 210.7 L711.8 204.4 L705.5 198.1Z M752.0 169.2 L763.3 162.5 L773.4 163.5 L767.1 173.0 L759.6 180.6 L755.8 175.5Z M815.0 131.5 L822.0 123.2 L836.3 126.5 L832.5 139.0 L823.7 149.1 L816.2 146.6 L818.7 137.8Z M365.8 270.2 L377.1 269.7 L382.9 275.2 L379.6 279.7 L365.8 277.2Z M428.6 298.3 L443.7 292.8 L445.7 296.6 L442.4 304.1 L433.7 301.6Z M445.0 318.0 L453.8 307.9 L465.0 306.6 L467.6 311.7 L460.0 316.7 L455.0 323.0Z M461.3 321.7 L466.3 329.2 L470.0 335.5 L467.6 343.0 L457.5 344.3 L451.2 336.8 L457.5 331.8Z M443.7 334.3 L451.2 338.0 L457.5 344.3 L462.5 348.1 L461.3 356.9 L440.0 355.6 L441.2 345.6Z M393.0 335.5 L402.2 326.7 L409.8 334.3 L408.5 339.3 L397.2 341.8Z M516.6 296.6 L524.1 294.1 L543.0 297.8 L538.0 306.6 L529.1 302.9Z M529.1 373.2 L539.2 368.2 L546.0 373.2 L547.0 383.3 L534.2 388.3 L530.4 380.8Z M377.1 401.3 L383.4 400.0 L390.9 413.9 L398.5 417.6 L394.7 421.4 L383.4 420.2 L380.9 412.6Z M429.9 396.3 L438.7 389.0 L446.2 392.5 L452.5 406.3 L436.2 413.9 L431.1 408.8Z M642.7 275.2 L647.8 280.3 L646.5 290.3 L649.0 302.9 L632.7 305.4 L628.9 310.4 L628.9 297.8 L637.7 284.0Z M548.5 340.6 L557.3 333.0 L569.9 334.3 L585.0 353.1 L578.7 360.7 L562.3 354.4 L556.0 350.6Z M713.1 304.1 L729.4 294.1 L739.5 292.8 L741.5 302.9 L735.7 310.4 L730.7 309.9 L721.9 306.6Z M764.7 242.6 L791.0 233.0 L794.3 240.0 L791.0 253.9 L777.3 261.4 L772.2 251.4Z M835.0 240.0 L842.6 230.0 L857.7 230.0 L865.2 237.5 L877.8 238.8 L879.0 245.0 L871.5 247.6 L861.4 238.8 L855.1 245.0 L835.0 251.4Z M864.0 267.7 L877.8 261.4 L879.0 277.7 L875.2 282.8 L864.0 279.0Z M875.2 289.0 L887.8 289.0 L899.1 294.1 L895.4 301.6 L885.3 302.9 L876.5 296.6Z M817.5 266.4 L830.0 261.4 L843.8 261.4 L840.1 272.7 L852.6 280.3 L851.4 290.3 L836.3 289.8 L821.2 287.3 L812.4 281.5 L816.2 272.7Z M779.8 310.4 L789.8 302.9 L794.8 310.4 L804.9 312.9 L803.6 320.5 L789.8 323.0 L786.0 315.4Z M757.2 341.8 L782.3 318.0 L787.3 324.2 L789.8 330.5 L799.9 333.0 L807.4 328.0 L822.5 334.3 L826.2 345.6 L823.7 353.1 L802.4 343.0 L787.3 345.6 L786.0 350.0 L764.7 350.6Z M810.0 326.7 L831.3 315.4 L847.6 326.7 L869.0 346.8 L869.0 354.4 L847.6 353.1 L845.1 373.2 L848.0 390.0 L850.0 394.0 L835.0 394.0 L833.8 373.2 L825.0 355.6 L823.7 353.1 L826.2 345.6 L822.5 334.3Z M181.9 461.6 L218.3 452.8 L220.8 456.6 L245.9 454.1 L247.2 467.9 L251.0 480.5 L251.0 491.8 L266.0 495.5 L258.5 506.8 L277.3 508.1 L273.6 520.7 L268.5 526.9 L262.0 536.0 L256.0 545.0 L251.0 548.0 L246.5 541.0 L247.2 535.7 L244.7 538.2 L235.9 540.8 L225.8 542.0 L218.3 545.8 L210.8 540.8 L200.7 535.7 L188.1 529.4 L181.9 520.7 L173.0 523.2 L169.3 515.6 L171.8 506.8 L180.6 508.1 L191.9 501.8 L188.1 485.5 L183.1 483.0 L185.6 473.0Z M642.7 350.6 L660.3 346.8 L661.6 341.8 L669.1 339.3 L674.1 348.1 L671.6 355.1 L686.7 355.6 L706.8 346.8 L725.6 351.9 L726.9 355.6 L733.2 358.1 L734.4 370.7 L732.0 378.2 L734.4 390.0 L730.7 400.0 L725.6 415.1 L716.9 430.2 L706.8 435.2 L706.8 437.7 L705.5 444.0 L701.3 456.6 L700.5 460.4 L695.9 455.3 L679.5 455.3 L678.4 441.0 L666.3 439.9 L665.2 431.1 L660.8 426.7 L668.5 417.9 L667.4 402.5 L656.4 399.2 L655.3 393.7 L646.5 386.0 L650.9 381.6 L643.2 374.0 L642.0 357.5Z M739.5 426.4 L752.0 407.6 L762.1 401.3 L765.9 400.0 L764.6 408.8 L772.1 413.9 L767.1 422.7 L768.4 434.0 L764.6 442.8 L752.1 445.8 L748.4 442.8 L747.1 431.5Z" fill="#fff" stroke="#1a1f16" stroke-width="1" shape-rendering="crispEdges"/>
<path d="M713.5 377.3 L713.0 373.6 L711.6 370.0 L710.9 366.3 L712.6 362.8 L715.2 359.9 L716.8 356.4 L720.0 355.3 L723.4 355.2 L726.7 354.6 L730.0 356.7 L733.3 358.6 L733.4 361.6 L734.3 364.6 L734.0 367.7 L734.4 370.7 L732.2 371.8 L730.0 372.9 L727.0 372.5 L724.0 373.5 L720.9 372.4 L717.9 372.9 L716.0 375.4 L713.5 377.3Z" fill="none" stroke="#2b4a1e" stroke-width="1" shape-rendering="crispEdges"/>
<path d="M822.5 334.3 L835.0 333.0 L847.6 326.7 M831.3 315.4 L835.0 333.0 M833.8 373.2 L845.1 373.2 M799.9 333.0 L802.4 343.0 M789.8 330.5 L786.0 340.6 L787.3 345.6 M830.0 276.5 L832.5 289.0 M830.0 276.5 L840.1 277.7 L852.6 280.3 M646.5 290.3 L649.0 302.9 L646.5 318.0 L655.3 326.7 L661.6 320.5 L683.0 315.4 L691.7 307.9 M621.0 313.0 L619.0 334.5 M614.0 322.0 L629.5 324.0" fill="none" stroke="#1d2a17" stroke-width="1" shape-rendering="crispEdges"/>
<path d="M320.7 124.5 L319.4 128.1 L319.4 132.0 L317.0 134.4 L315.4 137.4 L313.2 140.0 L314.1 143.1 L314.0 146.3 L314.5 149.4 L311.4 152.0 L307.7 154.0 L305.1 157.1 L301.6 159.4 L298.4 161.8 L295.8 164.5 L292.9 166.9 L290.9 170.1 L288.4 172.9 L284.3 173.7 L280.1 173.3 L276.0 174.2 L275.6 177.5 L276.1 180.8 L275.5 184.1 L273.6 186.6 L270.0 188.5 L267.4 191.5 L268.2 195.0 L270.0 197.9 L271.4 201.1 L273.6 203.9 L277.1 205.3 L280.0 207.6 L283.5 208.9 L287.8 208.8 L291.8 207.6 L295.9 206.4 L298.4 210.1 L300.9 213.4 L303.9 216.3 L305.8 220.1 L310.0 221.2 L314.0 222.8 L318.2 223.8 L319.7 226.9 L322.3 229.0 M384.3 131.5 L384.6 136.0 L382.9 140.2 L383.1 144.7 L381.0 148.7 L380.2 153.1 L378.1 157.1 L378.7 160.2 L379.3 163.3 L383.5 164.4 L387.5 166.0 L391.7 167.0 L391.8 170.8 L393.0 174.5 L389.1 174.4 L385.3 173.7 L381.8 172.0 L377.8 174.0 L374.4 177.0 L377.0 179.4 L379.0 182.3 L381.8 184.4 L380.0 187.5 L376.9 189.4 L374.1 191.5 L371.9 194.3 L368.2 195.2 L364.3 194.3 L360.7 195.5 L360.3 199.0 L362.2 202.3 L362.5 205.7 L362.0 209.2 L362.3 212.5 L362.0 215.9 L363.2 219.1 L361.8 222.5 L360.4 225.9 L358.3 229.0 L354.6 230.4 L351.1 232.3 L347.3 233.2 L343.5 234.1 L339.7 235.2 L336.2 236.8 L332.9 238.8 L329.4 240.3 L325.9 241.9 L322.2 243.0 L319.8 245.2 L317.3 247.3 L314.6 245.6 L311.8 244.0 L309.9 241.4 L306.7 240.0 L303.3 239.6 L300.0 238.9 L298.1 242.8 L297.2 247.2 L295.0 251.0 M317.3 247.3 L319.2 250.4 L321.7 252.8 L325.3 254.2 L327.2 257.2 L329.7 259.9 L330.4 263.7 L332.4 266.7 L334.6 269.6 L332.5 271.9 L330.9 274.6 L333.9 275.5 L336.6 277.2 L339.6 278.3 L342.8 280.5 L346.1 282.6 L349.5 284.5 L353.0 282.1 L356.9 280.7 L360.6 278.8 L364.4 277.1 L366.0 274.8 L366.9 272.1 M300.0 216.6 L303.9 217.4 L307.4 219.2 L311.2 220.1 L314.9 221.6 L317.2 224.2 L319.7 226.7 L322.3 229.0 L323.0 232.6 L322.2 236.2 L323.1 239.6 L322.2 243.0 M362.0 209.2 L366.0 208.7 L369.9 208.5 L373.9 209.0 L377.8 208.6 L381.8 209.2 L383.9 206.9 L386.7 205.7 L389.3 204.2 L392.7 204.3 L396.0 203.4 L399.2 202.2 L403.1 202.8 L407.1 202.0 L411.1 202.7 L415.1 202.4 L419.0 203.0 L422.3 202.4 L425.6 202.3 L428.9 203.0 L429.0 199.8 L430.2 196.8 L426.0 195.4 L421.5 195.5 L425.0 192.8 L428.1 189.7 L431.2 186.6 L433.9 183.1 L435.9 179.4 L438.6 176.1 L441.5 173.0 L443.8 169.5 L445.4 166.3 L446.9 163.1 L447.5 159.6 L448.5 155.3 L447.4 150.8 L448.7 146.6 L448.8 142.2 L447.8 139.2 L446.3 136.5 M381.8 209.2 L382.8 212.6 L383.9 216.0 L385.5 219.1 L388.9 222.0 L392.5 224.7 L396.7 226.5 L396.9 230.8 L397.9 234.9 L397.4 238.9 L399.2 242.8 L398.7 246.8 L398.1 250.9 L399.1 254.8 L398.8 258.8 L398.4 262.9 L399.8 266.9 L399.1 270.9 L399.2 274.0 L399.1 277.1 L401.9 279.2 L404.1 282.0 L406.5 285.0 L408.9 287.9 L411.5 290.7 L409.8 294.9 L407.0 298.4 L404.1 301.9 L401.5 304.4 L398.0 305.6 L395.4 308.0 L392.9 310.5 L394.1 312.9 L394.1 315.5 L396.4 317.2 L399.1 318.0 L401.0 321.5 L401.6 325.4 M381.7 278.3 L386.1 278.5 L390.4 278.3 L394.7 277.4 L399.1 277.1 M433.9 183.1 L438.1 183.8 L442.3 184.6 L446.2 186.5 L450.6 186.5 L454.6 188.3 L458.7 189.3 L461.9 191.3 L465.4 193.0 L468.0 195.8 L471.1 198.0 L474.9 199.1 L478.0 201.6 L481.7 202.9 L484.7 205.5 L484.3 202.0 L485.2 198.6 L486.3 195.3 L486.0 191.8 L487.0 188.2 L488.8 185.0 L490.9 181.9 L494.6 182.7 L498.4 183.1 L502.3 181.6 L505.4 178.8 L508.7 176.3 L512.7 174.9 L515.7 172.0 L511.9 170.2 L509.5 166.5 L505.8 164.5 M458.7 189.3 L460.8 185.3 L464.3 182.4 L465.6 177.8 L468.6 174.5 L471.4 172.3 L473.6 169.5 L469.6 168.6 L466.0 166.8 L462.8 164.0 L458.7 163.3 L454.8 162.6 L451.3 160.6 L447.5 159.6 M568.5 180.7 L568.1 184.0 L567.6 187.3 L564.0 188.8 L560.2 189.8 L558.8 192.9 L555.8 194.9 L554.4 198.0 L551.5 200.4 L547.8 201.3 L545.7 203.8 L543.7 206.3 L542.7 209.5 L543.9 213.0 L542.9 216.2 L540.4 218.6 L537.8 221.0 L535.5 223.6 L534.0 226.6 L531.3 228.6 L533.1 230.9 L534.6 233.5 L537.7 235.5 L541.2 236.8 L544.5 238.5 L545.8 241.2 L547.8 243.4 L551.5 245.4 L554.4 248.4 L558.3 248.2 L562.2 248.2 L566.0 249.2 L568.7 247.8 L571.8 247.1 L574.2 245.1 L575.2 243.1 L575.9 240.9 L575.5 237.9 L574.2 235.2 L576.6 234.2 L579.2 233.5 L582.5 233.9 L585.8 232.8 L589.1 233.5 L592.6 232.3 L596.3 232.1 L599.8 231.0 L597.8 234.7 L596.6 238.8 L594.8 242.6 L596.1 245.8 L596.3 249.1 L596.5 252.5 L599.0 255.8 L602.7 255.1 L606.4 255.0 L610.1 255.8 L613.8 255.0 L616.8 255.9 L619.0 258.4 L622.1 259.1 L623.1 262.2 L626.1 264.2 L627.0 267.3 L631.4 267.7 L635.8 268.4 L640.2 269.0 L644.1 271.4 L646.8 275.0 M534.6 275.0 L534.2 271.9 L533.4 268.8 L533.0 265.7 L536.3 266.1 L539.6 265.7 L542.9 266.5 L545.5 264.1 L547.8 261.3 L549.5 258.2 L553.9 257.9 L558.2 256.5 L562.7 256.6 L566.8 256.4 L570.9 255.8 L575.1 255.8 L577.5 257.5 L579.2 259.9 L582.7 261.0 L586.3 261.3 L589.9 260.7 L592.9 258.7 L596.5 258.2 L599.0 255.8 M531.3 228.6 L527.5 227.8 L523.8 226.8 L520.0 226.0 L516.3 227.3 L513.4 230.1 L510.0 232.0 M676.2 161.5 L675.6 164.4 L675.0 167.3 L677.8 169.2 L680.7 170.8 L683.7 172.2 L686.7 174.7 L689.3 177.4 L691.1 180.9 L693.6 177.2 L697.3 177.0 L701.0 176.8 L704.7 177.8 L708.4 177.2 L712.2 177.1 L715.9 176.5 L719.6 176.1 L723.4 175.8 L727.0 174.5 L730.8 174.7 L733.8 172.8 L736.7 170.5 L740.5 169.8 L743.2 167.3 L740.8 164.4 L740.4 160.4 L738.2 157.4 L735.3 154.9 L733.7 151.5 L735.0 149.2 L735.7 146.6 L739.3 145.6 L743.0 145.0 L746.8 145.0 L750.4 143.7 L753.4 145.0 L755.3 147.6 L759.2 146.8 L763.2 148.3 L767.1 147.6 L768.1 150.1 L769.1 152.5 L767.3 155.3 L763.9 156.5 L762.2 159.4 L759.8 160.2 L758.3 162.3 M691.1 180.9 L689.4 184.1 L686.7 186.5 L684.9 189.6 L684.6 193.7 L684.3 197.9 L684.9 202.0 L687.5 204.8 L689.6 207.9 L691.9 210.9 L693.6 214.4 L697.0 216.5 L699.5 219.7 L703.3 221.3 L706.0 224.3 L710.3 225.6 L714.6 226.8 L712.2 230.2 L709.3 233.2 L706.4 236.2 L703.5 239.2 L703.3 243.4 L704.1 247.5 L704.7 251.6 L702.1 254.7 L698.5 256.5 L696.2 258.1 L693.6 259.0 L692.9 261.8 L691.1 264.0 L688.7 267.1 L686.9 270.5 L685.1 273.9 L683.7 277.6 L679.5 277.2 L675.4 277.6 L671.3 277.4 L667.1 277.9 L663.1 279.1 L658.9 278.9 L655.6 277.8 L652.2 278.1 L648.9 277.6 L646.8 275.0 M698.5 256.5 L701.5 258.5 L703.5 261.5 L707.1 263.1 L710.9 264.3 L714.4 266.0 L718.4 266.5 L721.8 266.9 L725.1 267.7 L728.3 268.9 L729.2 272.2 L730.8 275.1 L734.0 276.6 L737.5 277.3 L740.7 278.9 L742.3 282.7 L744.4 286.3 L742.1 289.7 L739.5 292.8 M733.7 151.5 L735.5 155.0 L738.6 157.4 L741.8 160.3 L743.6 164.3 L741.3 166.5 L739.6 169.2 L737.4 171.7 L733.9 172.4 L731.8 175.1 M754.3 99.5 L755.0 103.9 L755.3 108.4 L753.2 112.2 L751.0 116.0 L752.5 114.1 L754.3 112.3 L758.0 111.2 L761.7 110.2 L765.5 109.6 L769.1 108.4 L773.0 106.4 L772.1 109.8 L770.2 112.8 L769.1 116.2 L773.3 116.9 L776.9 119.2 L778.5 115.6 L780.8 112.3 L782.6 110.1 L784.8 108.4 L786.4 111.1 L786.3 114.4 L787.7 117.2 L790.1 114.0 L793.4 111.7 L795.6 108.4 L794.1 111.5 L794.7 115.0 L793.6 118.2 L793.9 121.4 L795.0 124.2 L796.5 127.0 L794.8 130.3 L793.6 133.9 L795.8 137.5 L796.5 141.7 L798.5 145.7 L801.8 146.3 L805.0 147.2 L808.3 147.6 L810.5 149.3 L812.2 151.5 L811.2 154.2 L809.3 156.5 L812.0 158.7 L814.2 161.4 L813.6 164.4 L812.2 167.2 L808.7 167.2 L805.4 168.5 L801.9 168.8 L798.5 169.2 L795.2 170.0 L791.7 170.4 L788.7 172.2 L786.9 169.9 L785.8 167.2 L787.6 163.8 L790.7 161.4 L789.3 158.8 L786.7 157.4 L783.4 156.8 L780.2 156.9 L776.9 157.4 L775.4 159.8 L774.0 162.3 M812.2 151.5 L816.5 151.2 L820.8 151.5 L825.0 150.6 L826.0 153.5 L828.4 156.6 L832.1 158.1 L834.5 161.2 L837.8 163.3 L840.7 163.3 M727.0 267.7 L730.3 269.2 L732.9 271.9 L736.2 273.5 L739.4 275.2 L742.1 277.7 L746.1 275.7 L750.1 273.7 L754.1 271.7 L758.1 269.6 L762.2 267.7 L766.2 265.6 L770.4 264.0 L774.7 262.7 L778.1 261.2 L781.1 258.9 L784.7 257.7 L788.1 256.1 L791.1 253.9 L792.4 250.5 L793.1 247.1 L792.5 243.4 L793.6 240.0 L791.9 236.7 L791.0 233.0 M774.7 262.7 L773.0 258.5 L771.2 254.4 L768.7 250.6 L766.7 246.6 L764.7 242.6 M791.1 253.9 L794.6 255.8 L798.5 256.7 L802.4 257.6 L804.9 253.9 M830.0 258.9 L831.2 256.1 L833.6 254.1 L835.0 251.4 L835.2 247.6 L835.0 243.8 L835.0 240.0 L837.1 236.4 L840.5 233.7 L842.6 230.0 L845.5 227.2 L847.6 223.8 L850.0 220.7 M386.7 225.0 L389.0 228.1 L392.7 229.5 L395.7 231.8 L397.9 234.9 M399.1 270.9 L403.5 270.9 L407.7 270.2 L411.9 269.4 L415.9 267.2 L420.2 267.2 L422.0 266.0 L421.5 270.2 L421.4 274.4 L420.9 278.6 L421.2 282.9 L420.2 287.0 L422.3 284.7 L425.1 283.3 L428.5 280.7 L431.7 277.9 L435.3 275.8 L438.8 273.4 L442.7 271.3 L446.8 270.2 L451.2 269.6 L452.1 273.2 L453.8 276.4 L454.9 279.9 L456.1 283.3 L459.7 282.7 L463.0 281.1 L466.3 279.5 L470.2 279.8 L473.5 278.3 L473.7 282.1 L474.0 285.8 L474.7 289.5 L477.0 292.9 L479.0 296.6 L482.2 299.4 L484.2 301.7 L485.9 304.3 L487.0 300.7 L486.9 296.9 L487.9 293.2 L488.4 289.5 L492.6 289.4 L496.6 288.3 L500.8 288.2 L504.0 288.7 L506.6 290.6 L509.4 291.9 L509.3 295.9 L509.8 299.9 L510.3 303.8 L510.2 307.8 L510.7 311.8 L513.0 314.6 L514.9 317.7 L516.5 320.9 L518.1 324.2 L521.9 326.4 L526.2 327.0 L530.0 329.1 L533.1 326.7 L536.4 324.9 L539.7 323.0 L543.5 322.0 M411.5 290.7 L414.5 289.8 L417.5 288.8 L420.2 287.0 M396.6 341.5 L397.3 345.6 L396.7 349.8 L397.9 353.9 L395.8 356.7 L395.3 360.3 L392.7 362.9 L391.7 366.3 L391.1 370.5 L391.9 374.7 L389.9 378.8 L390.4 383.0 L388.4 385.6 L386.0 387.9 L383.4 390.0 L381.9 393.4 L379.9 396.6 L378.4 400.0 M397.9 353.9 L401.6 354.8 L405.4 354.4 L409.1 354.9 L412.8 356.1 L416.5 356.4 L417.2 352.2 L419.9 348.7 L421.4 344.7 L421.6 340.3 L423.9 336.6 L428.3 336.3 L432.6 335.4 L437.0 335.0 L441.3 334.1 M461.1 320.5 L464.7 322.6 L468.5 324.2 L469.4 327.2 L470.2 330.3 L472.2 332.9 L474.7 329.6 L477.4 326.5 L480.9 324.2 L483.1 326.0 L485.9 326.7 L489.1 325.6 L492.4 324.8 L495.8 324.2 L499.4 325.7 L503.4 325.5 L506.8 327.7 L510.7 327.9 L514.4 326.0 L518.1 324.2 M533.0 265.7 L535.6 268.9 L537.6 272.4 L538.8 276.4 L541.0 279.8 L541.9 284.1 L542.3 288.5 L542.0 292.8 L542.2 297.2 M538.0 306.6 L541.0 309.3 L544.3 311.7 L547.2 314.5 L544.8 318.0 L543.5 322.0 L546.3 325.1 L548.4 328.6 L550.9 331.9 M574.5 257.5 L577.3 260.6 L580.5 263.4 L583.8 266.2 L585.8 270.1 L589.3 272.6 L591.8 276.1 L594.4 276.3 L596.8 277.3 L600.4 275.1 L604.4 273.4 L608.4 271.9 L611.6 269.0 L615.8 267.7 L619.1 264.9 L622.8 266.8 L627.1 266.5 L631.2 267.2 L635.1 268.3 L638.9 269.9 L641.2 272.1 L644.1 273.5 L646.8 275.0 M643.9 273.6 L642.7 277.7 L640.6 281.4 L638.1 284.9 L635.7 288.3 L634.0 292.2 L632.9 296.2 L631.3 300.0 L629.0 303.4 L626.2 305.9 L622.5 307.3 L620.1 310.4 L616.6 312.0 L615.0 315.6 L613.9 319.3 L613.5 323.4 L611.6 326.8 L610.5 330.6 L609.2 334.3 L606.5 337.5 L602.9 339.9 L601.3 344.1 L598.0 346.7 M585.0 353.1 L587.5 356.4 L589.2 360.2 L590.6 364.1 M575.7 367.8 L579.7 367.3 L583.8 366.8 L587.9 366.5 L591.8 365.3 L595.8 365.8 L599.5 367.3 L603.3 368.6 L607.2 369.6 L611.4 369.2 L615.1 370.9 L619.1 371.5 L619.3 367.8 L619.1 364.1 L619.9 360.4 L619.1 356.7 M575.7 367.8 L572.0 369.6 L568.2 371.4 L564.3 372.8 L560.5 374.6 L556.8 376.5 L553.4 379.0 L552.0 382.8 L549.3 386.1 L548.4 390.1 L545.0 390.6 L541.6 391.1 L538.3 391.8 L534.8 391.4 L530.8 391.9 L527.0 393.0 L523.0 393.3 L518.9 393.2 L515.0 393.9 L514.1 398.0 L513.7 402.1 L513.7 406.3 M643.9 354.2 L642.0 357.5 L642.2 361.6 L642.2 365.8 L642.5 369.9 L643.2 374.0 L645.3 377.0 L648.6 378.8 L650.9 381.6 L648.1 383.2 L646.5 386.0 L649.4 388.7 L652.1 391.5 L655.3 393.7 L655.4 396.5 L656.4 399.2 L659.8 401.0 L663.9 401.0 L667.4 402.5 L667.9 406.3 L667.6 410.2 L668.1 414.1 L668.5 417.9 L665.6 420.5 L663.6 423.9 L660.8 426.7 L662.4 429.5 L665.2 431.1 L666.6 435.4 L666.3 439.9 L670.3 440.7 L674.4 440.4 L678.4 441.0 L679.5 444.5 L678.6 448.2 L680.0 451.7 L679.5 455.3 L683.6 454.8 L687.7 455.0 L691.8 454.7 L695.9 455.3 L698.6 457.4 L700.5 460.4 M303.0 401.3 L306.2 398.9 L310.1 397.8 L313.0 395.0 L315.6 398.7 L319.3 401.3 L317.3 405.3 L316.3 409.6 L315.6 413.9 L320.1 413.9 L324.3 411.8 L328.8 412.3 L333.2 411.4 L335.7 407.9 L339.2 405.4 L341.6 401.9 L344.5 398.8 L346.1 402.6 L347.8 406.4 L349.5 410.1 L349.8 413.5 L349.7 416.9 L350.7 420.2 L354.8 421.5 L359.1 420.7 L363.3 421.4 L367.3 420.3 L371.1 418.9 L374.6 416.5 L378.4 415.1 M383.4 420.2 L383.5 424.4 L385.0 428.5 L384.7 432.7 L388.1 433.2 L391.5 434.0 L395.0 434.3 L398.5 434.0 L401.0 436.1 L403.3 438.4 L406.0 440.3 L405.4 443.7 L404.3 447.0 L403.5 450.3 L400.0 452.2 L396.0 452.8 L398.3 455.6 L400.9 458.0 L403.8 460.1 L406.0 462.9 L410.2 463.1 L414.4 464.1 L418.6 464.1 L422.4 464.2 L426.1 465.4 L429.9 465.6 L433.6 465.6 L437.5 464.4 L441.2 465.4 L441.8 462.6 L443.7 460.4 L447.4 459.4 L451.2 458.9 L455.1 458.8 L458.8 457.8 L461.7 455.7 L463.9 452.9 L466.3 450.3 L465.7 446.1 L464.8 441.9 L463.8 437.7 L466.6 435.4 L470.1 434.6 L473.0 432.6 L476.4 431.5 L480.1 430.1 L483.6 428.1 L487.7 427.9 L491.4 426.4 L492.5 429.7 L495.5 431.9 L496.5 435.2 L498.3 431.1 L499.0 426.5 L501.5 422.7 L505.2 421.2 L508.9 419.6 L513.0 419.5 L516.6 417.6 L517.8 413.5 L519.0 409.4 L519.1 405.1 L517.4 402.1 L516.9 398.7 L515.6 395.5 L514.0 392.5 M516.6 417.6 L516.3 421.4 L516.7 425.1 L516.2 428.9 L516.6 432.7 L516.9 436.8 L515.2 440.7 L515.3 444.8 L514.3 448.8 L514.0 452.8 M232.1 291.6 L236.2 291.4 L240.3 292.0 L244.4 292.0 L248.5 292.8 L249.9 296.1 L250.9 299.6 L252.2 302.9 L255.3 303.8 L258.5 304.1 L258.7 300.6 L259.5 297.2 L259.8 293.6 L261.0 290.3 L264.4 289.2 L267.1 286.8 L270.8 286.2 L273.6 284.0 L276.4 280.5 L279.7 277.5 L283.6 275.2 L285.4 271.4 L287.3 267.6 L289.7 264.2 L291.2 260.2 L294.2 258.1 L296.2 255.1 L295.0 251.0 M235.9 350.6 L239.2 349.3 L242.8 348.7 L245.9 346.8 L249.6 345.7 L253.4 345.8 L257.3 346.7 L261.0 345.6 L264.0 347.1 L267.5 347.5 L270.6 349.1 L273.6 350.6 L275.5 347.7 L276.0 344.3 L276.6 340.8 L278.6 338.0 L277.3 342.3 L278.0 346.9 L276.5 351.2 L276.1 355.6 L273.4 358.8 L271.1 362.4 L268.5 365.7 L265.4 368.1 L263.9 371.9 L261.0 374.5 L262.7 377.4 L265.3 379.8 L265.9 383.4 L268.5 385.8 L272.8 384.5 L277.3 384.6 L281.8 384.5 L286.1 383.3 L289.8 382.2 L292.5 379.3 L296.2 378.2 L297.3 381.5 L299.1 384.4 L301.6 386.9 L303.0 390.0 L302.5 393.8 L303.5 397.5 L303.0 401.3" fill="none" stroke="#1c1c1c" stroke-width="1.9"/>
<path d="M118.3 107.7 L120.0 105.1 L122.8 102.5 L125.6 99.9 L128.4 97.2 L131.2 94.6 L133.8 91.7 L136.3 88.8 L140.0 87.2 L143.2 84.8 L146.3 84.8 L149.2 85.8 L152.0 86.9 L155.1 86.9 L158.5 87.1 L161.8 87.3 L165.2 86.9 L166.4 85.0 L168.3 83.8 L171.4 82.9 L174.5 81.9 L177.7 81.3 L180.6 81.5 L183.6 81.8 L186.5 81.9 L190.4 82.0 L194.1 82.9 L197.8 83.8 L201.2 83.6 L204.5 84.4 L207.9 84.0 L211.6 85.1 L215.4 85.7 L218.1 86.9 L220.4 88.8 L222.3 91.1 L224.9 92.7 L226.7 95.1 L230.0 97.1 L233.6 98.5 L236.9 100.2 L240.0 102.6 L242.5 104.8 L245.7 106.1 L248.4 108.0 L251.0 110.2 L254.6 112.0 L258.4 113.1 L262.3 113.7 L266.0 115.2 L269.3 116.3 L272.7 116.5 L276.0 117.3 L279.5 117.4 L282.7 118.8 L286.1 119.0 L289.4 119.7 L292.8 120.5 L296.2 120.9 L299.7 120.8 L303.0 121.5 L306.6 121.7 L310.2 121.8 L313.8 122.2 L317.3 122.5 L320.9 123.1 L324.4 123.8 L328.0 124.0 L331.6 123.7 L335.1 124.7 L338.7 124.6 L342.3 124.8 L345.8 125.6 L349.4 125.5 L353.0 125.8 L356.9 126.4 L360.7 127.4 L364.5 128.5 L368.4 128.7 L372.1 130.5 L376.0 130.8 L379.9 129.9 L383.9 130.4 L387.8 130.1 L391.7 128.8 L395.7 129.3 L399.6 128.5 L403.5 128.3 L407.2 128.7 L411.0 128.4 L414.8 128.8 L418.5 129.3 L422.2 130.5 L426.0 130.3 L429.9 131.1 L433.5 132.9 L437.2 134.3 L441.0 135.4 L445.0 136.0 L448.7 137.3 L452.5 137.5 L456.3 138.1 L460.0 138.8 L463.9 138.4 L467.6 139.5 L471.4 140.0 L475.2 140.4 L479.0 140.4 L482.8 141.4 L486.0 143.7 L489.9 144.3 L493.4 146.0 L496.8 147.7 L500.3 149.4 L504.0 150.4 L507.4 152.4 L510.4 155.0 L514.0 156.7 L517.4 158.6 L520.8 160.7 L524.0 163.0 L527.3 164.2 L530.5 165.6 L533.6 167.2 L536.5 169.2 L539.5 171.0 L543.0 171.7 L546.0 173.5 L549.9 174.0 L553.4 176.0 L557.3 176.4 L561.1 177.3 L564.9 178.1 L568.6 179.3 L572.6 179.2 L576.5 179.3 L580.5 178.7 L584.4 178.5 L588.4 177.9 L592.4 178.6 L596.3 178.0 L600.0 176.9 L603.8 176.8 L607.7 176.5 L611.3 175.1 L615.2 175.2 L619.0 174.8 L622.7 173.8 L626.5 173.4 L630.2 172.0 L634.0 171.8 L637.5 170.3 L641.0 168.6 L644.9 167.8 L648.2 165.8 L651.8 164.5 L655.6 163.7 L659.0 161.7 L662.7 160.8 L666.3 159.7 L669.7 157.9 L673.3 156.7 L676.9 155.7 L680.4 154.1 L684.0 152.9 L687.0 150.8 L690.3 149.0 L693.3 146.9 L696.6 145.2 L700.1 143.9 L703.2 142.0 L706.2 139.8 L709.3 137.8 L711.8 135.5 L714.2 133.1 L716.6 130.7 L719.2 128.6 L721.9 126.5 L724.6 124.2 L727.2 121.8 L729.3 118.9 L732.2 116.7 L734.7 114.2 L737.0 111.5 L738.8 109.5 L740.5 107.3 L742.0 105.0 L745.3 103.7 L748.2 101.8 L751.5 100.6 L754.6 98.9 L758.3 97.6 L762.1 96.8 L765.9 96.0 L769.6 94.9 L773.2 93.4 L777.0 92.6 L780.6 91.8 L783.9 90.2 L787.3 88.9 L790.5 87.1 L794.2 86.4 L797.5 84.8 L801.0 83.8 L804.6 84.0 L808.3 83.8 L812.0 84.1 L815.6 84.0 L819.2 84.1 L822.9 83.6 L826.5 84.0 L830.2 84.1 L833.9 84.2 L837.5 83.8 L838.0 87.2 L837.8 90.7 L838.1 94.2 L838.8 97.6 L839.5 101.4 L840.2 105.3 L841.2 109.0 L842.6 112.7 L841.6 116.5 L840.7 120.2 L840.1 124.1 L838.8 127.8 L840.3 131.5 L842.1 135.1 L844.4 138.4 L846.1 142.0 L847.9 145.6 L850.0 149.0 L847.4 149.5 L845.0 150.4 L844.1 153.8 L842.2 156.8 L841.2 160.1 L839.9 163.4 L838.8 166.7 L841.3 167.9 L843.8 169.2 L844.7 173.0 L845.6 176.8 L847.0 180.5 L845.0 182.9 L843.0 185.4 L841.3 188.0 L843.7 189.3 L845.7 191.0 L847.6 193.0 L850.1 190.5 L852.7 188.1 L854.9 185.3 L857.6 183.0 L861.0 182.4 L864.4 181.5 L867.7 180.5 L870.5 182.3 L872.7 184.9 L875.4 186.9 L877.7 189.3 L878.1 192.6 L877.9 195.8 L877.6 199.1 L877.7 202.4 L877.2 205.6 L874.1 206.4 L870.9 207.0 L867.7 207.0 L864.4 208.7 L861.0 210.5 L857.6 212.0 L854.4 212.2 L851.3 212.5 L848.2 213.2 L845.0 213.2 L846.3 215.9 L848.8 217.9 L850.0 220.7 L851.8 223.8 L853.5 226.8 L855.0 230.0 L857.7 230.0 L860.3 232.4 L863.0 234.7 L865.2 237.5 L868.3 238.2 L871.5 238.0 L874.7 238.0 L877.8 238.8 L878.5 241.8 L879.9 244.5 L880.3 247.6 L879.6 250.7 L879.2 253.9 L878.3 257.0 L877.8 260.2 L877.5 263.7 L877.9 267.2 L878.6 270.7 L878.4 274.2 L879.0 277.7 L877.6 280.2 L876.6 282.8 L875.2 285.3 L878.5 285.8 L881.5 287.3 L884.6 288.1 L887.8 289.0 L890.4 290.7 L893.2 292.0 L896.2 292.9 L899.1 294.1 L898.0 296.7 L896.2 298.9 L895.4 301.6 L892.1 302.6 L888.7 302.9 L885.3 302.9 L884.6 306.6 L884.0 310.4 L883.6 313.8 L883.8 317.3 L883.0 320.7 L882.8 324.2 L885.2 325.3 L887.8 325.5 L885.4 327.3 L882.8 328.9 L880.3 330.5 L883.7 331.0 L887.0 331.9 L890.3 333.0 L889.8 335.9 L890.4 338.9 L890.3 341.8 L887.2 341.0 L884.1 340.7 L880.9 340.8 L877.8 340.6 L875.0 342.5 L871.7 343.5 L869.0 345.6 L869.0 348.5 L869.1 351.5 L869.0 354.4 L866.5 355.2 L864.0 355.6 L865.7 357.7 L868.1 359.0 L870.2 360.7 L871.7 364.4 L872.7 368.2 L876.1 369.4 L879.6 370.3 L882.8 372.0 L886.1 372.5 L889.5 372.7 L892.8 373.2 L895.5 374.7 L897.7 376.8 L900.4 378.2 L900.9 380.8 L902.6 383.1 L902.9 385.8 L901.0 387.9 L899.1 390.0 L898.5 393.4 L897.0 396.6 L896.6 400.0 L894.7 402.4 L893.5 405.2 L891.6 407.6 L893.7 409.3 L895.4 411.4 L895.3 414.4 L894.0 417.2 L894.1 420.2 L891.7 423.2 L889.0 425.8 L886.5 428.7 L884.0 431.5 L881.0 430.1 L877.8 428.9 L879.2 425.2 L880.3 421.4 L877.2 420.5 L874.0 420.2 L871.3 418.8 L869.2 416.6 L866.5 415.1 L865.4 417.7 L863.9 420.2 L862.7 422.7 L860.7 424.9 L858.7 427.0 L856.4 428.9 L853.2 430.4 L850.1 432.1 L847.0 433.8 L843.8 435.2 L840.8 433.7 L837.6 432.7 L835.6 431.0 L833.1 429.8 L831.3 427.7 L828.2 428.6 L825.0 429.0 L821.8 429.1 L818.7 430.2 L817.0 428.6 L814.9 427.7 L815.0 425.0 L814.4 422.3 L814.9 419.6 L811.2 418.9 L807.4 418.9 L804.5 419.8 L801.5 420.5 L798.6 421.4 L797.5 425.1 L796.8 428.9 L796.1 432.7 L792.4 434.0 L788.6 435.2 L785.8 433.5 L782.7 432.8 L779.8 431.5 L776.1 432.8 L772.1 433.6 L768.5 435.2 L767.5 438.0 L766.2 440.7 L764.7 443.3 L761.5 443.6 L758.5 445.0 L755.2 444.8 L752.1 445.8 L750.4 444.1 L748.4 442.8 L747.9 439.0 L747.3 435.3 L747.1 431.5 L744.8 429.5 L742.4 427.7 L739.6 426.4 L736.8 428.7 L733.5 430.5 L730.5 432.4 L727.4 434.5 L724.4 436.5 L720.9 436.4 L717.5 436.2 L714.1 435.4 L710.6 435.2 L708.5 436.2 L706.8 437.7 L706.6 440.9 L705.5 444.0 L704.7 447.2 L703.1 450.2 L702.0 453.3 L701.3 456.6 L700.5 460.4 L696.7 461.2 L693.1 462.9 L689.2 463.2 L685.3 463.9 L681.7 465.4 L678.5 466.2 L675.6 467.7 L672.8 469.6 L669.5 470.1 L666.6 471.7 L666.9 474.6 L666.4 477.6 L666.6 480.5 L663.9 478.8 L660.8 477.8 L657.8 476.7 L656.2 479.4 L654.0 481.7 L651.4 484.4 L648.2 486.4 L646.0 489.5 L642.9 491.7 L640.2 494.3 L638.6 497.3 L637.2 500.4 L635.2 503.1 L631.8 502.0 L628.2 501.7 L624.7 500.7 L621.4 499.3 L617.6 499.8 L613.9 500.4 L610.1 500.8 L606.3 500.6 L603.8 502.4 L601.1 504.1 L598.6 505.9 L596.3 508.1 L598.8 510.7 L600.7 513.7 L603.0 516.5 L605.0 519.4 L602.0 518.0 L599.0 516.9 L596.2 515.2 L592.9 514.5 L590.0 513.1 L586.9 512.0 L584.5 509.8 L581.3 508.7 L578.7 506.8 L576.0 504.2 L573.1 501.8 L570.5 499.0 L567.4 496.8 L564.2 498.0 L561.0 499.3 L558.1 497.7 L554.9 496.5 L552.0 494.7 L548.9 493.5 L546.0 491.8 L542.7 491.0 L539.2 490.7 L535.8 490.6 L532.4 490.0 L529.1 489.2 L526.0 489.3 L522.9 488.9 L519.7 489.6 L516.6 489.2 L513.3 487.7 L509.9 486.6 L506.5 485.5 L503.4 487.6 L499.8 488.7 L496.5 490.5 L498.9 492.7 L501.0 495.2 L502.7 498.0 L500.1 500.8 L497.9 503.8 L494.9 506.2 L492.7 509.3 L489.9 507.6 L487.1 506.0 L484.6 503.8 L481.4 502.8 L478.9 500.6 L479.7 496.8 L480.1 493.0 L476.4 491.8 L473.6 490.5 L471.1 488.7 L468.8 486.7 L467.3 483.6 L465.2 480.9 L462.9 478.4 L461.3 475.4 L458.0 476.3 L454.5 475.8 L451.2 476.7 L448.8 475.3 L446.4 473.9 L443.7 472.9 L440.6 473.6 L437.4 473.4 L434.3 474.0 L431.1 474.2 L428.4 476.3 L425.6 478.1 L422.6 479.7 L419.8 481.7 L417.0 484.3 L414.0 486.8 L411.0 489.2 L407.9 488.2 L405.3 486.1 L402.2 485.0 L398.7 485.9 L395.2 486.8 L391.9 488.2 L388.4 489.2 L385.7 490.9 L383.4 493.2 L380.8 495.2 L378.3 497.2 L375.9 499.3 L374.2 496.0 L372.1 493.0 L368.3 493.7 L364.6 494.7 L360.9 495.4 L357.0 495.5 L353.8 496.8 L350.6 498.0 L347.1 498.2 L344.0 499.6 L340.7 500.6 L340.1 497.6 L338.5 494.9 L338.2 491.8 L334.8 491.4 L331.5 490.5 L328.1 490.5 L325.3 489.1 L322.4 488.1 L319.6 486.8 L316.8 485.5 L314.6 488.3 L312.1 490.8 L309.3 493.0 L312.1 495.3 L314.4 498.0 L316.9 500.5 L319.3 503.1 L316.3 505.1 L314.1 508.0 L311.3 510.2 L308.6 512.5 L306.0 514.9 L303.0 516.9 L299.7 518.4 L296.3 519.7 L292.9 520.7 L289.7 522.4 L286.1 523.2 L282.5 523.5 L279.1 524.8 L275.4 524.9 L272.0 526.0 L268.5 526.9 L266.2 529.8 L264.2 533.0 L262.0 536.0 L259.6 538.7 L258.3 542.2 L256.0 545.0 L253.4 546.3 L251.0 548.0 L249.3 545.8 L248.2 543.2 L246.5 541.0 L247.1 538.4 L247.2 535.7 L244.7 538.2 L241.9 539.4 L238.9 540.2 L235.9 540.8 L232.6 541.7 L229.2 541.9 L225.8 542.0 L223.5 543.7 L220.8 544.6 L218.3 545.8 L216.1 543.7 L213.2 542.6 L210.8 540.8 L207.3 539.3 L204.1 537.4 L200.7 535.7 L197.4 534.3 L194.5 532.3 L191.4 530.8 L188.1 529.4 L185.7 526.7 L183.7 523.8 L181.9 520.7 L178.9 521.4 L175.8 521.9 L173.0 523.2 L171.6 526.6 L170.6 530.2 L167.2 529.2 L164.0 527.5 L160.5 526.9 L157.4 528.7 L154.0 529.9 L150.5 530.7 L147.2 529.1 L143.7 528.3 L140.4 526.9 L137.7 526.1 L135.4 524.4 L132.9 523.2 L130.1 524.4 L127.8 526.5 L125.3 528.2 L121.5 527.1 L117.6 526.1 L114.0 524.4 L111.2 522.6 L109.3 519.7 L106.5 517.8 L104.0 515.6 L106.8 513.4 L109.0 510.6 L107.3 507.6 L106.2 504.4 L104.8 501.3 L104.0 498.0 L101.0 497.3 L98.0 496.8 L95.2 495.5 L91.8 494.9 L88.4 493.9 L85.1 493.0 L81.3 492.0 L77.6 490.5 L77.1 486.8 L77.6 483.0 L80.5 480.4 L84.2 479.0 L86.8 476.1 L90.2 474.2 L93.3 473.6 L96.4 472.9 L96.9 469.7 L97.7 466.6 L101.0 465.4 L104.2 463.7 L107.7 462.9 L107.9 459.9 L108.1 457.0 L109.0 454.1 L110.9 453.5 L112.8 452.8 L112.9 455.4 L114.0 457.8 L116.5 458.8 L118.9 459.9 L121.6 460.4 L124.2 457.6 L126.9 455.0 L130.1 452.9 L132.9 450.3 L134.1 447.8 L135.4 445.3 L137.9 443.5 L140.3 441.4 L143.0 439.7 L145.4 437.7 L147.8 435.4 L150.1 433.0 L151.8 430.1 L154.2 427.7 L153.5 424.0 L153.0 420.2 L149.8 420.1 L146.7 421.1 L143.6 421.5 L140.4 421.4 L137.3 421.9 L134.1 422.5 L130.9 422.1 L127.8 422.7 L130.5 421.1 L132.7 418.7 L135.1 416.7 L137.9 415.1 L141.3 413.7 L144.9 412.8 L148.3 411.7 L152.0 411.0 L155.5 410.1 L158.0 411.4 L160.5 412.6 L162.9 411.1 L165.3 409.6 L168.0 408.8 L168.9 405.1 L169.3 401.3 L172.4 399.3 L175.7 398.0 L179.0 396.6 L182.3 395.2 L185.6 393.8 L188.8 392.1 L192.3 391.2 L195.7 390.0 L198.0 387.1 L200.7 384.5 L203.1 382.5 L205.1 380.1 L207.6 378.2 L209.5 375.7 L210.5 372.4 L211.4 369.1 L212.0 365.7 L214.6 363.3 L217.0 360.7 L219.1 358.6 L221.4 356.7 L223.3 354.4 L226.5 353.6 L229.8 353.0 L232.9 351.8 L236.0 350.6 L235.9 346.8 L232.8 345.1 L229.5 343.9 L226.6 341.8 L223.3 340.6 L223.2 337.5 L223.3 334.3 L225.6 332.1 L228.1 330.1 L230.7 328.3 L233.4 326.7 L233.5 323.3 L234.4 320.1 L234.6 316.7 L233.2 313.0 L231.7 309.3 L231.0 305.4 L231.5 301.6 L231.6 297.9 L231.2 294.0 L232.0 290.3 L229.8 288.2 L228.0 285.8 L226.5 283.2 L223.4 284.6 L220.1 285.4 L216.9 286.5 L213.9 288.1 L210.8 289.5 L208.9 292.8 L206.5 295.8 L208.2 292.4 L210.0 289.0 L213.1 286.9 L216.2 284.8 L219.2 282.5 L222.7 281.1 L225.8 279.0 L223.5 277.4 L220.9 276.2 L218.3 275.2 L215.8 273.8 L213.9 271.7 L211.6 270.0 L208.2 267.9 L205.3 265.3 L203.3 262.4 L200.9 259.7 L201.8 257.8 L202.8 255.9 L199.1 254.8 L195.3 254.6 L193.9 252.8 L192.1 251.5 L194.0 249.3 L196.5 247.7 L199.1 249.0 L201.3 251.0 L204.1 252.1 L206.9 250.5 L209.7 249.0 L209.9 245.8 L210.3 242.7 L212.2 240.8 L214.1 239.0 L217.0 238.3 L219.7 237.0 L217.9 233.9 L215.4 231.4 L217.9 229.1 L220.7 227.2 L222.9 224.5 L221.3 221.3 L219.2 218.4 L217.9 215.1 L216.1 212.4 L213.6 210.2 L211.6 207.6 L211.7 205.3 L212.8 203.2 L210.7 203.7 L209.1 205.1 L209.3 208.6 L208.5 212.0 L205.9 212.8 L203.4 213.8 L200.9 216.0 L198.4 218.2 L197.1 220.9 L196.5 223.9 L193.7 225.7 L191.0 227.6 L188.2 229.3 L185.2 230.8 L181.9 228.9 L179.0 226.4 L175.7 224.7 L172.2 223.2 L168.9 221.4 L166.0 220.5 L163.0 220.4 L160.1 219.5 L158.4 216.9 L156.7 214.3 L155.8 211.2 L153.8 208.8 L151.6 206.0 L148.8 203.8 L145.8 202.8 L142.6 202.6 L140.2 200.2 L137.5 198.2 L134.8 196.1 L132.8 193.3 L130.0 191.3 L127.6 188.6 L124.7 186.3 L122.4 183.6 L119.9 181.0 L117.8 178.0 L115.5 175.7 L113.1 173.5 L110.3 171.8 L108.2 170.1 L106.5 168.0 L108.6 166.3 L110.3 164.2 L108.8 162.5 L107.7 160.5 L107.1 157.1 L106.4 153.7 L105.2 150.4 L105.8 147.5 L106.4 144.6 L106.5 141.6 L109.1 139.2 L111.5 136.7 L114.5 134.8 L117.2 132.6 L119.8 130.3 L119.3 127.1 L119.4 123.8 L119.1 120.5 L118.6 117.3 L119.0 114.0 L118.4 110.9 L118.3 107.7Z" fill="none" stroke="#151515" stroke-width="2.1"/>
</g>
<g>
<defs><pattern id="ht" width="1.6" height="1.6" patternUnits="userSpaceOnUse" patternTransform="rotate(12)"><rect width="1.6" height="1.6" fill="#e8e8e8"/><rect width="0.8" height="1.6" fill="#8a8a8a"/></pattern></defs>
<path d="M910.5 19.6 L893.2 60.9 L910.5 44.7 Z" fill="url(#ht)"/>
<path d="M910.5 19.6 L893.2 60.9 L910.5 44.7 L927.7 60.9 Z M910.5 19.6 L910.5 44.7" fill="none" stroke="#000" stroke-width="1.4" stroke-linejoin="miter"/>
</g>
<g fill="none" stroke="#596b2b" stroke-width="1.25" stroke-linecap="round" stroke-linejoin="round">
<circle cx="57.6" cy="40.6" r="18.0"/>
<path d="M57.6 27.2 C53.6 30.6 53.0 35.0 57.6 38.6 C62.2 35.0 61.6 30.6 57.6 27.2 Z"/>
<path d="M57.6 44.6 C53.6 40.0 49.6 39.6 45.8 40.4 C47.4 44.4 51.6 46.6 57.6 44.6 Z"/>
<path d="M57.6 44.6 C61.6 40.0 65.6 39.6 69.4 40.4 C67.8 44.4 63.6 46.6 57.6 44.6 Z"/>
<path d="M57.6 33.5 L57.6 57.5"/>
<path d="M55.2 37.2 L57.6 39.4 L60.0 37.2"/>
<path d="M42.5 51.0 C48 49.0 53 49.3 57.6 50.6 C62.2 49.3 67.2 49.0 72.7 51.0"/>
<path d="M45.0 54.2 C50 52.2 54 52.6 57.6 53.8 C61.2 52.6 65.2 52.2 70.2 54.2"/>
</g>
<g fill="#d99a1f"><path d="M46.8 33.2l0.7 1.4 1.4 0.7-1.4 0.7-0.7 1.4-0.7-1.4-1.4-0.7 1.4-0.7z"/><path d="M68.6 45.2l0.7 1.4 1.4 0.7-1.4 0.7-0.7 1.4-0.7-1.4-1.4-0.7 1.4-0.7z"/></g>
<text x="80.6" y="43.4" font-family="'Liberation Sans',sans-serif" font-size="22.6" font-weight="400" fill="#d8991b" stroke="#d8991b" stroke-width="0.95" textLength="100.6" lengthAdjust="spacing">FREDON</text>
<text x="80.6" y="54.6" font-family="'Liberation Sans',sans-serif" font-size="10.4" fill="#596b2b" textLength="79" lengthAdjust="spacing">NORMANDIE</text>
<text x="521.5" y="29.8" text-anchor="middle" font-family="'DejaVu Sans Condensed','DejaVu Sans','Liberation Sans',sans-serif" font-weight="700" font-size="18.6" fill="#000" stroke="#000" stroke-width="0.3" textLength="620.5" lengthAdjust="spacingAndGlyphs">Communes engagées dans le programme de lutte collective</text>
<text x="521" y="52.2" text-anchor="middle" font-family="'DejaVu Sans Condensed','DejaVu Sans','Liberation Sans',sans-serif" font-weight="700" font-size="18.6" fill="#000" stroke="#000" stroke-width="0.3" textLength="351.5" lengthAdjust="spacingAndGlyphs">contre le frelon asiatique en 2025</text>
<text x="521.8" y="72" text-anchor="middle" font-family="'DejaVu Sans Condensed','DejaVu Sans','Liberation Sans',sans-serif" font-size="10.7" fill="#000" textLength="148.5" lengthAdjust="spacingAndGlyphs">(mise à jour le 28 août 2025)</text>
<rect x="43" y="613.5" width="70.6" height="9.6" fill="#000"/>
<rect x="113.6" y="614" width="69.4" height="8.8" fill="#fff" stroke="#7a7a7a" stroke-width="0.9"/>
<text x="43.2" y="605" text-anchor="middle" font-family="'DejaVu Sans Condensed','DejaVu Sans','Liberation Sans',sans-serif" font-size="12" fill="#000">0</text>
<text x="113.4" y="605" text-anchor="middle" font-family="'DejaVu Sans Condensed','DejaVu Sans','Liberation Sans',sans-serif" font-size="12" fill="#000">10</text>
<text x="176" y="605" font-family="'DejaVu Sans Condensed','DejaVu Sans','Liberation Sans',sans-serif" font-size="12" fill="#000" textLength="36.5" lengthAdjust="spacingAndGlyphs">20 km</text>
<text x="442.6" y="553.9" font-family="'DejaVu Sans Condensed','DejaVu Sans','Liberation Sans',sans-serif" font-size="16.8" fill="#000" textLength="68" lengthAdjust="spacingAndGlyphs">Légende</text>
<rect x="442.5" y="565.5" width="23.4" height="10.6" fill="#ffffff" stroke="#222" stroke-width="0.9"/>
<text x="473" y="574.9" font-family="'DejaVu Sans Condensed','DejaVu Sans','Liberation Sans',sans-serif" font-size="12.6" fill="#000" textLength="219.2" lengthAdjust="spacingAndGlyphs">Commune sans retour de convention</text>
<rect x="442" y="582.9" width="24.4" height="11.4" fill="#90e168"/>
<text x="473" y="592.8" font-family="'DejaVu Sans Condensed','DejaVu Sans','Liberation Sans',sans-serif" font-size="12.6" fill="#000" textLength="115.6" lengthAdjust="spacingAndGlyphs">Commune engagée</text>
<rect x="442.5" y="601.3" width="23.4" height="10.6" fill="#9bc99b" stroke="#222" stroke-width="0.9"/>
<text x="473" y="610.7" font-family="'DejaVu Sans Condensed','DejaVu Sans','Liberation Sans',sans-serif" font-size="12.6" fill="#000" textLength="491.2" lengthAdjust="spacingAndGlyphs">Commune engagée de manière individuelle dans la lutte contre le frelon asiatique</text>
<rect x="442.5" y="619.4" width="23.4" height="10.6" fill="#d3844f" stroke="#222" stroke-width="0.9"/>
<text x="473" y="628.8" font-family="'DejaVu Sans Condensed','DejaVu Sans','Liberation Sans',sans-serif" font-size="12.6" fill="#000" textLength="398.9" lengthAdjust="spacingAndGlyphs">Commune ayant refusé la lutte collective contre le frelon asiatique</text>
</svg>
</body></html>
